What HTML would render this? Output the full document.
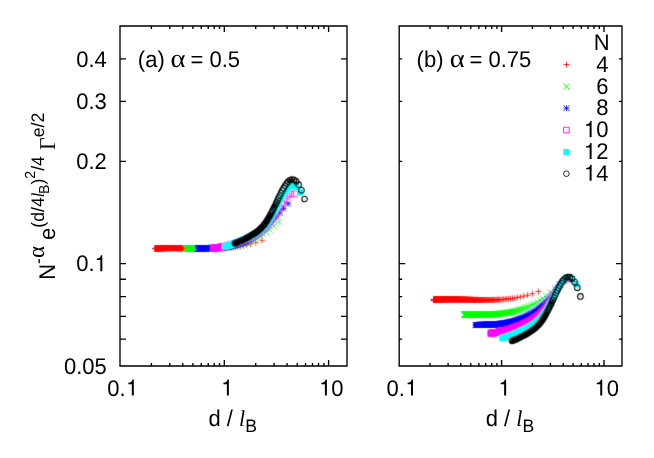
<!DOCTYPE html>
<html><head><meta charset="utf-8"><title>plot</title><style>html,body{margin:0;padding:0;background:#fff}svg{display:block}text{filter:grayscale(1)}</style></head><body>
<svg width="654" height="458" viewBox="0 0 654 458">
<rect width="654" height="458" fill="#fff"/>
<g font-family="Liberation Sans, sans-serif" font-size="22.0" fill="#000" text-rendering="geometricPrecision">
<defs><filter id="sb" x="0" y="0" width="654" height="458" filterUnits="userSpaceOnUse"><feConvolveMatrix order="3" kernelMatrix="0.02 0.08 0.02 0.08 0.6 0.08 0.02 0.08 0.02" divisor="1" edgeMode="none" preserveAlpha="false"/></filter></defs>
<g filter="url(#sb)">
<path d="M152.0 248.5h6.0M155.0 245.5v6.0M152.1 248.5h6.0M155.1 245.5v6.0M152.1 248.5h6.0M155.1 245.5v6.0M152.2 248.5h6.0M155.2 245.5v6.0M152.3 248.5h6.0M155.3 245.5v6.0M152.3 248.5h6.0M155.3 245.5v6.0M152.4 248.5h6.0M155.4 245.5v6.0M152.5 248.5h6.0M155.5 245.5v6.0M152.5 248.5h6.0M155.5 245.5v6.0M152.6 248.5h6.0M155.6 245.5v6.0M152.7 248.5h6.0M155.7 245.5v6.0M152.7 248.5h6.0M155.7 245.5v6.0M152.8 248.5h6.0M155.8 245.5v6.0M152.9 248.5h6.0M155.9 245.5v6.0M152.9 248.5h6.0M155.9 245.5v6.0M153.0 248.5h6.0M156.0 245.5v6.0M153.1 248.5h6.0M156.1 245.5v6.0M153.1 248.5h6.0M156.1 245.5v6.0M153.2 248.5h6.0M156.2 245.5v6.0M153.3 248.5h6.0M156.3 245.5v6.0M153.3 248.5h6.0M156.3 245.5v6.0M153.4 248.5h6.0M156.4 245.5v6.0M153.5 248.5h6.0M156.5 245.5v6.0M153.5 248.5h6.0M156.5 245.5v6.0M153.6 248.5h6.0M156.6 245.5v6.0M153.7 248.4h6.0M156.7 245.4v6.0M153.7 248.4h6.0M156.7 245.4v6.0M153.8 248.4h6.0M156.8 245.4v6.0M153.9 248.4h6.0M156.9 245.4v6.0M153.9 248.4h6.0M156.9 245.4v6.0M154.0 248.4h6.0M157.0 245.4v6.0M154.1 248.4h6.0M157.1 245.4v6.0M154.2 248.4h6.0M157.2 245.4v6.0M154.2 248.4h6.0M157.2 245.4v6.0M154.3 248.4h6.0M157.3 245.4v6.0M154.4 248.4h6.0M157.4 245.4v6.0M154.4 248.4h6.0M157.4 245.4v6.0M154.5 248.4h6.0M157.5 245.4v6.0M154.6 248.4h6.0M157.6 245.4v6.0M154.7 248.4h6.0M157.7 245.4v6.0M154.7 248.4h6.0M157.7 245.4v6.0M154.8 248.4h6.0M157.8 245.4v6.0M154.9 248.4h6.0M157.9 245.4v6.0M154.9 248.4h6.0M157.9 245.4v6.0M155.0 248.4h6.0M158.0 245.4v6.0M155.1 248.4h6.0M158.1 245.4v6.0M155.2 248.4h6.0M158.2 245.4v6.0M155.2 248.4h6.0M158.2 245.4v6.0M155.3 248.4h6.0M158.3 245.4v6.0M155.4 248.4h6.0M158.4 245.4v6.0M155.5 248.4h6.0M158.5 245.4v6.0M155.5 248.3h6.0M158.5 245.3v6.0M155.6 248.3h6.0M158.6 245.3v6.0M155.7 248.3h6.0M158.7 245.3v6.0M155.8 248.3h6.0M158.8 245.3v6.0M155.8 248.3h6.0M158.8 245.3v6.0M155.9 248.3h6.0M158.9 245.3v6.0M156.0 248.3h6.0M159.0 245.3v6.0M156.1 248.3h6.0M159.1 245.3v6.0M156.1 248.3h6.0M159.1 245.3v6.0M156.2 248.3h6.0M159.2 245.3v6.0M156.3 248.3h6.0M159.3 245.3v6.0M156.4 248.3h6.0M159.4 245.3v6.0M156.4 248.3h6.0M159.4 245.3v6.0M156.5 248.3h6.0M159.5 245.3v6.0M156.6 248.3h6.0M159.6 245.3v6.0M156.7 248.3h6.0M159.7 245.3v6.0M156.8 248.3h6.0M159.8 245.3v6.0M156.8 248.3h6.0M159.8 245.3v6.0M156.9 248.3h6.0M159.9 245.3v6.0M157.0 248.3h6.0M160.0 245.3v6.0M157.1 248.3h6.0M160.1 245.3v6.0M157.2 248.3h6.0M160.2 245.3v6.0M157.2 248.3h6.0M160.2 245.3v6.0M157.3 248.3h6.0M160.3 245.3v6.0M157.4 248.3h6.0M160.4 245.3v6.0M157.5 248.3h6.0M160.5 245.3v6.0M157.6 248.3h6.0M160.6 245.3v6.0M157.6 248.3h6.0M160.6 245.3v6.0M157.7 248.3h6.0M160.7 245.3v6.0M157.8 248.3h6.0M160.8 245.3v6.0M157.9 248.3h6.0M160.9 245.3v6.0M158.0 248.2h6.0M161.0 245.2v6.0M158.0 248.2h6.0M161.0 245.2v6.0M158.1 248.2h6.0M161.1 245.2v6.0M158.2 248.2h6.0M161.2 245.2v6.0M158.3 248.2h6.0M161.3 245.2v6.0M158.4 248.2h6.0M161.4 245.2v6.0M158.5 248.2h6.0M161.5 245.2v6.0M158.6 248.2h6.0M161.6 245.2v6.0M158.6 248.2h6.0M161.6 245.2v6.0M158.7 248.2h6.0M161.7 245.2v6.0M158.8 248.2h6.0M161.8 245.2v6.0M158.9 248.2h6.0M161.9 245.2v6.0M159.0 248.2h6.0M162.0 245.2v6.0M159.1 248.2h6.0M162.1 245.2v6.0M159.2 248.2h6.0M162.2 245.2v6.0M159.2 248.2h6.0M162.2 245.2v6.0M159.3 248.2h6.0M162.3 245.2v6.0M159.4 248.2h6.0M162.4 245.2v6.0M159.5 248.2h6.0M162.5 245.2v6.0M159.6 248.2h6.0M162.6 245.2v6.0M159.7 248.2h6.0M162.7 245.2v6.0M159.8 248.2h6.0M162.8 245.2v6.0M159.9 248.2h6.0M162.9 245.2v6.0M160.0 248.2h6.0M163.0 245.2v6.0M160.0 248.2h6.0M163.0 245.2v6.0M160.1 248.2h6.0M163.1 245.2v6.0M160.2 248.2h6.0M163.2 245.2v6.0M160.3 248.2h6.0M163.3 245.2v6.0M160.4 248.2h6.0M163.4 245.2v6.0M160.5 248.2h6.0M163.5 245.2v6.0M160.6 248.2h6.0M163.6 245.2v6.0M160.7 248.2h6.0M163.7 245.2v6.0M160.8 248.2h6.0M163.8 245.2v6.0M160.9 248.2h6.0M163.9 245.2v6.0M161.0 248.2h6.0M164.0 245.2v6.0M161.1 248.2h6.0M164.1 245.2v6.0M161.2 248.2h6.0M164.2 245.2v6.0M161.3 248.2h6.0M164.3 245.2v6.0M161.4 248.2h6.0M164.4 245.2v6.0M161.5 248.2h6.0M164.5 245.2v6.0M161.6 248.1h6.0M164.6 245.1v6.0M161.6 248.1h6.0M164.6 245.1v6.0M161.7 248.1h6.0M164.7 245.1v6.0M161.8 248.1h6.0M164.8 245.1v6.0M161.9 248.1h6.0M164.9 245.1v6.0M162.0 248.1h6.0M165.0 245.1v6.0M162.1 248.1h6.0M165.1 245.1v6.0M162.2 248.1h6.0M165.2 245.1v6.0M162.3 248.1h6.0M165.3 245.1v6.0M162.4 248.1h6.0M165.4 245.1v6.0M162.5 248.1h6.0M165.5 245.1v6.0M162.6 248.1h6.0M165.6 245.1v6.0M162.7 248.1h6.0M165.7 245.1v6.0M162.9 248.1h6.0M165.9 245.1v6.0M163.0 248.1h6.0M166.0 245.1v6.0M163.1 248.1h6.0M166.1 245.1v6.0M163.2 248.1h6.0M166.2 245.1v6.0M163.3 248.1h6.0M166.3 245.1v6.0M163.4 248.1h6.0M166.4 245.1v6.0M163.5 248.1h6.0M166.5 245.1v6.0M163.6 248.1h6.0M166.6 245.1v6.0M163.7 248.1h6.0M166.7 245.1v6.0M163.8 248.1h6.0M166.8 245.1v6.0M163.9 248.1h6.0M166.9 245.1v6.0M164.0 248.1h6.0M167.0 245.1v6.0M164.1 248.1h6.0M167.1 245.1v6.0M164.2 248.1h6.0M167.2 245.1v6.0M164.3 248.1h6.0M167.3 245.1v6.0M164.4 248.1h6.0M167.4 245.1v6.0M164.6 248.1h6.0M167.6 245.1v6.0M164.7 248.1h6.0M167.7 245.1v6.0M164.8 248.1h6.0M167.8 245.1v6.0M164.9 248.1h6.0M167.9 245.1v6.0M165.0 248.1h6.0M168.0 245.1v6.0M165.1 248.1h6.0M168.1 245.1v6.0M165.2 248.1h6.0M168.2 245.1v6.0M165.4 248.1h6.0M168.4 245.1v6.0M165.5 248.1h6.0M168.5 245.1v6.0M165.6 248.1h6.0M168.6 245.1v6.0M165.7 248.1h6.0M168.7 245.1v6.0M165.8 248.1h6.0M168.8 245.1v6.0M165.9 248.1h6.0M168.9 245.1v6.0M166.1 248.1h6.0M169.1 245.1v6.0M166.2 248.1h6.0M169.2 245.1v6.0M166.3 248.1h6.0M169.3 245.1v6.0M166.4 248.1h6.0M169.4 245.1v6.0M166.5 248.1h6.0M169.5 245.1v6.0M166.7 248.1h6.0M169.7 245.1v6.0M166.8 248.1h6.0M169.8 245.1v6.0M166.9 248.1h6.0M169.9 245.1v6.0M167.0 248.1h6.0M170.0 245.1v6.0M167.1 248.1h6.0M170.1 245.1v6.0M167.3 248.1h6.0M170.3 245.1v6.0M167.4 248.1h6.0M170.4 245.1v6.0M167.5 248.1h6.0M170.5 245.1v6.0M167.6 248.1h6.0M170.6 245.1v6.0M167.8 248.1h6.0M170.8 245.1v6.0M167.9 248.1h6.0M170.9 245.1v6.0M168.0 248.1h6.0M171.0 245.1v6.0M168.2 248.1h6.0M171.2 245.1v6.0M168.3 248.1h6.0M171.3 245.1v6.0M168.4 248.1h6.0M171.4 245.1v6.0M168.6 248.1h6.0M171.6 245.1v6.0M168.7 248.1h6.0M171.7 245.1v6.0M168.8 248.1h6.0M171.8 245.1v6.0M169.0 248.1h6.0M172.0 245.1v6.0M169.1 248.1h6.0M172.1 245.1v6.0M169.2 248.1h6.0M172.2 245.1v6.0M169.4 248.1h6.0M172.4 245.1v6.0M169.5 248.1h6.0M172.5 245.1v6.0M169.6 248.1h6.0M172.6 245.1v6.0M169.8 248.1h6.0M172.8 245.1v6.0M169.9 248.1h6.0M172.9 245.1v6.0M170.1 248.1h6.0M173.1 245.1v6.0M170.2 248.1h6.0M173.2 245.1v6.0M170.3 248.1h6.0M173.3 245.1v6.0M170.5 248.1h6.0M173.5 245.1v6.0M170.6 248.1h6.0M173.6 245.1v6.0M170.8 248.1h6.0M173.8 245.1v6.0M170.9 248.1h6.0M173.9 245.1v6.0M171.1 248.1h6.0M174.1 245.1v6.0M171.2 248.1h6.0M174.2 245.1v6.0M171.4 248.1h6.0M174.4 245.1v6.0M171.5 248.1h6.0M174.5 245.1v6.0M171.7 248.1h6.0M174.7 245.1v6.0M171.8 248.1h6.0M174.8 245.1v6.0M172.0 248.1h6.0M175.0 245.1v6.0M172.1 248.1h6.0M175.1 245.1v6.0M172.3 248.1h6.0M175.3 245.1v6.0M172.4 248.1h6.0M175.4 245.1v6.0M172.6 248.1h6.0M175.6 245.1v6.0M172.8 248.1h6.0M175.8 245.1v6.0M172.9 248.1h6.0M175.9 245.1v6.0M173.1 248.1h6.0M176.1 245.1v6.0M173.2 248.1h6.0M176.2 245.1v6.0M173.4 248.1h6.0M176.4 245.1v6.0M173.6 248.2h6.0M176.6 245.2v6.0M173.7 248.2h6.0M176.7 245.2v6.0M173.9 248.2h6.0M176.9 245.2v6.0M174.1 248.2h6.0M177.1 245.2v6.0M174.2 248.2h6.0M177.2 245.2v6.0M174.4 248.2h6.0M177.4 245.2v6.0M174.6 248.2h6.0M177.6 245.2v6.0M174.8 248.2h6.0M177.8 245.2v6.0M174.9 248.2h6.0M177.9 245.2v6.0M175.1 248.2h6.0M178.1 245.2v6.0M175.3 248.2h6.0M178.3 245.2v6.0M175.5 248.2h6.0M178.5 245.2v6.0M175.6 248.2h6.0M178.6 245.2v6.0M175.8 248.2h6.0M178.8 245.2v6.0M176.0 248.2h6.0M179.0 245.2v6.0M176.2 248.2h6.0M179.2 245.2v6.0M176.4 248.2h6.0M179.4 245.2v6.0M176.6 248.2h6.0M179.6 245.2v6.0M176.8 248.2h6.0M179.8 245.2v6.0M176.9 248.2h6.0M179.9 245.2v6.0M177.1 248.2h6.0M180.1 245.2v6.0M177.3 248.2h6.0M180.3 245.2v6.0M177.5 248.2h6.0M180.5 245.2v6.0M177.7 248.2h6.0M180.7 245.2v6.0M177.9 248.2h6.0M180.9 245.2v6.0M178.1 248.2h6.0M181.1 245.2v6.0M178.3 248.2h6.0M181.3 245.2v6.0M178.5 248.3h6.0M181.5 245.3v6.0M178.7 248.3h6.0M181.7 245.3v6.0M178.9 248.3h6.0M181.9 245.3v6.0M179.2 248.3h6.0M182.2 245.3v6.0M179.4 248.3h6.0M182.4 245.3v6.0M179.6 248.3h6.0M182.6 245.3v6.0M179.8 248.3h6.0M182.8 245.3v6.0M180.0 248.3h6.0M183.0 245.3v6.0M180.2 248.3h6.0M183.2 245.3v6.0M180.5 248.3h6.0M183.5 245.3v6.0M180.7 248.3h6.0M183.7 245.3v6.0M180.9 248.3h6.0M183.9 245.3v6.0M181.1 248.3h6.0M184.1 245.3v6.0M181.4 248.3h6.0M184.4 245.3v6.0M181.6 248.3h6.0M184.6 245.3v6.0M181.8 248.3h6.0M184.8 245.3v6.0M182.1 248.4h6.0M185.1 245.4v6.0M182.3 248.4h6.0M185.3 245.4v6.0M182.6 248.4h6.0M185.6 245.4v6.0M182.8 248.4h6.0M185.8 245.4v6.0M183.1 248.4h6.0M186.1 245.4v6.0M183.3 248.4h6.0M186.3 245.4v6.0M183.6 248.4h6.0M186.6 245.4v6.0M183.8 248.4h6.0M186.8 245.4v6.0M184.1 248.4h6.0M187.1 245.4v6.0M184.4 248.4h6.0M187.4 245.4v6.0M184.6 248.4h6.0M187.6 245.4v6.0M184.9 248.4h6.0M187.9 245.4v6.0M185.2 248.4h6.0M188.2 245.4v6.0M185.5 248.4h6.0M188.5 245.4v6.0M185.7 248.5h6.0M188.7 245.5v6.0M186.0 248.5h6.0M189.0 245.5v6.0M186.3 248.5h6.0M189.3 245.5v6.0M186.6 248.5h6.0M189.6 245.5v6.0M186.9 248.5h6.0M189.9 245.5v6.0M187.2 248.5h6.0M190.2 245.5v6.0M187.5 248.5h6.0M190.5 245.5v6.0M187.8 248.5h6.0M190.8 245.5v6.0M188.1 248.5h6.0M191.1 245.5v6.0M188.4 248.5h6.0M191.4 245.5v6.0M188.8 248.5h6.0M191.8 245.5v6.0M189.1 248.6h6.0M192.1 245.6v6.0M189.4 248.6h6.0M192.4 245.6v6.0M189.7 248.6h6.0M192.7 245.6v6.0M190.1 248.6h6.0M193.1 245.6v6.0M190.4 248.6h6.0M193.4 245.6v6.0M190.8 248.6h6.0M193.8 245.6v6.0M191.1 248.6h6.0M194.1 245.6v6.0M191.5 248.6h6.0M194.5 245.6v6.0M191.9 248.6h6.0M194.9 245.6v6.0M192.2 248.6h6.0M195.2 245.6v6.0M192.6 248.7h6.0M195.6 245.7v6.0M193.0 248.7h6.0M196.0 245.7v6.0M193.4 248.7h6.0M196.4 245.7v6.0M193.8 248.7h6.0M196.8 245.7v6.0M194.2 248.7h6.0M197.2 245.7v6.0M194.6 248.7h6.0M197.6 245.7v6.0M195.0 248.7h6.0M198.0 245.7v6.0M195.5 248.7h6.0M198.5 245.7v6.0M195.9 248.7h6.0M198.9 245.7v6.0M196.4 248.7h6.0M199.4 245.7v6.0M196.8 248.8h6.0M199.8 245.8v6.0M197.3 248.8h6.0M200.3 245.8v6.0M197.7 248.8h6.0M200.7 245.8v6.0M198.2 248.8h6.0M201.2 245.8v6.0M198.7 248.8h6.0M201.7 245.8v6.0M199.2 248.8h6.0M202.2 245.8v6.0M199.8 248.8h6.0M202.8 245.8v6.0M200.3 248.8h6.0M203.3 245.8v6.0M200.8 248.8h6.0M203.8 245.8v6.0M201.4 248.8h6.0M204.4 245.8v6.0M202.0 248.8h6.0M205.0 245.8v6.0M202.5 248.8h6.0M205.5 245.8v6.0M203.1 248.8h6.0M206.1 245.8v6.0M203.8 248.9h6.0M206.8 245.9v6.0M204.4 248.9h6.0M207.4 245.9v6.0M205.0 248.9h6.0M208.0 245.9v6.0M205.7 248.9h6.0M208.7 245.9v6.0M206.4 248.9h6.0M209.4 245.9v6.0M207.1 248.9h6.0M210.1 245.9v6.0M207.9 248.8h6.0M210.9 245.8v6.0M208.6 248.8h6.0M211.6 245.8v6.0M209.4 248.8h6.0M212.4 245.8v6.0M210.2 248.8h6.0M213.2 245.8v6.0M211.1 248.8h6.0M214.1 245.8v6.0M212.0 248.8h6.0M215.0 245.8v6.0M212.9 248.8h6.0M215.9 245.8v6.0M213.8 248.7h6.0M216.8 245.7v6.0M214.8 248.7h6.0M217.8 245.7v6.0M215.9 248.7h6.0M218.9 245.7v6.0M217.0 248.6h6.0M220.0 245.6v6.0M218.1 248.5h6.0M221.1 245.5v6.0M219.4 248.5h6.0M222.4 245.5v6.0M220.6 248.4h6.0M223.6 245.4v6.0M222.0 248.3h6.0M225.0 245.3v6.0M223.4 248.2h6.0M226.4 245.2v6.0M225.0 248.1h6.0M228.0 245.1v6.0M226.6 247.9h6.0M229.6 244.9v6.0M228.4 247.7h6.0M231.4 244.7v6.0M230.4 247.5h6.0M233.4 244.5v6.0M232.5 247.2h6.0M235.5 244.2v6.0M234.8 246.8h6.0M237.8 243.8v6.0M237.4 246.4h6.0M240.4 243.4v6.0M240.4 245.8h6.0M243.4 242.8v6.0M243.8 245.0h6.0M246.8 242.0v6.0M247.8 244.0h6.0M250.8 241.0v6.0M252.7 242.5h6.0M255.7 239.5v6.0M258.9 240.3h6.0M261.9 237.3v6.0" fill="none" stroke="#ff0000" stroke-width="0.8"/>
<path d="M183.2 245.5l6.0 6.0M183.2 251.5l6.0 -6.0M183.3 245.5l6.0 6.0M183.3 251.5l6.0 -6.0M183.4 245.5l6.0 6.0M183.4 251.5l6.0 -6.0M183.5 245.5l6.0 6.0M183.5 251.5l6.0 -6.0M183.6 245.5l6.0 6.0M183.6 251.5l6.0 -6.0M183.7 245.5l6.0 6.0M183.7 251.5l6.0 -6.0M183.8 245.5l6.0 6.0M183.8 251.5l6.0 -6.0M183.9 245.5l6.0 6.0M183.9 251.5l6.0 -6.0M184.0 245.5l6.0 6.0M184.0 251.5l6.0 -6.0M184.1 245.5l6.0 6.0M184.1 251.5l6.0 -6.0M184.2 245.5l6.0 6.0M184.2 251.5l6.0 -6.0M184.3 245.5l6.0 6.0M184.3 251.5l6.0 -6.0M184.4 245.5l6.0 6.0M184.4 251.5l6.0 -6.0M184.5 245.5l6.0 6.0M184.5 251.5l6.0 -6.0M184.6 245.5l6.0 6.0M184.6 251.5l6.0 -6.0M184.7 245.5l6.0 6.0M184.7 251.5l6.0 -6.0M184.8 245.5l6.0 6.0M184.8 251.5l6.0 -6.0M184.9 245.5l6.0 6.0M184.9 251.5l6.0 -6.0M185.0 245.5l6.0 6.0M185.0 251.5l6.0 -6.0M185.1 245.5l6.0 6.0M185.1 251.5l6.0 -6.0M185.2 245.5l6.0 6.0M185.2 251.5l6.0 -6.0M185.3 245.5l6.0 6.0M185.3 251.5l6.0 -6.0M185.4 245.5l6.0 6.0M185.4 251.5l6.0 -6.0M185.5 245.5l6.0 6.0M185.5 251.5l6.0 -6.0M185.6 245.5l6.0 6.0M185.6 251.5l6.0 -6.0M185.7 245.5l6.0 6.0M185.7 251.5l6.0 -6.0M185.8 245.5l6.0 6.0M185.8 251.5l6.0 -6.0M185.9 245.5l6.0 6.0M185.9 251.5l6.0 -6.0M186.0 245.5l6.0 6.0M186.0 251.5l6.0 -6.0M186.1 245.5l6.0 6.0M186.1 251.5l6.0 -6.0M186.2 245.5l6.0 6.0M186.2 251.5l6.0 -6.0M186.4 245.5l6.0 6.0M186.4 251.5l6.0 -6.0M186.5 245.5l6.0 6.0M186.5 251.5l6.0 -6.0M186.6 245.5l6.0 6.0M186.6 251.5l6.0 -6.0M186.7 245.5l6.0 6.0M186.7 251.5l6.0 -6.0M186.8 245.5l6.0 6.0M186.8 251.5l6.0 -6.0M186.9 245.5l6.0 6.0M186.9 251.5l6.0 -6.0M187.0 245.5l6.0 6.0M187.0 251.5l6.0 -6.0M187.1 245.5l6.0 6.0M187.1 251.5l6.0 -6.0M187.2 245.5l6.0 6.0M187.2 251.5l6.0 -6.0M187.4 245.5l6.0 6.0M187.4 251.5l6.0 -6.0M187.5 245.5l6.0 6.0M187.5 251.5l6.0 -6.0M187.6 245.5l6.0 6.0M187.6 251.5l6.0 -6.0M187.7 245.5l6.0 6.0M187.7 251.5l6.0 -6.0M187.8 245.5l6.0 6.0M187.8 251.5l6.0 -6.0M187.9 245.5l6.0 6.0M187.9 251.5l6.0 -6.0M188.1 245.5l6.0 6.0M188.1 251.5l6.0 -6.0M188.2 245.5l6.0 6.0M188.2 251.5l6.0 -6.0M188.3 245.5l6.0 6.0M188.3 251.5l6.0 -6.0M188.4 245.5l6.0 6.0M188.4 251.5l6.0 -6.0M188.5 245.5l6.0 6.0M188.5 251.5l6.0 -6.0M188.6 245.5l6.0 6.0M188.6 251.5l6.0 -6.0M188.8 245.5l6.0 6.0M188.8 251.5l6.0 -6.0M188.9 245.5l6.0 6.0M188.9 251.5l6.0 -6.0M189.0 245.5l6.0 6.0M189.0 251.5l6.0 -6.0M189.1 245.5l6.0 6.0M189.1 251.5l6.0 -6.0M189.3 245.5l6.0 6.0M189.3 251.5l6.0 -6.0M189.4 245.5l6.0 6.0M189.4 251.5l6.0 -6.0M189.5 245.5l6.0 6.0M189.5 251.5l6.0 -6.0M189.6 245.5l6.0 6.0M189.6 251.5l6.0 -6.0M189.8 245.5l6.0 6.0M189.8 251.5l6.0 -6.0M189.9 245.5l6.0 6.0M189.9 251.5l6.0 -6.0M190.0 245.5l6.0 6.0M190.0 251.5l6.0 -6.0M190.1 245.5l6.0 6.0M190.1 251.5l6.0 -6.0M190.3 245.5l6.0 6.0M190.3 251.5l6.0 -6.0M190.4 245.5l6.0 6.0M190.4 251.5l6.0 -6.0M190.5 245.5l6.0 6.0M190.5 251.5l6.0 -6.0M190.7 245.5l6.0 6.0M190.7 251.5l6.0 -6.0M190.8 245.5l6.0 6.0M190.8 251.5l6.0 -6.0M190.9 245.5l6.0 6.0M190.9 251.5l6.0 -6.0M191.1 245.5l6.0 6.0M191.1 251.5l6.0 -6.0M191.2 245.5l6.0 6.0M191.2 251.5l6.0 -6.0M191.3 245.5l6.0 6.0M191.3 251.5l6.0 -6.0M191.5 245.5l6.0 6.0M191.5 251.5l6.0 -6.0M191.6 245.5l6.0 6.0M191.6 251.5l6.0 -6.0M191.7 245.5l6.0 6.0M191.7 251.5l6.0 -6.0M191.9 245.5l6.0 6.0M191.9 251.5l6.0 -6.0M192.0 245.5l6.0 6.0M192.0 251.5l6.0 -6.0M192.2 245.5l6.0 6.0M192.2 251.5l6.0 -6.0M192.3 245.5l6.0 6.0M192.3 251.5l6.0 -6.0M192.4 245.5l6.0 6.0M192.4 251.5l6.0 -6.0M192.6 245.5l6.0 6.0M192.6 251.5l6.0 -6.0M192.7 245.5l6.0 6.0M192.7 251.5l6.0 -6.0M192.9 245.5l6.0 6.0M192.9 251.5l6.0 -6.0M193.0 245.5l6.0 6.0M193.0 251.5l6.0 -6.0M193.2 245.5l6.0 6.0M193.2 251.5l6.0 -6.0M193.3 245.5l6.0 6.0M193.3 251.5l6.0 -6.0M193.5 245.5l6.0 6.0M193.5 251.5l6.0 -6.0M193.6 245.5l6.0 6.0M193.6 251.5l6.0 -6.0M193.8 245.5l6.0 6.0M193.8 251.5l6.0 -6.0M193.9 245.5l6.0 6.0M193.9 251.5l6.0 -6.0M194.1 245.5l6.0 6.0M194.1 251.5l6.0 -6.0M194.2 245.5l6.0 6.0M194.2 251.5l6.0 -6.0M194.4 245.5l6.0 6.0M194.4 251.5l6.0 -6.0M194.5 245.5l6.0 6.0M194.5 251.5l6.0 -6.0M194.7 245.5l6.0 6.0M194.7 251.5l6.0 -6.0M194.8 245.5l6.0 6.0M194.8 251.5l6.0 -6.0M195.0 245.5l6.0 6.0M195.0 251.5l6.0 -6.0M195.2 245.5l6.0 6.0M195.2 251.5l6.0 -6.0M195.3 245.5l6.0 6.0M195.3 251.5l6.0 -6.0M195.5 245.5l6.0 6.0M195.5 251.5l6.0 -6.0M195.6 245.5l6.0 6.0M195.6 251.5l6.0 -6.0M195.8 245.5l6.0 6.0M195.8 251.5l6.0 -6.0M196.0 245.5l6.0 6.0M196.0 251.5l6.0 -6.0M196.1 245.5l6.0 6.0M196.1 251.5l6.0 -6.0M196.3 245.5l6.0 6.0M196.3 251.5l6.0 -6.0M196.5 245.5l6.0 6.0M196.5 251.5l6.0 -6.0M196.7 245.5l6.0 6.0M196.7 251.5l6.0 -6.0M196.8 245.5l6.0 6.0M196.8 251.5l6.0 -6.0M197.0 245.5l6.0 6.0M197.0 251.5l6.0 -6.0M197.2 245.5l6.0 6.0M197.2 251.5l6.0 -6.0M197.4 245.5l6.0 6.0M197.4 251.5l6.0 -6.0M197.5 245.5l6.0 6.0M197.5 251.5l6.0 -6.0M197.7 245.5l6.0 6.0M197.7 251.5l6.0 -6.0M197.9 245.5l6.0 6.0M197.9 251.5l6.0 -6.0M198.1 245.5l6.0 6.0M198.1 251.5l6.0 -6.0M198.3 245.5l6.0 6.0M198.3 251.5l6.0 -6.0M198.4 245.5l6.0 6.0M198.4 251.5l6.0 -6.0M198.6 245.5l6.0 6.0M198.6 251.5l6.0 -6.0M198.8 245.5l6.0 6.0M198.8 251.5l6.0 -6.0M199.0 245.5l6.0 6.0M199.0 251.5l6.0 -6.0M199.2 245.5l6.0 6.0M199.2 251.5l6.0 -6.0M199.4 245.5l6.0 6.0M199.4 251.5l6.0 -6.0M199.6 245.5l6.0 6.0M199.6 251.5l6.0 -6.0M199.8 245.5l6.0 6.0M199.8 251.5l6.0 -6.0M200.0 245.5l6.0 6.0M200.0 251.5l6.0 -6.0M200.2 245.5l6.0 6.0M200.2 251.5l6.0 -6.0M200.4 245.5l6.0 6.0M200.4 251.5l6.0 -6.0M200.6 245.5l6.0 6.0M200.6 251.5l6.0 -6.0M200.8 245.5l6.0 6.0M200.8 251.5l6.0 -6.0M201.0 245.5l6.0 6.0M201.0 251.5l6.0 -6.0M201.2 245.5l6.0 6.0M201.2 251.5l6.0 -6.0M201.4 245.5l6.0 6.0M201.4 251.5l6.0 -6.0M201.6 245.5l6.0 6.0M201.6 251.5l6.0 -6.0M201.8 245.5l6.0 6.0M201.8 251.5l6.0 -6.0M202.1 245.5l6.0 6.0M202.1 251.5l6.0 -6.0M202.3 245.5l6.0 6.0M202.3 251.5l6.0 -6.0M202.5 245.5l6.0 6.0M202.5 251.5l6.0 -6.0M202.7 245.5l6.0 6.0M202.7 251.5l6.0 -6.0M202.9 245.5l6.0 6.0M202.9 251.5l6.0 -6.0M203.2 245.5l6.0 6.0M203.2 251.5l6.0 -6.0M203.4 245.5l6.0 6.0M203.4 251.5l6.0 -6.0M203.6 245.5l6.0 6.0M203.6 251.5l6.0 -6.0M203.9 245.5l6.0 6.0M203.9 251.5l6.0 -6.0M204.1 245.5l6.0 6.0M204.1 251.5l6.0 -6.0M204.3 245.5l6.0 6.0M204.3 251.5l6.0 -6.0M204.6 245.5l6.0 6.0M204.6 251.5l6.0 -6.0M204.8 245.4l6.0 6.0M204.8 251.4l6.0 -6.0M205.1 245.4l6.0 6.0M205.1 251.4l6.0 -6.0M205.3 245.4l6.0 6.0M205.3 251.4l6.0 -6.0M205.6 245.4l6.0 6.0M205.6 251.4l6.0 -6.0M205.8 245.4l6.0 6.0M205.8 251.4l6.0 -6.0M206.1 245.4l6.0 6.0M206.1 251.4l6.0 -6.0M206.4 245.4l6.0 6.0M206.4 251.4l6.0 -6.0M206.6 245.4l6.0 6.0M206.6 251.4l6.0 -6.0M206.9 245.4l6.0 6.0M206.9 251.4l6.0 -6.0M207.2 245.4l6.0 6.0M207.2 251.4l6.0 -6.0M207.4 245.4l6.0 6.0M207.4 251.4l6.0 -6.0M207.7 245.4l6.0 6.0M207.7 251.4l6.0 -6.0M208.0 245.4l6.0 6.0M208.0 251.4l6.0 -6.0M208.3 245.4l6.0 6.0M208.3 251.4l6.0 -6.0M208.6 245.3l6.0 6.0M208.6 251.3l6.0 -6.0M208.9 245.3l6.0 6.0M208.9 251.3l6.0 -6.0M209.2 245.3l6.0 6.0M209.2 251.3l6.0 -6.0M209.5 245.3l6.0 6.0M209.5 251.3l6.0 -6.0M209.8 245.3l6.0 6.0M209.8 251.3l6.0 -6.0M210.1 245.3l6.0 6.0M210.1 251.3l6.0 -6.0M210.4 245.3l6.0 6.0M210.4 251.3l6.0 -6.0M210.7 245.3l6.0 6.0M210.7 251.3l6.0 -6.0M211.0 245.2l6.0 6.0M211.0 251.2l6.0 -6.0M211.3 245.2l6.0 6.0M211.3 251.2l6.0 -6.0M211.7 245.2l6.0 6.0M211.7 251.2l6.0 -6.0M212.0 245.2l6.0 6.0M212.0 251.2l6.0 -6.0M212.4 245.2l6.0 6.0M212.4 251.2l6.0 -6.0M212.7 245.2l6.0 6.0M212.7 251.2l6.0 -6.0M213.1 245.1l6.0 6.0M213.1 251.1l6.0 -6.0M213.4 245.1l6.0 6.0M213.4 251.1l6.0 -6.0M213.8 245.1l6.0 6.0M213.8 251.1l6.0 -6.0M214.1 245.1l6.0 6.0M214.1 251.1l6.0 -6.0M214.5 245.0l6.0 6.0M214.5 251.0l6.0 -6.0M214.9 245.0l6.0 6.0M214.9 251.0l6.0 -6.0M215.3 245.0l6.0 6.0M215.3 251.0l6.0 -6.0M215.7 245.0l6.0 6.0M215.7 251.0l6.0 -6.0M216.1 244.9l6.0 6.0M216.1 250.9l6.0 -6.0M216.5 244.9l6.0 6.0M216.5 250.9l6.0 -6.0M216.9 244.9l6.0 6.0M216.9 250.9l6.0 -6.0M217.3 244.8l6.0 6.0M217.3 250.8l6.0 -6.0M217.8 244.8l6.0 6.0M217.8 250.8l6.0 -6.0M218.2 244.8l6.0 6.0M218.2 250.8l6.0 -6.0M218.6 244.7l6.0 6.0M218.6 250.7l6.0 -6.0M219.1 244.7l6.0 6.0M219.1 250.7l6.0 -6.0M219.6 244.6l6.0 6.0M219.6 250.6l6.0 -6.0M220.0 244.6l6.0 6.0M220.0 250.6l6.0 -6.0M220.5 244.5l6.0 6.0M220.5 250.5l6.0 -6.0M221.0 244.5l6.0 6.0M221.0 250.5l6.0 -6.0M221.5 244.4l6.0 6.0M221.5 250.4l6.0 -6.0M222.1 244.3l6.0 6.0M222.1 250.3l6.0 -6.0M222.6 244.3l6.0 6.0M222.6 250.3l6.0 -6.0M223.1 244.2l6.0 6.0M223.1 250.2l6.0 -6.0M223.7 244.1l6.0 6.0M223.7 250.1l6.0 -6.0M224.3 244.1l6.0 6.0M224.3 250.1l6.0 -6.0M224.9 244.0l6.0 6.0M224.9 250.0l6.0 -6.0M225.5 243.9l6.0 6.0M225.5 249.9l6.0 -6.0M226.1 243.8l6.0 6.0M226.1 249.8l6.0 -6.0M226.7 243.7l6.0 6.0M226.7 249.7l6.0 -6.0M227.4 243.6l6.0 6.0M227.4 249.6l6.0 -6.0M228.1 243.5l6.0 6.0M228.1 249.5l6.0 -6.0M228.8 243.3l6.0 6.0M228.8 249.3l6.0 -6.0M229.5 243.2l6.0 6.0M229.5 249.2l6.0 -6.0M230.2 243.1l6.0 6.0M230.2 249.1l6.0 -6.0M231.0 242.9l6.0 6.0M231.0 248.9l6.0 -6.0M231.8 242.7l6.0 6.0M231.8 248.7l6.0 -6.0M232.6 242.5l6.0 6.0M232.6 248.5l6.0 -6.0M233.5 242.4l6.0 6.0M233.5 248.4l6.0 -6.0M234.3 242.1l6.0 6.0M234.3 248.1l6.0 -6.0M235.3 241.9l6.0 6.0M235.3 247.9l6.0 -6.0M236.2 241.7l6.0 6.0M236.2 247.7l6.0 -6.0M237.2 241.4l6.0 6.0M237.2 247.4l6.0 -6.0M238.3 241.1l6.0 6.0M238.3 247.1l6.0 -6.0M239.4 240.8l6.0 6.0M239.4 246.8l6.0 -6.0M240.6 240.4l6.0 6.0M240.6 246.4l6.0 -6.0M241.8 240.0l6.0 6.0M241.8 246.0l6.0 -6.0M243.1 239.5l6.0 6.0M243.1 245.5l6.0 -6.0M244.4 239.0l6.0 6.0M244.4 245.0l6.0 -6.0M245.9 238.5l6.0 6.0M245.9 244.5l6.0 -6.0M247.5 237.8l6.0 6.0M247.5 243.8l6.0 -6.0M249.1 237.1l6.0 6.0M249.1 243.1l6.0 -6.0M251.0 236.3l6.0 6.0M251.0 242.3l6.0 -6.0M252.9 235.3l6.0 6.0M252.9 241.3l6.0 -6.0M255.1 234.2l6.0 6.0M255.1 240.2l6.0 -6.0M257.5 232.9l6.0 6.0M257.5 238.9l6.0 -6.0M260.1 231.2l6.0 6.0M260.1 237.2l6.0 -6.0M263.2 229.2l6.0 6.0M263.2 235.2l6.0 -6.0M266.6 226.7l6.0 6.0M266.6 232.7l6.0 -6.0M270.8 223.4l6.0 6.0M270.8 229.4l6.0 -6.0M275.8 218.9l6.0 6.0M275.8 224.9l6.0 -6.0" fill="none" stroke="#00ff00" stroke-width="0.8"/>
<path d="M194.9 248.3h6.0M197.9 245.3v6.0M194.9 245.3l6.0 6.0M194.9 251.3l6.0 -6.0M195.0 248.3h6.0M198.0 245.3v6.0M195.0 245.3l6.0 6.0M195.0 251.3l6.0 -6.0M195.1 248.3h6.0M198.1 245.3v6.0M195.1 245.3l6.0 6.0M195.1 251.3l6.0 -6.0M195.2 248.3h6.0M198.2 245.3v6.0M195.2 245.3l6.0 6.0M195.2 251.3l6.0 -6.0M195.3 248.2h6.0M198.3 245.2v6.0M195.3 245.2l6.0 6.0M195.3 251.2l6.0 -6.0M195.4 248.2h6.0M198.4 245.2v6.0M195.4 245.2l6.0 6.0M195.4 251.2l6.0 -6.0M195.5 248.2h6.0M198.5 245.2v6.0M195.5 245.2l6.0 6.0M195.5 251.2l6.0 -6.0M195.6 248.2h6.0M198.6 245.2v6.0M195.6 245.2l6.0 6.0M195.6 251.2l6.0 -6.0M195.7 248.2h6.0M198.7 245.2v6.0M195.7 245.2l6.0 6.0M195.7 251.2l6.0 -6.0M195.8 248.2h6.0M198.8 245.2v6.0M195.8 245.2l6.0 6.0M195.8 251.2l6.0 -6.0M195.9 248.2h6.0M198.9 245.2v6.0M195.9 245.2l6.0 6.0M195.9 251.2l6.0 -6.0M196.0 248.2h6.0M199.0 245.2v6.0M196.0 245.2l6.0 6.0M196.0 251.2l6.0 -6.0M196.1 248.2h6.0M199.1 245.2v6.0M196.1 245.2l6.0 6.0M196.1 251.2l6.0 -6.0M196.2 248.2h6.0M199.2 245.2v6.0M196.2 245.2l6.0 6.0M196.2 251.2l6.0 -6.0M196.3 248.2h6.0M199.3 245.2v6.0M196.3 245.2l6.0 6.0M196.3 251.2l6.0 -6.0M196.4 248.2h6.0M199.4 245.2v6.0M196.4 245.2l6.0 6.0M196.4 251.2l6.0 -6.0M196.5 248.2h6.0M199.5 245.2v6.0M196.5 245.2l6.0 6.0M196.5 251.2l6.0 -6.0M196.6 248.2h6.0M199.6 245.2v6.0M196.6 245.2l6.0 6.0M196.6 251.2l6.0 -6.0M196.7 248.2h6.0M199.7 245.2v6.0M196.7 245.2l6.0 6.0M196.7 251.2l6.0 -6.0M196.8 248.2h6.0M199.8 245.2v6.0M196.8 245.2l6.0 6.0M196.8 251.2l6.0 -6.0M196.9 248.2h6.0M199.9 245.2v6.0M196.9 245.2l6.0 6.0M196.9 251.2l6.0 -6.0M197.0 248.2h6.0M200.0 245.2v6.0M197.0 245.2l6.0 6.0M197.0 251.2l6.0 -6.0M197.1 248.2h6.0M200.1 245.2v6.0M197.1 245.2l6.0 6.0M197.1 251.2l6.0 -6.0M197.2 248.2h6.0M200.2 245.2v6.0M197.2 245.2l6.0 6.0M197.2 251.2l6.0 -6.0M197.3 248.2h6.0M200.3 245.2v6.0M197.3 245.2l6.0 6.0M197.3 251.2l6.0 -6.0M197.5 248.2h6.0M200.5 245.2v6.0M197.5 245.2l6.0 6.0M197.5 251.2l6.0 -6.0M197.6 248.2h6.0M200.6 245.2v6.0M197.6 245.2l6.0 6.0M197.6 251.2l6.0 -6.0M197.7 248.2h6.0M200.7 245.2v6.0M197.7 245.2l6.0 6.0M197.7 251.2l6.0 -6.0M197.8 248.2h6.0M200.8 245.2v6.0M197.8 245.2l6.0 6.0M197.8 251.2l6.0 -6.0M197.9 248.2h6.0M200.9 245.2v6.0M197.9 245.2l6.0 6.0M197.9 251.2l6.0 -6.0M198.0 248.2h6.0M201.0 245.2v6.0M198.0 245.2l6.0 6.0M198.0 251.2l6.0 -6.0M198.1 248.2h6.0M201.1 245.2v6.0M198.1 245.2l6.0 6.0M198.1 251.2l6.0 -6.0M198.2 248.2h6.0M201.2 245.2v6.0M198.2 245.2l6.0 6.0M198.2 251.2l6.0 -6.0M198.3 248.2h6.0M201.3 245.2v6.0M198.3 245.2l6.0 6.0M198.3 251.2l6.0 -6.0M198.4 248.2h6.0M201.4 245.2v6.0M198.4 245.2l6.0 6.0M198.4 251.2l6.0 -6.0M198.5 248.2h6.0M201.5 245.2v6.0M198.5 245.2l6.0 6.0M198.5 251.2l6.0 -6.0M198.7 248.2h6.0M201.7 245.2v6.0M198.7 245.2l6.0 6.0M198.7 251.2l6.0 -6.0M198.8 248.2h6.0M201.8 245.2v6.0M198.8 245.2l6.0 6.0M198.8 251.2l6.0 -6.0M198.9 248.2h6.0M201.9 245.2v6.0M198.9 245.2l6.0 6.0M198.9 251.2l6.0 -6.0M199.0 248.2h6.0M202.0 245.2v6.0M199.0 245.2l6.0 6.0M199.0 251.2l6.0 -6.0M199.1 248.2h6.0M202.1 245.2v6.0M199.1 245.2l6.0 6.0M199.1 251.2l6.0 -6.0M199.2 248.2h6.0M202.2 245.2v6.0M199.2 245.2l6.0 6.0M199.2 251.2l6.0 -6.0M199.3 248.2h6.0M202.3 245.2v6.0M199.3 245.2l6.0 6.0M199.3 251.2l6.0 -6.0M199.5 248.2h6.0M202.5 245.2v6.0M199.5 245.2l6.0 6.0M199.5 251.2l6.0 -6.0M199.6 248.2h6.0M202.6 245.2v6.0M199.6 245.2l6.0 6.0M199.6 251.2l6.0 -6.0M199.7 248.2h6.0M202.7 245.2v6.0M199.7 245.2l6.0 6.0M199.7 251.2l6.0 -6.0M199.8 248.2h6.0M202.8 245.2v6.0M199.8 245.2l6.0 6.0M199.8 251.2l6.0 -6.0M199.9 248.2h6.0M202.9 245.2v6.0M199.9 245.2l6.0 6.0M199.9 251.2l6.0 -6.0M200.0 248.2h6.0M203.0 245.2v6.0M200.0 245.2l6.0 6.0M200.0 251.2l6.0 -6.0M200.2 248.2h6.0M203.2 245.2v6.0M200.2 245.2l6.0 6.0M200.2 251.2l6.0 -6.0M200.3 248.2h6.0M203.3 245.2v6.0M200.3 245.2l6.0 6.0M200.3 251.2l6.0 -6.0M200.4 248.2h6.0M203.4 245.2v6.0M200.4 245.2l6.0 6.0M200.4 251.2l6.0 -6.0M200.5 248.2h6.0M203.5 245.2v6.0M200.5 245.2l6.0 6.0M200.5 251.2l6.0 -6.0M200.7 248.2h6.0M203.7 245.2v6.0M200.7 245.2l6.0 6.0M200.7 251.2l6.0 -6.0M200.8 248.2h6.0M203.8 245.2v6.0M200.8 245.2l6.0 6.0M200.8 251.2l6.0 -6.0M200.9 248.2h6.0M203.9 245.2v6.0M200.9 245.2l6.0 6.0M200.9 251.2l6.0 -6.0M201.0 248.2h6.0M204.0 245.2v6.0M201.0 245.2l6.0 6.0M201.0 251.2l6.0 -6.0M201.1 248.2h6.0M204.1 245.2v6.0M201.1 245.2l6.0 6.0M201.1 251.2l6.0 -6.0M201.3 248.2h6.0M204.3 245.2v6.0M201.3 245.2l6.0 6.0M201.3 251.2l6.0 -6.0M201.4 248.2h6.0M204.4 245.2v6.0M201.4 245.2l6.0 6.0M201.4 251.2l6.0 -6.0M201.5 248.2h6.0M204.5 245.2v6.0M201.5 245.2l6.0 6.0M201.5 251.2l6.0 -6.0M201.7 248.2h6.0M204.7 245.2v6.0M201.7 245.2l6.0 6.0M201.7 251.2l6.0 -6.0M201.8 248.2h6.0M204.8 245.2v6.0M201.8 245.2l6.0 6.0M201.8 251.2l6.0 -6.0M201.9 248.1h6.0M204.9 245.1v6.0M201.9 245.1l6.0 6.0M201.9 251.1l6.0 -6.0M202.0 248.1h6.0M205.0 245.1v6.0M202.0 245.1l6.0 6.0M202.0 251.1l6.0 -6.0M202.2 248.1h6.0M205.2 245.1v6.0M202.2 245.1l6.0 6.0M202.2 251.1l6.0 -6.0M202.3 248.1h6.0M205.3 245.1v6.0M202.3 245.1l6.0 6.0M202.3 251.1l6.0 -6.0M202.4 248.1h6.0M205.4 245.1v6.0M202.4 245.1l6.0 6.0M202.4 251.1l6.0 -6.0M202.6 248.1h6.0M205.6 245.1v6.0M202.6 245.1l6.0 6.0M202.6 251.1l6.0 -6.0M202.7 248.1h6.0M205.7 245.1v6.0M202.7 245.1l6.0 6.0M202.7 251.1l6.0 -6.0M202.8 248.1h6.0M205.8 245.1v6.0M202.8 245.1l6.0 6.0M202.8 251.1l6.0 -6.0M203.0 248.1h6.0M206.0 245.1v6.0M203.0 245.1l6.0 6.0M203.0 251.1l6.0 -6.0M203.1 248.1h6.0M206.1 245.1v6.0M203.1 245.1l6.0 6.0M203.1 251.1l6.0 -6.0M203.3 248.1h6.0M206.3 245.1v6.0M203.3 245.1l6.0 6.0M203.3 251.1l6.0 -6.0M203.4 248.1h6.0M206.4 245.1v6.0M203.4 245.1l6.0 6.0M203.4 251.1l6.0 -6.0M203.5 248.1h6.0M206.5 245.1v6.0M203.5 245.1l6.0 6.0M203.5 251.1l6.0 -6.0M203.7 248.1h6.0M206.7 245.1v6.0M203.7 245.1l6.0 6.0M203.7 251.1l6.0 -6.0M203.8 248.1h6.0M206.8 245.1v6.0M203.8 245.1l6.0 6.0M203.8 251.1l6.0 -6.0M204.0 248.1h6.0M207.0 245.1v6.0M204.0 245.1l6.0 6.0M204.0 251.1l6.0 -6.0M204.1 248.1h6.0M207.1 245.1v6.0M204.1 245.1l6.0 6.0M204.1 251.1l6.0 -6.0M204.2 248.1h6.0M207.2 245.1v6.0M204.2 245.1l6.0 6.0M204.2 251.1l6.0 -6.0M204.4 248.1h6.0M207.4 245.1v6.0M204.4 245.1l6.0 6.0M204.4 251.1l6.0 -6.0M204.5 248.1h6.0M207.5 245.1v6.0M204.5 245.1l6.0 6.0M204.5 251.1l6.0 -6.0M204.7 248.1h6.0M207.7 245.1v6.0M204.7 245.1l6.0 6.0M204.7 251.1l6.0 -6.0M204.8 248.1h6.0M207.8 245.1v6.0M204.8 245.1l6.0 6.0M204.8 251.1l6.0 -6.0M205.0 248.1h6.0M208.0 245.1v6.0M205.0 245.1l6.0 6.0M205.0 251.1l6.0 -6.0M205.1 248.1h6.0M208.1 245.1v6.0M205.1 245.1l6.0 6.0M205.1 251.1l6.0 -6.0M205.3 248.1h6.0M208.3 245.1v6.0M205.3 245.1l6.0 6.0M205.3 251.1l6.0 -6.0M205.4 248.1h6.0M208.4 245.1v6.0M205.4 245.1l6.0 6.0M205.4 251.1l6.0 -6.0M205.6 248.1h6.0M208.6 245.1v6.0M205.6 245.1l6.0 6.0M205.6 251.1l6.0 -6.0M205.7 248.1h6.0M208.7 245.1v6.0M205.7 245.1l6.0 6.0M205.7 251.1l6.0 -6.0M205.9 248.1h6.0M208.9 245.1v6.0M205.9 245.1l6.0 6.0M205.9 251.1l6.0 -6.0M206.0 248.1h6.0M209.0 245.1v6.0M206.0 245.1l6.0 6.0M206.0 251.1l6.0 -6.0M206.2 248.1h6.0M209.2 245.1v6.0M206.2 245.1l6.0 6.0M206.2 251.1l6.0 -6.0M206.3 248.0h6.0M209.3 245.0v6.0M206.3 245.0l6.0 6.0M206.3 251.0l6.0 -6.0M206.5 248.0h6.0M209.5 245.0v6.0M206.5 245.0l6.0 6.0M206.5 251.0l6.0 -6.0M206.7 248.0h6.0M209.7 245.0v6.0M206.7 245.0l6.0 6.0M206.7 251.0l6.0 -6.0M206.8 248.0h6.0M209.8 245.0v6.0M206.8 245.0l6.0 6.0M206.8 251.0l6.0 -6.0M207.0 248.0h6.0M210.0 245.0v6.0M207.0 245.0l6.0 6.0M207.0 251.0l6.0 -6.0M207.2 248.0h6.0M210.2 245.0v6.0M207.2 245.0l6.0 6.0M207.2 251.0l6.0 -6.0M207.3 248.0h6.0M210.3 245.0v6.0M207.3 245.0l6.0 6.0M207.3 251.0l6.0 -6.0M207.5 248.0h6.0M210.5 245.0v6.0M207.5 245.0l6.0 6.0M207.5 251.0l6.0 -6.0M207.6 248.0h6.0M210.6 245.0v6.0M207.6 245.0l6.0 6.0M207.6 251.0l6.0 -6.0M207.8 248.0h6.0M210.8 245.0v6.0M207.8 245.0l6.0 6.0M207.8 251.0l6.0 -6.0M208.0 248.0h6.0M211.0 245.0v6.0M208.0 245.0l6.0 6.0M208.0 251.0l6.0 -6.0M208.2 248.0h6.0M211.2 245.0v6.0M208.2 245.0l6.0 6.0M208.2 251.0l6.0 -6.0M208.3 248.0h6.0M211.3 245.0v6.0M208.3 245.0l6.0 6.0M208.3 251.0l6.0 -6.0M208.5 248.0h6.0M211.5 245.0v6.0M208.5 245.0l6.0 6.0M208.5 251.0l6.0 -6.0M208.7 248.0h6.0M211.7 245.0v6.0M208.7 245.0l6.0 6.0M208.7 251.0l6.0 -6.0M208.9 248.0h6.0M211.9 245.0v6.0M208.9 245.0l6.0 6.0M208.9 251.0l6.0 -6.0M209.0 248.0h6.0M212.0 245.0v6.0M209.0 245.0l6.0 6.0M209.0 251.0l6.0 -6.0M209.2 247.9h6.0M212.2 244.9v6.0M209.2 244.9l6.0 6.0M209.2 250.9l6.0 -6.0M209.4 247.9h6.0M212.4 244.9v6.0M209.4 244.9l6.0 6.0M209.4 250.9l6.0 -6.0M209.6 247.9h6.0M212.6 244.9v6.0M209.6 244.9l6.0 6.0M209.6 250.9l6.0 -6.0M209.7 247.9h6.0M212.7 244.9v6.0M209.7 244.9l6.0 6.0M209.7 250.9l6.0 -6.0M209.9 247.9h6.0M212.9 244.9v6.0M209.9 244.9l6.0 6.0M209.9 250.9l6.0 -6.0M210.1 247.9h6.0M213.1 244.9v6.0M210.1 244.9l6.0 6.0M210.1 250.9l6.0 -6.0M210.3 247.9h6.0M213.3 244.9v6.0M210.3 244.9l6.0 6.0M210.3 250.9l6.0 -6.0M210.5 247.9h6.0M213.5 244.9v6.0M210.5 244.9l6.0 6.0M210.5 250.9l6.0 -6.0M210.7 247.9h6.0M213.7 244.9v6.0M210.7 244.9l6.0 6.0M210.7 250.9l6.0 -6.0M210.9 247.9h6.0M213.9 244.9v6.0M210.9 244.9l6.0 6.0M210.9 250.9l6.0 -6.0M211.1 247.9h6.0M214.1 244.9v6.0M211.1 244.9l6.0 6.0M211.1 250.9l6.0 -6.0M211.3 247.9h6.0M214.3 244.9v6.0M211.3 244.9l6.0 6.0M211.3 250.9l6.0 -6.0M211.5 247.8h6.0M214.5 244.8v6.0M211.5 244.8l6.0 6.0M211.5 250.8l6.0 -6.0M211.7 247.8h6.0M214.7 244.8v6.0M211.7 244.8l6.0 6.0M211.7 250.8l6.0 -6.0M211.9 247.8h6.0M214.9 244.8v6.0M211.9 244.8l6.0 6.0M211.9 250.8l6.0 -6.0M212.1 247.8h6.0M215.1 244.8v6.0M212.1 244.8l6.0 6.0M212.1 250.8l6.0 -6.0M212.3 247.8h6.0M215.3 244.8v6.0M212.3 244.8l6.0 6.0M212.3 250.8l6.0 -6.0M212.5 247.8h6.0M215.5 244.8v6.0M212.5 244.8l6.0 6.0M212.5 250.8l6.0 -6.0M212.7 247.8h6.0M215.7 244.8v6.0M212.7 244.8l6.0 6.0M212.7 250.8l6.0 -6.0M212.9 247.8h6.0M215.9 244.8v6.0M212.9 244.8l6.0 6.0M212.9 250.8l6.0 -6.0M213.1 247.7h6.0M216.1 244.7v6.0M213.1 244.7l6.0 6.0M213.1 250.7l6.0 -6.0M213.3 247.7h6.0M216.3 244.7v6.0M213.3 244.7l6.0 6.0M213.3 250.7l6.0 -6.0M213.5 247.7h6.0M216.5 244.7v6.0M213.5 244.7l6.0 6.0M213.5 250.7l6.0 -6.0M213.8 247.7h6.0M216.8 244.7v6.0M213.8 244.7l6.0 6.0M213.8 250.7l6.0 -6.0M214.0 247.7h6.0M217.0 244.7v6.0M214.0 244.7l6.0 6.0M214.0 250.7l6.0 -6.0M214.2 247.7h6.0M217.2 244.7v6.0M214.2 244.7l6.0 6.0M214.2 250.7l6.0 -6.0M214.4 247.7h6.0M217.4 244.7v6.0M214.4 244.7l6.0 6.0M214.4 250.7l6.0 -6.0M214.6 247.6h6.0M217.6 244.6v6.0M214.6 244.6l6.0 6.0M214.6 250.6l6.0 -6.0M214.9 247.6h6.0M217.9 244.6v6.0M214.9 244.6l6.0 6.0M214.9 250.6l6.0 -6.0M215.1 247.6h6.0M218.1 244.6v6.0M215.1 244.6l6.0 6.0M215.1 250.6l6.0 -6.0M215.3 247.6h6.0M218.3 244.6v6.0M215.3 244.6l6.0 6.0M215.3 250.6l6.0 -6.0M215.6 247.6h6.0M218.6 244.6v6.0M215.6 244.6l6.0 6.0M215.6 250.6l6.0 -6.0M215.8 247.5h6.0M218.8 244.5v6.0M215.8 244.5l6.0 6.0M215.8 250.5l6.0 -6.0M216.1 247.5h6.0M219.1 244.5v6.0M216.1 244.5l6.0 6.0M216.1 250.5l6.0 -6.0M216.3 247.5h6.0M219.3 244.5v6.0M216.3 244.5l6.0 6.0M216.3 250.5l6.0 -6.0M216.5 247.5h6.0M219.5 244.5v6.0M216.5 244.5l6.0 6.0M216.5 250.5l6.0 -6.0M216.8 247.5h6.0M219.8 244.5v6.0M216.8 244.5l6.0 6.0M216.8 250.5l6.0 -6.0M217.0 247.4h6.0M220.0 244.4v6.0M217.0 244.4l6.0 6.0M217.0 250.4l6.0 -6.0M217.3 247.4h6.0M220.3 244.4v6.0M217.3 244.4l6.0 6.0M217.3 250.4l6.0 -6.0M217.6 247.4h6.0M220.6 244.4v6.0M217.6 244.4l6.0 6.0M217.6 250.4l6.0 -6.0M217.8 247.4h6.0M220.8 244.4v6.0M217.8 244.4l6.0 6.0M217.8 250.4l6.0 -6.0M218.1 247.3h6.0M221.1 244.3v6.0M218.1 244.3l6.0 6.0M218.1 250.3l6.0 -6.0M218.4 247.3h6.0M221.4 244.3v6.0M218.4 244.3l6.0 6.0M218.4 250.3l6.0 -6.0M218.6 247.3h6.0M221.6 244.3v6.0M218.6 244.3l6.0 6.0M218.6 250.3l6.0 -6.0M218.9 247.3h6.0M221.9 244.3v6.0M218.9 244.3l6.0 6.0M218.9 250.3l6.0 -6.0M219.2 247.2h6.0M222.2 244.2v6.0M219.2 244.2l6.0 6.0M219.2 250.2l6.0 -6.0M219.5 247.2h6.0M222.5 244.2v6.0M219.5 244.2l6.0 6.0M219.5 250.2l6.0 -6.0M219.7 247.2h6.0M222.7 244.2v6.0M219.7 244.2l6.0 6.0M219.7 250.2l6.0 -6.0M220.0 247.1h6.0M223.0 244.1v6.0M220.0 244.1l6.0 6.0M220.0 250.1l6.0 -6.0M220.3 247.1h6.0M223.3 244.1v6.0M220.3 244.1l6.0 6.0M220.3 250.1l6.0 -6.0M220.6 247.1h6.0M223.6 244.1v6.0M220.6 244.1l6.0 6.0M220.6 250.1l6.0 -6.0M220.9 247.0h6.0M223.9 244.0v6.0M220.9 244.0l6.0 6.0M220.9 250.0l6.0 -6.0M221.2 247.0h6.0M224.2 244.0v6.0M221.2 244.0l6.0 6.0M221.2 250.0l6.0 -6.0M221.5 246.9h6.0M224.5 243.9v6.0M221.5 243.9l6.0 6.0M221.5 249.9l6.0 -6.0M221.8 246.9h6.0M224.8 243.9v6.0M221.8 243.9l6.0 6.0M221.8 249.9l6.0 -6.0M222.1 246.9h6.0M225.1 243.9v6.0M222.1 243.9l6.0 6.0M222.1 249.9l6.0 -6.0M222.5 246.8h6.0M225.5 243.8v6.0M222.5 243.8l6.0 6.0M222.5 249.8l6.0 -6.0M222.8 246.8h6.0M225.8 243.8v6.0M222.8 243.8l6.0 6.0M222.8 249.8l6.0 -6.0M223.1 246.7h6.0M226.1 243.7v6.0M223.1 243.7l6.0 6.0M223.1 249.7l6.0 -6.0M223.4 246.7h6.0M226.4 243.7v6.0M223.4 243.7l6.0 6.0M223.4 249.7l6.0 -6.0M223.8 246.6h6.0M226.8 243.6v6.0M223.8 243.6l6.0 6.0M223.8 249.6l6.0 -6.0M224.1 246.6h6.0M227.1 243.6v6.0M224.1 243.6l6.0 6.0M224.1 249.6l6.0 -6.0M224.5 246.5h6.0M227.5 243.5v6.0M224.5 243.5l6.0 6.0M224.5 249.5l6.0 -6.0M224.8 246.4h6.0M227.8 243.4v6.0M224.8 243.4l6.0 6.0M224.8 249.4l6.0 -6.0M225.2 246.4h6.0M228.2 243.4v6.0M225.2 243.4l6.0 6.0M225.2 249.4l6.0 -6.0M225.6 246.3h6.0M228.6 243.3v6.0M225.6 243.3l6.0 6.0M225.6 249.3l6.0 -6.0M225.9 246.2h6.0M228.9 243.2v6.0M225.9 243.2l6.0 6.0M225.9 249.2l6.0 -6.0M226.3 246.2h6.0M229.3 243.2v6.0M226.3 243.2l6.0 6.0M226.3 249.2l6.0 -6.0M226.7 246.1h6.0M229.7 243.1v6.0M226.7 243.1l6.0 6.0M226.7 249.1l6.0 -6.0M227.1 246.0h6.0M230.1 243.0v6.0M227.1 243.0l6.0 6.0M227.1 249.0l6.0 -6.0M227.5 245.9h6.0M230.5 242.9v6.0M227.5 242.9l6.0 6.0M227.5 248.9l6.0 -6.0M227.9 245.9h6.0M230.9 242.9v6.0M227.9 242.9l6.0 6.0M227.9 248.9l6.0 -6.0M228.3 245.8h6.0M231.3 242.8v6.0M228.3 242.8l6.0 6.0M228.3 248.8l6.0 -6.0M228.7 245.7h6.0M231.7 242.7v6.0M228.7 242.7l6.0 6.0M228.7 248.7l6.0 -6.0M229.1 245.6h6.0M232.1 242.6v6.0M229.1 242.6l6.0 6.0M229.1 248.6l6.0 -6.0M229.6 245.5h6.0M232.6 242.5v6.0M229.6 242.5l6.0 6.0M229.6 248.5l6.0 -6.0M230.0 245.4h6.0M233.0 242.4v6.0M230.0 242.4l6.0 6.0M230.0 248.4l6.0 -6.0M230.5 245.3h6.0M233.5 242.3v6.0M230.5 242.3l6.0 6.0M230.5 248.3l6.0 -6.0M230.9 245.2h6.0M233.9 242.2v6.0M230.9 242.2l6.0 6.0M230.9 248.2l6.0 -6.0M231.4 245.0h6.0M234.4 242.0v6.0M231.4 242.0l6.0 6.0M231.4 248.0l6.0 -6.0M231.9 244.9h6.0M234.9 241.9v6.0M231.9 241.9l6.0 6.0M231.9 247.9l6.0 -6.0M232.4 244.8h6.0M235.4 241.8v6.0M232.4 241.8l6.0 6.0M232.4 247.8l6.0 -6.0M232.9 244.7h6.0M235.9 241.7v6.0M232.9 241.7l6.0 6.0M232.9 247.7l6.0 -6.0M233.4 244.5h6.0M236.4 241.5v6.0M233.4 241.5l6.0 6.0M233.4 247.5l6.0 -6.0M233.9 244.4h6.0M236.9 241.4v6.0M233.9 241.4l6.0 6.0M233.9 247.4l6.0 -6.0M234.5 244.2h6.0M237.5 241.2v6.0M234.5 241.2l6.0 6.0M234.5 247.2l6.0 -6.0M235.0 244.0h6.0M238.0 241.0v6.0M235.0 241.0l6.0 6.0M235.0 247.0l6.0 -6.0M235.6 243.8h6.0M238.6 240.8v6.0M235.6 240.8l6.0 6.0M235.6 246.8l6.0 -6.0M236.2 243.7h6.0M239.2 240.7v6.0M236.2 240.7l6.0 6.0M236.2 246.7l6.0 -6.0M236.8 243.5h6.0M239.8 240.5v6.0M236.8 240.5l6.0 6.0M236.8 246.5l6.0 -6.0M237.4 243.2h6.0M240.4 240.2v6.0M237.4 240.2l6.0 6.0M237.4 246.2l6.0 -6.0M238.0 243.0h6.0M241.0 240.0v6.0M238.0 240.0l6.0 6.0M238.0 246.0l6.0 -6.0M238.7 242.8h6.0M241.7 239.8v6.0M238.7 239.8l6.0 6.0M238.7 245.8l6.0 -6.0M239.3 242.5h6.0M242.3 239.5v6.0M239.3 239.5l6.0 6.0M239.3 245.5l6.0 -6.0M240.0 242.3h6.0M243.0 239.3v6.0M240.0 239.3l6.0 6.0M240.0 245.3l6.0 -6.0M240.7 242.0h6.0M243.7 239.0v6.0M240.7 239.0l6.0 6.0M240.7 245.0l6.0 -6.0M241.5 241.7h6.0M244.5 238.7v6.0M241.5 238.7l6.0 6.0M241.5 244.7l6.0 -6.0M242.2 241.4h6.0M245.2 238.4v6.0M242.2 238.4l6.0 6.0M242.2 244.4l6.0 -6.0M243.0 241.0h6.0M246.0 238.0v6.0M243.0 238.0l6.0 6.0M243.0 244.0l6.0 -6.0M243.8 240.6h6.0M246.8 237.6v6.0M243.8 237.6l6.0 6.0M243.8 243.6l6.0 -6.0M244.7 240.2h6.0M247.7 237.2v6.0M244.7 237.2l6.0 6.0M244.7 243.2l6.0 -6.0M245.5 239.8h6.0M248.5 236.8v6.0M245.5 236.8l6.0 6.0M245.5 242.8l6.0 -6.0M246.4 239.3h6.0M249.4 236.3v6.0M246.4 236.3l6.0 6.0M246.4 242.3l6.0 -6.0M247.4 238.8h6.0M250.4 235.8v6.0M247.4 235.8l6.0 6.0M247.4 241.8l6.0 -6.0M248.4 238.3h6.0M251.4 235.3v6.0M248.4 235.3l6.0 6.0M248.4 241.3l6.0 -6.0M249.4 237.7h6.0M252.4 234.7v6.0M249.4 234.7l6.0 6.0M249.4 240.7l6.0 -6.0M250.5 237.0h6.0M253.5 234.0v6.0M250.5 234.0l6.0 6.0M250.5 240.0l6.0 -6.0M251.6 236.3h6.0M254.6 233.3v6.0M251.6 233.3l6.0 6.0M251.6 239.3l6.0 -6.0M252.8 235.6h6.0M255.8 232.6v6.0M252.8 232.6l6.0 6.0M252.8 238.6l6.0 -6.0M254.1 234.7h6.0M257.1 231.7v6.0M254.1 231.7l6.0 6.0M254.1 237.7l6.0 -6.0M255.4 233.8h6.0M258.4 230.8v6.0M255.4 230.8l6.0 6.0M255.4 236.8l6.0 -6.0M256.9 232.7h6.0M259.9 229.7v6.0M256.9 229.7l6.0 6.0M256.9 235.7l6.0 -6.0M258.4 231.5h6.0M261.4 228.5v6.0M258.4 228.5l6.0 6.0M258.4 234.5l6.0 -6.0M260.0 230.2h6.0M263.0 227.2v6.0M260.0 227.2l6.0 6.0M260.0 233.2l6.0 -6.0M261.8 228.6h6.0M264.8 225.6v6.0M261.8 225.6l6.0 6.0M261.8 231.6l6.0 -6.0M263.7 226.9h6.0M266.7 223.9v6.0M263.7 223.9l6.0 6.0M263.7 229.9l6.0 -6.0M265.7 224.9h6.0M268.7 221.9v6.0M265.7 221.9l6.0 6.0M265.7 227.9l6.0 -6.0M268.0 222.6h6.0M271.0 219.6v6.0M268.0 219.6l6.0 6.0M268.0 225.6l6.0 -6.0M270.5 219.9h6.0M273.5 216.9v6.0M270.5 216.9l6.0 6.0M270.5 222.9l6.0 -6.0M273.4 216.7h6.0M276.4 213.7v6.0M273.4 213.7l6.0 6.0M273.4 219.7l6.0 -6.0M276.7 212.9h6.0M279.7 209.9v6.0M276.7 209.9l6.0 6.0M276.7 215.9l6.0 -6.0M280.5 208.4h6.0M283.5 205.4v6.0M280.5 205.4l6.0 6.0M280.5 211.4l6.0 -6.0M285.1 203.6h6.0M288.1 200.6v6.0M285.1 200.6l6.0 6.0M285.1 206.6l6.0 -6.0" fill="none" stroke="#0000ff" stroke-width="0.8"/>
<path d="M210.6 245.4h5.6v5.6h-5.6zM213.24 248.2h0.3M210.7 245.4h5.6v5.6h-5.6zM213.36 248.2h0.3M210.8 245.4h5.6v5.6h-5.6zM213.49 248.2h0.3M211.0 245.4h5.6v5.6h-5.6zM213.61 248.2h0.3M211.1 245.4h5.6v5.6h-5.6zM213.73 248.2h0.3M211.2 245.4h5.6v5.6h-5.6zM213.86 248.2h0.3M211.3 245.4h5.6v5.6h-5.6zM213.98 248.2h0.3M211.5 245.3h5.6v5.6h-5.6zM214.11 248.1h0.3M211.6 245.3h5.6v5.6h-5.6zM214.24 248.1h0.3M211.7 245.3h5.6v5.6h-5.6zM214.36 248.1h0.3M211.8 245.3h5.6v5.6h-5.6zM214.49 248.1h0.3M212.0 245.3h5.6v5.6h-5.6zM214.62 248.1h0.3M212.1 245.3h5.6v5.6h-5.6zM214.75 248.1h0.3M212.2 245.2h5.6v5.6h-5.6zM214.88 248.0h0.3M212.4 245.2h5.6v5.6h-5.6zM215.01 248.0h0.3M212.5 245.2h5.6v5.6h-5.6zM215.14 248.0h0.3M212.6 245.2h5.6v5.6h-5.6zM215.28 248.0h0.3M212.8 245.2h5.6v5.6h-5.6zM215.41 248.0h0.3M212.9 245.2h5.6v5.6h-5.6zM215.54 248.0h0.3M213.0 245.1h5.6v5.6h-5.6zM215.68 247.9h0.3M213.2 245.1h5.6v5.6h-5.6zM215.81 247.9h0.3M213.3 245.1h5.6v5.6h-5.6zM215.95 247.9h0.3M213.4 245.1h5.6v5.6h-5.6zM216.09 247.9h0.3M213.6 245.1h5.6v5.6h-5.6zM216.23 247.9h0.3M213.7 245.1h5.6v5.6h-5.6zM216.37 247.9h0.3M213.9 245.0h5.6v5.6h-5.6zM216.51 247.8h0.3M214.0 245.0h5.6v5.6h-5.6zM216.65 247.8h0.3M214.1 245.0h5.6v5.6h-5.6zM216.79 247.8h0.3M214.3 245.0h5.6v5.6h-5.6zM216.93 247.8h0.3M214.4 244.9h5.6v5.6h-5.6zM217.08 247.7h0.3M214.6 244.9h5.6v5.6h-5.6zM217.22 247.7h0.3M214.7 244.9h5.6v5.6h-5.6zM217.37 247.7h0.3M214.9 244.9h5.6v5.6h-5.6zM217.51 247.7h0.3M215.0 244.9h5.6v5.6h-5.6zM217.66 247.7h0.3M215.2 244.8h5.6v5.6h-5.6zM217.81 247.6h0.3M215.3 244.8h5.6v5.6h-5.6zM217.96 247.6h0.3M215.5 244.8h5.6v5.6h-5.6zM218.11 247.6h0.3M215.6 244.8h5.6v5.6h-5.6zM218.26 247.6h0.3M215.8 244.7h5.6v5.6h-5.6zM218.41 247.5h0.3M215.9 244.7h5.6v5.6h-5.6zM218.57 247.5h0.3M216.1 244.7h5.6v5.6h-5.6zM218.72 247.5h0.3M216.2 244.7h5.6v5.6h-5.6zM218.88 247.5h0.3M216.4 244.6h5.6v5.6h-5.6zM219.03 247.4h0.3M216.5 244.6h5.6v5.6h-5.6zM219.19 247.4h0.3M216.7 244.6h5.6v5.6h-5.6zM219.35 247.4h0.3M216.9 244.6h5.6v5.6h-5.6zM219.51 247.4h0.3M217.0 244.5h5.6v5.6h-5.6zM219.67 247.3h0.3M217.2 244.5h5.6v5.6h-5.6zM219.83 247.3h0.3M217.3 244.5h5.6v5.6h-5.6zM219.99 247.3h0.3M217.5 244.4h5.6v5.6h-5.6zM220.16 247.2h0.3M217.7 244.4h5.6v5.6h-5.6zM220.32 247.2h0.3M217.8 244.4h5.6v5.6h-5.6zM220.49 247.2h0.3M218.0 244.3h5.6v5.6h-5.6zM220.66 247.1h0.3M218.2 244.3h5.6v5.6h-5.6zM220.83 247.1h0.3M218.4 244.3h5.6v5.6h-5.6zM221.00 247.1h0.3M218.5 244.2h5.6v5.6h-5.6zM221.17 247.0h0.3M218.7 244.2h5.6v5.6h-5.6zM221.35 247.0h0.3M218.9 244.2h5.6v5.6h-5.6zM221.52 247.0h0.3M219.0 244.1h5.6v5.6h-5.6zM221.70 246.9h0.3M219.2 244.1h5.6v5.6h-5.6zM221.87 246.9h0.3M219.4 244.1h5.6v5.6h-5.6zM222.05 246.9h0.3M219.6 244.0h5.6v5.6h-5.6zM222.23 246.8h0.3M219.8 244.0h5.6v5.6h-5.6zM222.41 246.8h0.3M219.9 244.0h5.6v5.6h-5.6zM222.60 246.8h0.3M220.1 243.9h5.6v5.6h-5.6zM222.78 246.7h0.3M220.3 243.9h5.6v5.6h-5.6zM222.97 246.7h0.3M220.5 243.8h5.6v5.6h-5.6zM223.16 246.6h0.3M220.7 243.8h5.6v5.6h-5.6zM223.35 246.6h0.3M220.9 243.8h5.6v5.6h-5.6zM223.54 246.6h0.3M221.1 243.7h5.6v5.6h-5.6zM223.73 246.5h0.3M221.3 243.7h5.6v5.6h-5.6zM223.92 246.5h0.3M221.5 243.6h5.6v5.6h-5.6zM224.12 246.4h0.3M221.7 243.6h5.6v5.6h-5.6zM224.32 246.4h0.3M221.9 243.5h5.6v5.6h-5.6zM224.52 246.3h0.3M222.1 243.5h5.6v5.6h-5.6zM224.72 246.3h0.3M222.3 243.5h5.6v5.6h-5.6zM224.92 246.3h0.3M222.5 243.4h5.6v5.6h-5.6zM225.12 246.2h0.3M222.7 243.4h5.6v5.6h-5.6zM225.33 246.2h0.3M222.9 243.3h5.6v5.6h-5.6zM225.54 246.1h0.3M223.1 243.3h5.6v5.6h-5.6zM225.75 246.1h0.3M223.3 243.2h5.6v5.6h-5.6zM225.96 246.0h0.3M223.5 243.2h5.6v5.6h-5.6zM226.18 246.0h0.3M223.7 243.1h5.6v5.6h-5.6zM226.39 245.9h0.3M224.0 243.0h5.6v5.6h-5.6zM226.61 245.8h0.3M224.2 243.0h5.6v5.6h-5.6zM226.83 245.8h0.3M224.4 242.9h5.6v5.6h-5.6zM227.05 245.7h0.3M224.6 242.9h5.6v5.6h-5.6zM227.28 245.7h0.3M224.9 242.8h5.6v5.6h-5.6zM227.51 245.6h0.3M225.1 242.8h5.6v5.6h-5.6zM227.74 245.6h0.3M225.3 242.7h5.6v5.6h-5.6zM227.97 245.5h0.3M225.6 242.6h5.6v5.6h-5.6zM228.20 245.4h0.3M225.8 242.6h5.6v5.6h-5.6zM228.44 245.4h0.3M226.0 242.5h5.6v5.6h-5.6zM228.68 245.3h0.3M226.3 242.4h5.6v5.6h-5.6zM228.92 245.2h0.3M226.5 242.4h5.6v5.6h-5.6zM229.16 245.2h0.3M226.8 242.3h5.6v5.6h-5.6zM229.41 245.1h0.3M227.0 242.2h5.6v5.6h-5.6zM229.66 245.0h0.3M227.3 242.2h5.6v5.6h-5.6zM229.91 245.0h0.3M227.5 242.1h5.6v5.6h-5.6zM230.17 244.9h0.3M227.8 242.0h5.6v5.6h-5.6zM230.43 244.8h0.3M228.0 241.9h5.6v5.6h-5.6zM230.69 244.7h0.3M228.3 241.9h5.6v5.6h-5.6zM230.95 244.7h0.3M228.6 241.8h5.6v5.6h-5.6zM231.22 244.6h0.3M228.8 241.7h5.6v5.6h-5.6zM231.49 244.5h0.3M229.1 241.6h5.6v5.6h-5.6zM231.77 244.4h0.3M229.4 241.5h5.6v5.6h-5.6zM232.04 244.3h0.3M229.7 241.5h5.6v5.6h-5.6zM232.32 244.3h0.3M230.0 241.4h5.6v5.6h-5.6zM232.61 244.2h0.3M230.2 241.3h5.6v5.6h-5.6zM232.90 244.1h0.3M230.5 241.2h5.6v5.6h-5.6zM233.19 244.0h0.3M230.8 241.1h5.6v5.6h-5.6zM233.48 243.9h0.3M231.1 241.0h5.6v5.6h-5.6zM233.78 243.8h0.3M231.4 240.9h5.6v5.6h-5.6zM234.09 243.7h0.3M231.7 240.8h5.6v5.6h-5.6zM234.39 243.6h0.3M232.1 240.7h5.6v5.6h-5.6zM234.70 243.5h0.3M232.4 240.6h5.6v5.6h-5.6zM235.02 243.4h0.3M232.7 240.5h5.6v5.6h-5.6zM235.34 243.3h0.3M233.0 240.4h5.6v5.6h-5.6zM235.67 243.2h0.3M233.3 240.3h5.6v5.6h-5.6zM236.00 243.1h0.3M233.7 240.1h5.6v5.6h-5.6zM236.33 242.9h0.3M234.0 240.0h5.6v5.6h-5.6zM236.67 242.8h0.3M234.4 239.9h5.6v5.6h-5.6zM237.01 242.7h0.3M234.7 239.8h5.6v5.6h-5.6zM237.37 242.6h0.3M235.1 239.7h5.6v5.6h-5.6zM237.72 242.5h0.3M235.4 239.5h5.6v5.6h-5.6zM238.08 242.3h0.3M235.8 239.4h5.6v5.6h-5.6zM238.45 242.2h0.3M236.2 239.2h5.6v5.6h-5.6zM238.82 242.0h0.3M236.6 239.1h5.6v5.6h-5.6zM239.20 241.9h0.3M236.9 239.0h5.6v5.6h-5.6zM239.59 241.8h0.3M237.3 238.8h5.6v5.6h-5.6zM239.98 241.6h0.3M237.7 238.7h5.6v5.6h-5.6zM240.38 241.5h0.3M238.1 238.5h5.6v5.6h-5.6zM240.79 241.3h0.3M238.6 238.3h5.6v5.6h-5.6zM241.20 241.1h0.3M239.0 238.2h5.6v5.6h-5.6zM241.62 241.0h0.3M239.4 238.0h5.6v5.6h-5.6zM242.05 240.8h0.3M239.8 237.8h5.6v5.6h-5.6zM242.49 240.6h0.3M240.3 237.6h5.6v5.6h-5.6zM242.94 240.4h0.3M240.7 237.5h5.6v5.6h-5.6zM243.40 240.3h0.3M241.2 237.3h5.6v5.6h-5.6zM243.86 240.1h0.3M241.7 237.1h5.6v5.6h-5.6zM244.34 239.9h0.3M242.2 236.8h5.6v5.6h-5.6zM244.82 239.6h0.3M242.7 236.6h5.6v5.6h-5.6zM245.32 239.4h0.3M243.2 236.4h5.6v5.6h-5.6zM245.82 239.2h0.3M243.7 236.2h5.6v5.6h-5.6zM246.34 239.0h0.3M244.2 236.0h5.6v5.6h-5.6zM246.87 238.8h0.3M244.8 235.7h5.6v5.6h-5.6zM247.42 238.5h0.3M245.3 235.5h5.6v5.6h-5.6zM247.97 238.3h0.3M245.9 235.2h5.6v5.6h-5.6zM248.54 238.0h0.3M246.5 234.9h5.6v5.6h-5.6zM249.13 237.7h0.3M247.1 234.6h5.6v5.6h-5.6zM249.73 237.4h0.3M247.7 234.3h5.6v5.6h-5.6zM250.35 237.1h0.3M248.3 234.0h5.6v5.6h-5.6zM250.98 236.8h0.3M249.0 233.7h5.6v5.6h-5.6zM251.64 236.5h0.3M249.7 233.3h5.6v5.6h-5.6zM252.31 236.1h0.3M250.4 233.0h5.6v5.6h-5.6zM253.00 235.8h0.3M251.1 232.6h5.6v5.6h-5.6zM253.72 235.4h0.3M251.8 232.2h5.6v5.6h-5.6zM254.46 235.0h0.3M252.6 231.7h5.6v5.6h-5.6zM255.22 234.5h0.3M253.4 231.2h5.6v5.6h-5.6zM256.01 234.0h0.3M254.2 230.7h5.6v5.6h-5.6zM256.83 233.5h0.3M255.0 230.2h5.6v5.6h-5.6zM257.68 233.0h0.3M255.9 229.6h5.6v5.6h-5.6zM258.56 232.4h0.3M256.8 229.0h5.6v5.6h-5.6zM259.48 231.8h0.3M257.8 228.3h5.6v5.6h-5.6zM260.43 231.1h0.3M258.8 227.6h5.6v5.6h-5.6zM261.43 230.4h0.3M259.8 226.7h5.6v5.6h-5.6zM262.48 229.5h0.3M260.9 225.8h5.6v5.6h-5.6zM263.57 228.6h0.3M262.1 224.7h5.6v5.6h-5.6zM264.72 227.5h0.3M263.3 223.5h5.6v5.6h-5.6zM265.94 226.3h0.3M264.6 222.0h5.6v5.6h-5.6zM267.22 224.8h0.3M265.9 220.3h5.6v5.6h-5.6zM268.58 223.1h0.3M267.4 218.4h5.6v5.6h-5.6zM270.02 221.2h0.3M268.9 216.1h5.6v5.6h-5.6zM271.56 218.9h0.3M270.6 213.6h5.6v5.6h-5.6zM273.22 216.4h0.3M272.4 210.7h5.6v5.6h-5.6zM275.01 213.5h0.3M274.3 207.4h5.6v5.6h-5.6zM276.95 210.2h0.3M276.4 203.9h5.6v5.6h-5.6zM279.07 206.7h0.3M278.8 200.2h5.6v5.6h-5.6zM281.41 203.0h0.3M281.4 196.5h5.6v5.6h-5.6zM284.02 199.3h0.3M284.3 193.2h5.6v5.6h-5.6zM286.98 196.0h0.3M287.7 191.0h5.6v5.6h-5.6zM290.37 193.8h0.3M291.7 191.2h5.6v5.6h-5.6zM294.37 194.0h0.3" fill="none" stroke="#ff00ff" stroke-width="0.85"/>
<path d="M221.8 243.5h6.0v6.0h-6.0zM222.0 243.5h6.0v6.0h-6.0zM222.1 243.5h6.0v6.0h-6.0zM222.3 243.4h6.0v6.0h-6.0zM222.4 243.4h6.0v6.0h-6.0zM222.5 243.4h6.0v6.0h-6.0zM222.7 243.3h6.0v6.0h-6.0zM222.8 243.3h6.0v6.0h-6.0zM223.0 243.2h6.0v6.0h-6.0zM223.1 243.2h6.0v6.0h-6.0zM223.3 243.2h6.0v6.0h-6.0zM223.4 243.1h6.0v6.0h-6.0zM223.6 243.1h6.0v6.0h-6.0zM223.7 243.0h6.0v6.0h-6.0zM223.9 243.0h6.0v6.0h-6.0zM224.0 243.0h6.0v6.0h-6.0zM224.2 242.9h6.0v6.0h-6.0zM224.3 242.9h6.0v6.0h-6.0zM224.5 242.8h6.0v6.0h-6.0zM224.6 242.8h6.0v6.0h-6.0zM224.8 242.7h6.0v6.0h-6.0zM225.0 242.7h6.0v6.0h-6.0zM225.1 242.6h6.0v6.0h-6.0zM225.3 242.6h6.0v6.0h-6.0zM225.4 242.6h6.0v6.0h-6.0zM225.6 242.5h6.0v6.0h-6.0zM225.8 242.5h6.0v6.0h-6.0zM225.9 242.4h6.0v6.0h-6.0zM226.1 242.3h6.0v6.0h-6.0zM226.3 242.3h6.0v6.0h-6.0zM226.4 242.2h6.0v6.0h-6.0zM226.6 242.2h6.0v6.0h-6.0zM226.8 242.1h6.0v6.0h-6.0zM227.0 242.1h6.0v6.0h-6.0zM227.1 242.0h6.0v6.0h-6.0zM227.3 242.0h6.0v6.0h-6.0zM227.5 241.9h6.0v6.0h-6.0zM227.7 241.8h6.0v6.0h-6.0zM227.9 241.8h6.0v6.0h-6.0zM228.0 241.7h6.0v6.0h-6.0zM228.2 241.7h6.0v6.0h-6.0zM228.4 241.6h6.0v6.0h-6.0zM228.6 241.5h6.0v6.0h-6.0zM228.8 241.5h6.0v6.0h-6.0zM229.0 241.4h6.0v6.0h-6.0zM229.2 241.3h6.0v6.0h-6.0zM229.4 241.3h6.0v6.0h-6.0zM229.6 241.2h6.0v6.0h-6.0zM229.7 241.1h6.0v6.0h-6.0zM229.9 241.1h6.0v6.0h-6.0zM230.1 241.0h6.0v6.0h-6.0zM230.3 240.9h6.0v6.0h-6.0zM230.5 240.8h6.0v6.0h-6.0zM230.8 240.8h6.0v6.0h-6.0zM231.0 240.7h6.0v6.0h-6.0zM231.2 240.6h6.0v6.0h-6.0zM231.4 240.5h6.0v6.0h-6.0zM231.6 240.5h6.0v6.0h-6.0zM231.8 240.4h6.0v6.0h-6.0zM232.0 240.3h6.0v6.0h-6.0zM232.2 240.2h6.0v6.0h-6.0zM232.5 240.1h6.0v6.0h-6.0zM232.7 240.0h6.0v6.0h-6.0zM232.9 239.9h6.0v6.0h-6.0zM233.1 239.9h6.0v6.0h-6.0zM233.4 239.8h6.0v6.0h-6.0zM233.6 239.7h6.0v6.0h-6.0zM233.8 239.6h6.0v6.0h-6.0zM234.1 239.5h6.0v6.0h-6.0zM234.3 239.4h6.0v6.0h-6.0zM234.6 239.3h6.0v6.0h-6.0zM234.8 239.2h6.0v6.0h-6.0zM235.1 239.1h6.0v6.0h-6.0zM235.3 239.0h6.0v6.0h-6.0zM235.6 238.9h6.0v6.0h-6.0zM235.8 238.8h6.0v6.0h-6.0zM236.1 238.7h6.0v6.0h-6.0zM236.3 238.6h6.0v6.0h-6.0zM236.6 238.4h6.0v6.0h-6.0zM236.9 238.3h6.0v6.0h-6.0zM237.1 238.2h6.0v6.0h-6.0zM237.4 238.1h6.0v6.0h-6.0zM237.7 238.0h6.0v6.0h-6.0zM238.0 237.8h6.0v6.0h-6.0zM238.3 237.7h6.0v6.0h-6.0zM238.6 237.6h6.0v6.0h-6.0zM238.8 237.5h6.0v6.0h-6.0zM239.1 237.3h6.0v6.0h-6.0zM239.4 237.2h6.0v6.0h-6.0zM239.7 237.1h6.0v6.0h-6.0zM240.1 236.9h6.0v6.0h-6.0zM240.4 236.8h6.0v6.0h-6.0zM240.7 236.6h6.0v6.0h-6.0zM241.0 236.5h6.0v6.0h-6.0zM241.3 236.3h6.0v6.0h-6.0zM241.7 236.2h6.0v6.0h-6.0zM242.0 236.0h6.0v6.0h-6.0zM242.3 235.9h6.0v6.0h-6.0zM242.7 235.7h6.0v6.0h-6.0zM243.0 235.6h6.0v6.0h-6.0zM243.4 235.4h6.0v6.0h-6.0zM243.8 235.2h6.0v6.0h-6.0zM244.1 235.0h6.0v6.0h-6.0zM244.5 234.9h6.0v6.0h-6.0zM244.9 234.7h6.0v6.0h-6.0zM245.3 234.5h6.0v6.0h-6.0zM245.7 234.3h6.0v6.0h-6.0zM246.1 234.1h6.0v6.0h-6.0zM246.5 233.9h6.0v6.0h-6.0zM246.9 233.7h6.0v6.0h-6.0zM247.3 233.5h6.0v6.0h-6.0zM247.8 233.3h6.0v6.0h-6.0zM248.2 233.0h6.0v6.0h-6.0zM248.6 232.8h6.0v6.0h-6.0zM249.1 232.6h6.0v6.0h-6.0zM249.6 232.3h6.0v6.0h-6.0zM250.1 232.0h6.0v6.0h-6.0zM250.5 231.8h6.0v6.0h-6.0zM251.0 231.5h6.0v6.0h-6.0zM251.6 231.2h6.0v6.0h-6.0zM252.1 230.8h6.0v6.0h-6.0zM252.6 230.5h6.0v6.0h-6.0zM253.2 230.1h6.0v6.0h-6.0zM253.7 229.8h6.0v6.0h-6.0zM254.3 229.4h6.0v6.0h-6.0zM254.9 228.9h6.0v6.0h-6.0zM255.5 228.5h6.0v6.0h-6.0zM256.1 228.0h6.0v6.0h-6.0zM256.8 227.5h6.0v6.0h-6.0zM257.4 227.0h6.0v6.0h-6.0zM258.1 226.4h6.0v6.0h-6.0zM258.8 225.8h6.0v6.0h-6.0zM259.5 225.1h6.0v6.0h-6.0zM260.3 224.3h6.0v6.0h-6.0zM261.0 223.5h6.0v6.0h-6.0zM261.8 222.7h6.0v6.0h-6.0zM262.7 221.7h6.0v6.0h-6.0zM263.5 220.7h6.0v6.0h-6.0zM264.4 219.5h6.0v6.0h-6.0zM265.3 218.2h6.0v6.0h-6.0zM266.3 216.8h6.0v6.0h-6.0zM267.3 215.2h6.0v6.0h-6.0zM268.4 213.4h6.0v6.0h-6.0zM269.5 211.5h6.0v6.0h-6.0zM270.7 209.3h6.0v6.0h-6.0zM271.9 206.9h6.0v6.0h-6.0zM273.2 204.4h6.0v6.0h-6.0zM274.6 201.7h6.0v6.0h-6.0zM276.1 198.8h6.0v6.0h-6.0zM277.6 195.8h6.0v6.0h-6.0zM279.3 192.8h6.0v6.0h-6.0zM281.2 189.8h6.0v6.0h-6.0zM283.2 187.0h6.0v6.0h-6.0zM285.3 184.6h6.0v6.0h-6.0zM287.8 182.9h6.0v6.0h-6.0zM290.5 182.6h6.0v6.0h-6.0zM293.6 184.5h6.0v6.0h-6.0zM297.1 189.5h6.0v6.0h-6.0z" fill="#00ffff" stroke="none"/>
<path d="M232.1 243.4a2.8 2.8 0 1 0 5.6 0a2.8 2.8 0 1 0 -5.6 0M234.73 243.4h0.3M232.2 243.4a2.8 2.8 0 1 0 5.6 0a2.8 2.8 0 1 0 -5.6 0M234.89 243.4h0.3M232.4 243.3a2.8 2.8 0 1 0 5.6 0a2.8 2.8 0 1 0 -5.6 0M235.05 243.3h0.3M232.6 243.2a2.8 2.8 0 1 0 5.6 0a2.8 2.8 0 1 0 -5.6 0M235.21 243.2h0.3M232.7 243.2a2.8 2.8 0 1 0 5.6 0a2.8 2.8 0 1 0 -5.6 0M235.38 243.2h0.3M232.9 243.1a2.8 2.8 0 1 0 5.6 0a2.8 2.8 0 1 0 -5.6 0M235.54 243.1h0.3M233.1 243.1a2.8 2.8 0 1 0 5.6 0a2.8 2.8 0 1 0 -5.6 0M235.70 243.1h0.3M233.2 243.0a2.8 2.8 0 1 0 5.6 0a2.8 2.8 0 1 0 -5.6 0M235.87 243.0h0.3M233.4 242.9a2.8 2.8 0 1 0 5.6 0a2.8 2.8 0 1 0 -5.6 0M236.04 242.9h0.3M233.6 242.9a2.8 2.8 0 1 0 5.6 0a2.8 2.8 0 1 0 -5.6 0M236.21 242.9h0.3M233.7 242.8a2.8 2.8 0 1 0 5.6 0a2.8 2.8 0 1 0 -5.6 0M236.38 242.8h0.3M233.9 242.7a2.8 2.8 0 1 0 5.6 0a2.8 2.8 0 1 0 -5.6 0M236.55 242.7h0.3M234.1 242.7a2.8 2.8 0 1 0 5.6 0a2.8 2.8 0 1 0 -5.6 0M236.72 242.7h0.3M234.2 242.6a2.8 2.8 0 1 0 5.6 0a2.8 2.8 0 1 0 -5.6 0M236.90 242.6h0.3M234.4 242.5a2.8 2.8 0 1 0 5.6 0a2.8 2.8 0 1 0 -5.6 0M237.07 242.5h0.3M234.6 242.5a2.8 2.8 0 1 0 5.6 0a2.8 2.8 0 1 0 -5.6 0M237.25 242.5h0.3M234.8 242.4a2.8 2.8 0 1 0 5.6 0a2.8 2.8 0 1 0 -5.6 0M237.43 242.4h0.3M235.0 242.3a2.8 2.8 0 1 0 5.6 0a2.8 2.8 0 1 0 -5.6 0M237.61 242.3h0.3M235.1 242.2a2.8 2.8 0 1 0 5.6 0a2.8 2.8 0 1 0 -5.6 0M237.79 242.2h0.3M235.3 242.2a2.8 2.8 0 1 0 5.6 0a2.8 2.8 0 1 0 -5.6 0M237.97 242.2h0.3M235.5 242.1a2.8 2.8 0 1 0 5.6 0a2.8 2.8 0 1 0 -5.6 0M238.15 242.1h0.3M235.7 242.0a2.8 2.8 0 1 0 5.6 0a2.8 2.8 0 1 0 -5.6 0M238.34 242.0h0.3M235.9 241.9a2.8 2.8 0 1 0 5.6 0a2.8 2.8 0 1 0 -5.6 0M238.53 241.9h0.3M236.1 241.9a2.8 2.8 0 1 0 5.6 0a2.8 2.8 0 1 0 -5.6 0M238.72 241.9h0.3M236.3 241.8a2.8 2.8 0 1 0 5.6 0a2.8 2.8 0 1 0 -5.6 0M238.91 241.8h0.3M236.4 241.7a2.8 2.8 0 1 0 5.6 0a2.8 2.8 0 1 0 -5.6 0M239.10 241.7h0.3M236.6 241.6a2.8 2.8 0 1 0 5.6 0a2.8 2.8 0 1 0 -5.6 0M239.29 241.6h0.3M236.8 241.5a2.8 2.8 0 1 0 5.6 0a2.8 2.8 0 1 0 -5.6 0M239.49 241.5h0.3M237.0 241.4a2.8 2.8 0 1 0 5.6 0a2.8 2.8 0 1 0 -5.6 0M239.68 241.4h0.3M237.2 241.4a2.8 2.8 0 1 0 5.6 0a2.8 2.8 0 1 0 -5.6 0M239.88 241.4h0.3M237.4 241.3a2.8 2.8 0 1 0 5.6 0a2.8 2.8 0 1 0 -5.6 0M240.08 241.3h0.3M237.6 241.2a2.8 2.8 0 1 0 5.6 0a2.8 2.8 0 1 0 -5.6 0M240.29 241.2h0.3M237.8 241.1a2.8 2.8 0 1 0 5.6 0a2.8 2.8 0 1 0 -5.6 0M240.49 241.1h0.3M238.0 241.0a2.8 2.8 0 1 0 5.6 0a2.8 2.8 0 1 0 -5.6 0M240.69 241.0h0.3M238.3 240.9a2.8 2.8 0 1 0 5.6 0a2.8 2.8 0 1 0 -5.6 0M240.90 240.9h0.3M238.5 240.8a2.8 2.8 0 1 0 5.6 0a2.8 2.8 0 1 0 -5.6 0M241.11 240.8h0.3M238.7 240.7a2.8 2.8 0 1 0 5.6 0a2.8 2.8 0 1 0 -5.6 0M241.32 240.7h0.3M238.9 240.6a2.8 2.8 0 1 0 5.6 0a2.8 2.8 0 1 0 -5.6 0M241.54 240.6h0.3M239.1 240.5a2.8 2.8 0 1 0 5.6 0a2.8 2.8 0 1 0 -5.6 0M241.75 240.5h0.3M239.3 240.4a2.8 2.8 0 1 0 5.6 0a2.8 2.8 0 1 0 -5.6 0M241.97 240.4h0.3M239.5 240.3a2.8 2.8 0 1 0 5.6 0a2.8 2.8 0 1 0 -5.6 0M242.19 240.3h0.3M239.8 240.2a2.8 2.8 0 1 0 5.6 0a2.8 2.8 0 1 0 -5.6 0M242.41 240.2h0.3M240.0 240.1a2.8 2.8 0 1 0 5.6 0a2.8 2.8 0 1 0 -5.6 0M242.64 240.1h0.3M240.2 240.0a2.8 2.8 0 1 0 5.6 0a2.8 2.8 0 1 0 -5.6 0M242.86 240.0h0.3M240.4 239.9a2.8 2.8 0 1 0 5.6 0a2.8 2.8 0 1 0 -5.6 0M243.09 239.9h0.3M240.7 239.8a2.8 2.8 0 1 0 5.6 0a2.8 2.8 0 1 0 -5.6 0M243.32 239.8h0.3M240.9 239.6a2.8 2.8 0 1 0 5.6 0a2.8 2.8 0 1 0 -5.6 0M243.56 239.6h0.3M241.1 239.5a2.8 2.8 0 1 0 5.6 0a2.8 2.8 0 1 0 -5.6 0M243.79 239.5h0.3M241.4 239.4a2.8 2.8 0 1 0 5.6 0a2.8 2.8 0 1 0 -5.6 0M244.03 239.4h0.3M241.6 239.3a2.8 2.8 0 1 0 5.6 0a2.8 2.8 0 1 0 -5.6 0M244.27 239.3h0.3M241.9 239.2a2.8 2.8 0 1 0 5.6 0a2.8 2.8 0 1 0 -5.6 0M244.51 239.2h0.3M242.1 239.0a2.8 2.8 0 1 0 5.6 0a2.8 2.8 0 1 0 -5.6 0M244.76 239.0h0.3M242.4 238.9a2.8 2.8 0 1 0 5.6 0a2.8 2.8 0 1 0 -5.6 0M245.01 238.9h0.3M242.6 238.8a2.8 2.8 0 1 0 5.6 0a2.8 2.8 0 1 0 -5.6 0M245.26 238.8h0.3M242.9 238.7a2.8 2.8 0 1 0 5.6 0a2.8 2.8 0 1 0 -5.6 0M245.52 238.7h0.3M243.1 238.5a2.8 2.8 0 1 0 5.6 0a2.8 2.8 0 1 0 -5.6 0M245.77 238.5h0.3M243.4 238.4a2.8 2.8 0 1 0 5.6 0a2.8 2.8 0 1 0 -5.6 0M246.03 238.4h0.3M243.6 238.2a2.8 2.8 0 1 0 5.6 0a2.8 2.8 0 1 0 -5.6 0M246.30 238.2h0.3M243.9 238.1a2.8 2.8 0 1 0 5.6 0a2.8 2.8 0 1 0 -5.6 0M246.56 238.1h0.3M244.2 238.0a2.8 2.8 0 1 0 5.6 0a2.8 2.8 0 1 0 -5.6 0M246.83 238.0h0.3M244.5 237.8a2.8 2.8 0 1 0 5.6 0a2.8 2.8 0 1 0 -5.6 0M247.10 237.8h0.3M244.7 237.7a2.8 2.8 0 1 0 5.6 0a2.8 2.8 0 1 0 -5.6 0M247.38 237.7h0.3M245.0 237.5a2.8 2.8 0 1 0 5.6 0a2.8 2.8 0 1 0 -5.6 0M247.66 237.5h0.3M245.3 237.3a2.8 2.8 0 1 0 5.6 0a2.8 2.8 0 1 0 -5.6 0M247.94 237.3h0.3M245.6 237.2a2.8 2.8 0 1 0 5.6 0a2.8 2.8 0 1 0 -5.6 0M248.23 237.2h0.3M245.9 237.0a2.8 2.8 0 1 0 5.6 0a2.8 2.8 0 1 0 -5.6 0M248.52 237.0h0.3M246.2 236.9a2.8 2.8 0 1 0 5.6 0a2.8 2.8 0 1 0 -5.6 0M248.81 236.9h0.3M246.5 236.7a2.8 2.8 0 1 0 5.6 0a2.8 2.8 0 1 0 -5.6 0M249.11 236.7h0.3M246.8 236.5a2.8 2.8 0 1 0 5.6 0a2.8 2.8 0 1 0 -5.6 0M249.41 236.5h0.3M247.1 236.3a2.8 2.8 0 1 0 5.6 0a2.8 2.8 0 1 0 -5.6 0M249.72 236.3h0.3M247.4 236.2a2.8 2.8 0 1 0 5.6 0a2.8 2.8 0 1 0 -5.6 0M250.03 236.2h0.3M247.7 236.0a2.8 2.8 0 1 0 5.6 0a2.8 2.8 0 1 0 -5.6 0M250.34 236.0h0.3M248.0 235.8a2.8 2.8 0 1 0 5.6 0a2.8 2.8 0 1 0 -5.6 0M250.66 235.8h0.3M248.3 235.6a2.8 2.8 0 1 0 5.6 0a2.8 2.8 0 1 0 -5.6 0M250.99 235.6h0.3M248.7 235.4a2.8 2.8 0 1 0 5.6 0a2.8 2.8 0 1 0 -5.6 0M251.31 235.4h0.3M249.0 235.2a2.8 2.8 0 1 0 5.6 0a2.8 2.8 0 1 0 -5.6 0M251.65 235.2h0.3M249.3 235.0a2.8 2.8 0 1 0 5.6 0a2.8 2.8 0 1 0 -5.6 0M251.98 235.0h0.3M249.7 234.8a2.8 2.8 0 1 0 5.6 0a2.8 2.8 0 1 0 -5.6 0M252.33 234.8h0.3M250.0 234.6a2.8 2.8 0 1 0 5.6 0a2.8 2.8 0 1 0 -5.6 0M252.68 234.6h0.3M250.4 234.4a2.8 2.8 0 1 0 5.6 0a2.8 2.8 0 1 0 -5.6 0M253.03 234.4h0.3M250.7 234.1a2.8 2.8 0 1 0 5.6 0a2.8 2.8 0 1 0 -5.6 0M253.39 234.1h0.3M251.1 233.9a2.8 2.8 0 1 0 5.6 0a2.8 2.8 0 1 0 -5.6 0M253.75 233.9h0.3M251.5 233.7a2.8 2.8 0 1 0 5.6 0a2.8 2.8 0 1 0 -5.6 0M254.12 233.7h0.3M251.9 233.4a2.8 2.8 0 1 0 5.6 0a2.8 2.8 0 1 0 -5.6 0M254.50 233.4h0.3M252.2 233.2a2.8 2.8 0 1 0 5.6 0a2.8 2.8 0 1 0 -5.6 0M254.89 233.2h0.3M252.6 232.9a2.8 2.8 0 1 0 5.6 0a2.8 2.8 0 1 0 -5.6 0M255.28 232.9h0.3M253.0 232.6a2.8 2.8 0 1 0 5.6 0a2.8 2.8 0 1 0 -5.6 0M255.67 232.6h0.3M253.4 232.4a2.8 2.8 0 1 0 5.6 0a2.8 2.8 0 1 0 -5.6 0M256.08 232.4h0.3M253.8 232.1a2.8 2.8 0 1 0 5.6 0a2.8 2.8 0 1 0 -5.6 0M256.49 232.1h0.3M254.3 231.8a2.8 2.8 0 1 0 5.6 0a2.8 2.8 0 1 0 -5.6 0M256.91 231.8h0.3M254.7 231.4a2.8 2.8 0 1 0 5.6 0a2.8 2.8 0 1 0 -5.6 0M257.33 231.4h0.3M255.1 231.1a2.8 2.8 0 1 0 5.6 0a2.8 2.8 0 1 0 -5.6 0M257.77 231.1h0.3M255.6 230.8a2.8 2.8 0 1 0 5.6 0a2.8 2.8 0 1 0 -5.6 0M258.21 230.8h0.3M256.0 230.4a2.8 2.8 0 1 0 5.6 0a2.8 2.8 0 1 0 -5.6 0M258.67 230.4h0.3M256.5 230.0a2.8 2.8 0 1 0 5.6 0a2.8 2.8 0 1 0 -5.6 0M259.13 230.0h0.3M256.9 229.6a2.8 2.8 0 1 0 5.6 0a2.8 2.8 0 1 0 -5.6 0M259.60 229.6h0.3M257.4 229.1a2.8 2.8 0 1 0 5.6 0a2.8 2.8 0 1 0 -5.6 0M260.08 229.1h0.3M257.9 228.7a2.8 2.8 0 1 0 5.6 0a2.8 2.8 0 1 0 -5.6 0M260.57 228.7h0.3M258.4 228.2a2.8 2.8 0 1 0 5.6 0a2.8 2.8 0 1 0 -5.6 0M261.07 228.2h0.3M258.9 227.7a2.8 2.8 0 1 0 5.6 0a2.8 2.8 0 1 0 -5.6 0M261.59 227.7h0.3M259.5 227.1a2.8 2.8 0 1 0 5.6 0a2.8 2.8 0 1 0 -5.6 0M262.11 227.1h0.3M260.0 226.5a2.8 2.8 0 1 0 5.6 0a2.8 2.8 0 1 0 -5.6 0M262.65 226.5h0.3M260.6 225.9a2.8 2.8 0 1 0 5.6 0a2.8 2.8 0 1 0 -5.6 0M263.21 225.9h0.3M261.1 225.2a2.8 2.8 0 1 0 5.6 0a2.8 2.8 0 1 0 -5.6 0M263.77 225.2h0.3M261.7 224.4a2.8 2.8 0 1 0 5.6 0a2.8 2.8 0 1 0 -5.6 0M264.35 224.4h0.3M262.3 223.6a2.8 2.8 0 1 0 5.6 0a2.8 2.8 0 1 0 -5.6 0M264.95 223.6h0.3M262.9 222.8a2.8 2.8 0 1 0 5.6 0a2.8 2.8 0 1 0 -5.6 0M265.56 222.8h0.3M263.5 221.9a2.8 2.8 0 1 0 5.6 0a2.8 2.8 0 1 0 -5.6 0M266.19 221.9h0.3M264.2 220.9a2.8 2.8 0 1 0 5.6 0a2.8 2.8 0 1 0 -5.6 0M266.83 220.9h0.3M264.8 219.8a2.8 2.8 0 1 0 5.6 0a2.8 2.8 0 1 0 -5.6 0M267.50 219.8h0.3M265.5 218.7a2.8 2.8 0 1 0 5.6 0a2.8 2.8 0 1 0 -5.6 0M268.18 218.7h0.3M266.2 217.5a2.8 2.8 0 1 0 5.6 0a2.8 2.8 0 1 0 -5.6 0M268.89 217.5h0.3M267.0 216.2a2.8 2.8 0 1 0 5.6 0a2.8 2.8 0 1 0 -5.6 0M269.62 216.2h0.3M267.7 214.8a2.8 2.8 0 1 0 5.6 0a2.8 2.8 0 1 0 -5.6 0M270.37 214.8h0.3M268.5 213.3a2.8 2.8 0 1 0 5.6 0a2.8 2.8 0 1 0 -5.6 0M271.15 213.3h0.3M269.3 211.8a2.8 2.8 0 1 0 5.6 0a2.8 2.8 0 1 0 -5.6 0M271.96 211.8h0.3M270.1 210.1a2.8 2.8 0 1 0 5.6 0a2.8 2.8 0 1 0 -5.6 0M272.80 210.1h0.3M271.0 208.3a2.8 2.8 0 1 0 5.6 0a2.8 2.8 0 1 0 -5.6 0M273.67 208.3h0.3M271.9 206.5a2.8 2.8 0 1 0 5.6 0a2.8 2.8 0 1 0 -5.6 0M274.57 206.5h0.3M272.9 204.5a2.8 2.8 0 1 0 5.6 0a2.8 2.8 0 1 0 -5.6 0M275.51 204.5h0.3M273.8 202.4a2.8 2.8 0 1 0 5.6 0a2.8 2.8 0 1 0 -5.6 0M276.49 202.4h0.3M274.9 200.2a2.8 2.8 0 1 0 5.6 0a2.8 2.8 0 1 0 -5.6 0M277.52 200.2h0.3M275.9 197.9a2.8 2.8 0 1 0 5.6 0a2.8 2.8 0 1 0 -5.6 0M278.60 197.9h0.3M277.1 195.5a2.8 2.8 0 1 0 5.6 0a2.8 2.8 0 1 0 -5.6 0M279.73 195.5h0.3M278.3 193.1a2.8 2.8 0 1 0 5.6 0a2.8 2.8 0 1 0 -5.6 0M280.92 193.1h0.3M279.5 190.6a2.8 2.8 0 1 0 5.6 0a2.8 2.8 0 1 0 -5.6 0M282.17 190.6h0.3M280.9 188.2a2.8 2.8 0 1 0 5.6 0a2.8 2.8 0 1 0 -5.6 0M283.50 188.2h0.3M282.3 185.8a2.8 2.8 0 1 0 5.6 0a2.8 2.8 0 1 0 -5.6 0M284.91 185.8h0.3M283.8 183.6a2.8 2.8 0 1 0 5.6 0a2.8 2.8 0 1 0 -5.6 0M286.42 183.6h0.3M285.4 181.7a2.8 2.8 0 1 0 5.6 0a2.8 2.8 0 1 0 -5.6 0M288.03 181.7h0.3M287.1 180.3a2.8 2.8 0 1 0 5.6 0a2.8 2.8 0 1 0 -5.6 0M289.76 180.3h0.3M289.0 179.5a2.8 2.8 0 1 0 5.6 0a2.8 2.8 0 1 0 -5.6 0M291.64 179.5h0.3M291.0 179.8a2.8 2.8 0 1 0 5.6 0a2.8 2.8 0 1 0 -5.6 0M293.70 179.8h0.3M293.3 181.4a2.8 2.8 0 1 0 5.6 0a2.8 2.8 0 1 0 -5.6 0M295.95 181.4h0.3M295.8 184.7a2.8 2.8 0 1 0 5.6 0a2.8 2.8 0 1 0 -5.6 0M298.45 184.7h0.3M298.6 190.3a2.8 2.8 0 1 0 5.6 0a2.8 2.8 0 1 0 -5.6 0M301.27 190.3h0.3M301.8 199.0a2.8 2.8 0 1 0 5.6 0a2.8 2.8 0 1 0 -5.6 0M304.49 199.0h0.3" fill="none" stroke="#000000" stroke-width="1.1"/>
<path d="M430.6 299.7h6.0M433.6 296.7v6.0M430.6 299.7h6.0M433.6 296.7v6.0M430.7 299.7h6.0M433.7 296.7v6.0M430.8 299.7h6.0M433.8 296.7v6.0M430.8 299.7h6.0M433.8 296.7v6.0M430.9 299.7h6.0M433.9 296.7v6.0M430.9 299.7h6.0M433.9 296.7v6.0M431.0 299.7h6.0M434.0 296.7v6.0M431.1 299.7h6.0M434.1 296.7v6.0M431.1 299.7h6.0M434.1 296.7v6.0M431.2 299.7h6.0M434.2 296.7v6.0M431.3 299.7h6.0M434.3 296.7v6.0M431.3 299.7h6.0M434.3 296.7v6.0M431.4 299.7h6.0M434.4 296.7v6.0M431.5 299.7h6.0M434.5 296.7v6.0M431.5 299.7h6.0M434.5 296.7v6.0M431.6 299.7h6.0M434.6 296.7v6.0M431.7 299.7h6.0M434.7 296.7v6.0M431.7 299.6h6.0M434.7 296.6v6.0M431.8 299.6h6.0M434.8 296.6v6.0M431.9 299.6h6.0M434.9 296.6v6.0M431.9 299.6h6.0M434.9 296.6v6.0M432.0 299.6h6.0M435.0 296.6v6.0M432.1 299.6h6.0M435.1 296.6v6.0M432.1 299.6h6.0M435.1 296.6v6.0M432.2 299.6h6.0M435.2 296.6v6.0M432.3 299.6h6.0M435.3 296.6v6.0M432.3 299.6h6.0M435.3 296.6v6.0M432.4 299.6h6.0M435.4 296.6v6.0M432.5 299.6h6.0M435.5 296.6v6.0M432.5 299.6h6.0M435.5 296.6v6.0M432.6 299.6h6.0M435.6 296.6v6.0M432.7 299.6h6.0M435.7 296.6v6.0M432.7 299.6h6.0M435.7 296.6v6.0M432.8 299.6h6.0M435.8 296.6v6.0M432.9 299.6h6.0M435.9 296.6v6.0M432.9 299.6h6.0M435.9 296.6v6.0M433.0 299.6h6.0M436.0 296.6v6.0M433.1 299.6h6.0M436.1 296.6v6.0M433.2 299.6h6.0M436.2 296.6v6.0M433.2 299.6h6.0M436.2 296.6v6.0M433.3 299.6h6.0M436.3 296.6v6.0M433.4 299.6h6.0M436.4 296.6v6.0M433.4 299.6h6.0M436.4 296.6v6.0M433.5 299.6h6.0M436.5 296.6v6.0M433.6 299.5h6.0M436.6 296.5v6.0M433.7 299.5h6.0M436.7 296.5v6.0M433.7 299.5h6.0M436.7 296.5v6.0M433.8 299.5h6.0M436.8 296.5v6.0M433.9 299.5h6.0M436.9 296.5v6.0M433.9 299.5h6.0M436.9 296.5v6.0M434.0 299.5h6.0M437.0 296.5v6.0M434.1 299.5h6.0M437.1 296.5v6.0M434.2 299.5h6.0M437.2 296.5v6.0M434.2 299.5h6.0M437.2 296.5v6.0M434.3 299.5h6.0M437.3 296.5v6.0M434.4 299.5h6.0M437.4 296.5v6.0M434.5 299.5h6.0M437.5 296.5v6.0M434.5 299.5h6.0M437.5 296.5v6.0M434.6 299.5h6.0M437.6 296.5v6.0M434.7 299.5h6.0M437.7 296.5v6.0M434.8 299.5h6.0M437.8 296.5v6.0M434.8 299.5h6.0M437.8 296.5v6.0M434.9 299.5h6.0M437.9 296.5v6.0M435.0 299.5h6.0M438.0 296.5v6.0M435.1 299.5h6.0M438.1 296.5v6.0M435.1 299.5h6.0M438.1 296.5v6.0M435.2 299.5h6.0M438.2 296.5v6.0M435.3 299.5h6.0M438.3 296.5v6.0M435.4 299.5h6.0M438.4 296.5v6.0M435.5 299.5h6.0M438.5 296.5v6.0M435.5 299.5h6.0M438.5 296.5v6.0M435.6 299.5h6.0M438.6 296.5v6.0M435.7 299.5h6.0M438.7 296.5v6.0M435.8 299.4h6.0M438.8 296.4v6.0M435.8 299.4h6.0M438.8 296.4v6.0M435.9 299.4h6.0M438.9 296.4v6.0M436.0 299.4h6.0M439.0 296.4v6.0M436.1 299.4h6.0M439.1 296.4v6.0M436.2 299.4h6.0M439.2 296.4v6.0M436.2 299.4h6.0M439.2 296.4v6.0M436.3 299.4h6.0M439.3 296.4v6.0M436.4 299.4h6.0M439.4 296.4v6.0M436.5 299.4h6.0M439.5 296.4v6.0M436.6 299.4h6.0M439.6 296.4v6.0M436.7 299.4h6.0M439.7 296.4v6.0M436.7 299.4h6.0M439.7 296.4v6.0M436.8 299.4h6.0M439.8 296.4v6.0M436.9 299.4h6.0M439.9 296.4v6.0M437.0 299.4h6.0M440.0 296.4v6.0M437.1 299.4h6.0M440.1 296.4v6.0M437.2 299.4h6.0M440.2 296.4v6.0M437.2 299.4h6.0M440.2 296.4v6.0M437.3 299.4h6.0M440.3 296.4v6.0M437.4 299.4h6.0M440.4 296.4v6.0M437.5 299.4h6.0M440.5 296.4v6.0M437.6 299.4h6.0M440.6 296.4v6.0M437.7 299.4h6.0M440.7 296.4v6.0M437.7 299.4h6.0M440.7 296.4v6.0M437.8 299.4h6.0M440.8 296.4v6.0M437.9 299.4h6.0M440.9 296.4v6.0M438.0 299.4h6.0M441.0 296.4v6.0M438.1 299.4h6.0M441.1 296.4v6.0M438.2 299.4h6.0M441.2 296.4v6.0M438.3 299.4h6.0M441.3 296.4v6.0M438.4 299.4h6.0M441.4 296.4v6.0M438.5 299.4h6.0M441.5 296.4v6.0M438.5 299.4h6.0M441.5 296.4v6.0M438.6 299.4h6.0M441.6 296.4v6.0M438.7 299.4h6.0M441.7 296.4v6.0M438.8 299.3h6.0M441.8 296.3v6.0M438.9 299.3h6.0M441.9 296.3v6.0M439.0 299.3h6.0M442.0 296.3v6.0M439.1 299.3h6.0M442.1 296.3v6.0M439.2 299.3h6.0M442.2 296.3v6.0M439.3 299.3h6.0M442.3 296.3v6.0M439.4 299.3h6.0M442.4 296.3v6.0M439.5 299.3h6.0M442.5 296.3v6.0M439.5 299.3h6.0M442.5 296.3v6.0M439.6 299.3h6.0M442.6 296.3v6.0M439.7 299.3h6.0M442.7 296.3v6.0M439.8 299.3h6.0M442.8 296.3v6.0M439.9 299.3h6.0M442.9 296.3v6.0M440.0 299.3h6.0M443.0 296.3v6.0M440.1 299.3h6.0M443.1 296.3v6.0M440.2 299.3h6.0M443.2 296.3v6.0M440.3 299.3h6.0M443.3 296.3v6.0M440.4 299.3h6.0M443.4 296.3v6.0M440.5 299.3h6.0M443.5 296.3v6.0M440.6 299.3h6.0M443.6 296.3v6.0M440.7 299.3h6.0M443.7 296.3v6.0M440.8 299.3h6.0M443.8 296.3v6.0M440.9 299.3h6.0M443.9 296.3v6.0M441.0 299.3h6.0M444.0 296.3v6.0M441.1 299.3h6.0M444.1 296.3v6.0M441.2 299.3h6.0M444.2 296.3v6.0M441.3 299.3h6.0M444.3 296.3v6.0M441.4 299.3h6.0M444.4 296.3v6.0M441.5 299.3h6.0M444.5 296.3v6.0M441.6 299.3h6.0M444.6 296.3v6.0M441.7 299.3h6.0M444.7 296.3v6.0M441.8 299.3h6.0M444.8 296.3v6.0M441.9 299.3h6.0M444.9 296.3v6.0M442.0 299.3h6.0M445.0 296.3v6.0M442.1 299.3h6.0M445.1 296.3v6.0M442.2 299.3h6.0M445.2 296.3v6.0M442.3 299.3h6.0M445.3 296.3v6.0M442.4 299.3h6.0M445.4 296.3v6.0M442.6 299.3h6.0M445.6 296.3v6.0M442.7 299.3h6.0M445.7 296.3v6.0M442.8 299.3h6.0M445.8 296.3v6.0M442.9 299.3h6.0M445.9 296.3v6.0M443.0 299.3h6.0M446.0 296.3v6.0M443.1 299.3h6.0M446.1 296.3v6.0M443.2 299.3h6.0M446.2 296.3v6.0M443.3 299.3h6.0M446.3 296.3v6.0M443.4 299.3h6.0M446.4 296.3v6.0M443.5 299.3h6.0M446.5 296.3v6.0M443.7 299.3h6.0M446.7 296.3v6.0M443.8 299.3h6.0M446.8 296.3v6.0M443.9 299.3h6.0M446.9 296.3v6.0M444.0 299.3h6.0M447.0 296.3v6.0M444.1 299.3h6.0M447.1 296.3v6.0M444.2 299.3h6.0M447.2 296.3v6.0M444.3 299.3h6.0M447.3 296.3v6.0M444.5 299.3h6.0M447.5 296.3v6.0M444.6 299.3h6.0M447.6 296.3v6.0M444.7 299.3h6.0M447.7 296.3v6.0M444.8 299.3h6.0M447.8 296.3v6.0M444.9 299.3h6.0M447.9 296.3v6.0M445.1 299.3h6.0M448.1 296.3v6.0M445.2 299.3h6.0M448.2 296.3v6.0M445.3 299.3h6.0M448.3 296.3v6.0M445.4 299.3h6.0M448.4 296.3v6.0M445.5 299.3h6.0M448.5 296.3v6.0M445.7 299.3h6.0M448.7 296.3v6.0M445.8 299.3h6.0M448.8 296.3v6.0M445.9 299.3h6.0M448.9 296.3v6.0M446.0 299.3h6.0M449.0 296.3v6.0M446.2 299.3h6.0M449.2 296.3v6.0M446.3 299.3h6.0M449.3 296.3v6.0M446.4 299.3h6.0M449.4 296.3v6.0M446.5 299.3h6.0M449.5 296.3v6.0M446.7 299.3h6.0M449.7 296.3v6.0M446.8 299.3h6.0M449.8 296.3v6.0M446.9 299.3h6.0M449.9 296.3v6.0M447.1 299.3h6.0M450.1 296.3v6.0M447.2 299.3h6.0M450.2 296.3v6.0M447.3 299.3h6.0M450.3 296.3v6.0M447.5 299.3h6.0M450.5 296.3v6.0M447.6 299.3h6.0M450.6 296.3v6.0M447.7 299.3h6.0M450.7 296.3v6.0M447.9 299.3h6.0M450.9 296.3v6.0M448.0 299.3h6.0M451.0 296.3v6.0M448.1 299.3h6.0M451.1 296.3v6.0M448.3 299.3h6.0M451.3 296.3v6.0M448.4 299.3h6.0M451.4 296.3v6.0M448.6 299.3h6.0M451.6 296.3v6.0M448.7 299.3h6.0M451.7 296.3v6.0M448.8 299.3h6.0M451.8 296.3v6.0M449.0 299.3h6.0M452.0 296.3v6.0M449.1 299.3h6.0M452.1 296.3v6.0M449.3 299.3h6.0M452.3 296.3v6.0M449.4 299.3h6.0M452.4 296.3v6.0M449.6 299.3h6.0M452.6 296.3v6.0M449.7 299.3h6.0M452.7 296.3v6.0M449.9 299.3h6.0M452.9 296.3v6.0M450.0 299.3h6.0M453.0 296.3v6.0M450.2 299.3h6.0M453.2 296.3v6.0M450.3 299.3h6.0M453.3 296.3v6.0M450.5 299.3h6.0M453.5 296.3v6.0M450.6 299.3h6.0M453.6 296.3v6.0M450.8 299.3h6.0M453.8 296.3v6.0M450.9 299.3h6.0M453.9 296.3v6.0M451.1 299.3h6.0M454.1 296.3v6.0M451.2 299.3h6.0M454.2 296.3v6.0M451.4 299.3h6.0M454.4 296.3v6.0M451.6 299.3h6.0M454.6 296.3v6.0M451.7 299.3h6.0M454.7 296.3v6.0M451.9 299.3h6.0M454.9 296.3v6.0M452.0 299.3h6.0M455.0 296.3v6.0M452.2 299.3h6.0M455.2 296.3v6.0M452.4 299.3h6.0M455.4 296.3v6.0M452.5 299.3h6.0M455.5 296.3v6.0M452.7 299.3h6.0M455.7 296.3v6.0M452.9 299.3h6.0M455.9 296.3v6.0M453.1 299.3h6.0M456.1 296.3v6.0M453.2 299.4h6.0M456.2 296.4v6.0M453.4 299.4h6.0M456.4 296.4v6.0M453.6 299.4h6.0M456.6 296.4v6.0M453.8 299.4h6.0M456.8 296.4v6.0M453.9 299.4h6.0M456.9 296.4v6.0M454.1 299.4h6.0M457.1 296.4v6.0M454.3 299.4h6.0M457.3 296.4v6.0M454.5 299.4h6.0M457.5 296.4v6.0M454.7 299.4h6.0M457.7 296.4v6.0M454.8 299.4h6.0M457.8 296.4v6.0M455.0 299.4h6.0M458.0 296.4v6.0M455.2 299.4h6.0M458.2 296.4v6.0M455.4 299.4h6.0M458.4 296.4v6.0M455.6 299.4h6.0M458.6 296.4v6.0M455.8 299.4h6.0M458.8 296.4v6.0M456.0 299.4h6.0M459.0 296.4v6.0M456.2 299.4h6.0M459.2 296.4v6.0M456.4 299.4h6.0M459.4 296.4v6.0M456.6 299.4h6.0M459.6 296.4v6.0M456.8 299.4h6.0M459.8 296.4v6.0M457.0 299.4h6.0M460.0 296.4v6.0M457.2 299.4h6.0M460.2 296.4v6.0M457.4 299.5h6.0M460.4 296.5v6.0M457.6 299.5h6.0M460.6 296.5v6.0M457.8 299.5h6.0M460.8 296.5v6.0M458.1 299.5h6.0M461.1 296.5v6.0M458.3 299.5h6.0M461.3 296.5v6.0M458.5 299.5h6.0M461.5 296.5v6.0M458.7 299.5h6.0M461.7 296.5v6.0M458.9 299.5h6.0M461.9 296.5v6.0M459.2 299.5h6.0M462.2 296.5v6.0M459.4 299.5h6.0M462.4 296.5v6.0M459.6 299.5h6.0M462.6 296.5v6.0M459.8 299.5h6.0M462.8 296.5v6.0M460.1 299.5h6.0M463.1 296.5v6.0M460.3 299.5h6.0M463.3 296.5v6.0M460.6 299.5h6.0M463.6 296.5v6.0M460.8 299.5h6.0M463.8 296.5v6.0M461.0 299.6h6.0M464.0 296.6v6.0M461.3 299.6h6.0M464.3 296.6v6.0M461.5 299.6h6.0M464.5 296.6v6.0M461.8 299.6h6.0M464.8 296.6v6.0M462.1 299.6h6.0M465.1 296.6v6.0M462.3 299.6h6.0M465.3 296.6v6.0M462.6 299.6h6.0M465.6 296.6v6.0M462.8 299.6h6.0M465.8 296.6v6.0M463.1 299.6h6.0M466.1 296.6v6.0M463.4 299.6h6.0M466.4 296.6v6.0M463.7 299.6h6.0M466.7 296.6v6.0M463.9 299.6h6.0M466.9 296.6v6.0M464.2 299.6h6.0M467.2 296.6v6.0M464.5 299.7h6.0M467.5 296.7v6.0M464.8 299.7h6.0M467.8 296.7v6.0M465.1 299.7h6.0M468.1 296.7v6.0M465.4 299.7h6.0M468.4 296.7v6.0M465.7 299.7h6.0M468.7 296.7v6.0M466.0 299.7h6.0M469.0 296.7v6.0M466.3 299.7h6.0M469.3 296.7v6.0M466.6 299.7h6.0M469.6 296.7v6.0M466.9 299.7h6.0M469.9 296.7v6.0M467.3 299.7h6.0M470.3 296.7v6.0M467.6 299.8h6.0M470.6 296.8v6.0M467.9 299.8h6.0M470.9 296.8v6.0M468.3 299.8h6.0M471.3 296.8v6.0M468.6 299.8h6.0M471.6 296.8v6.0M469.0 299.8h6.0M472.0 296.8v6.0M469.3 299.8h6.0M472.3 296.8v6.0M469.7 299.8h6.0M472.7 296.8v6.0M470.0 299.8h6.0M473.0 296.8v6.0M470.4 299.8h6.0M473.4 296.8v6.0M470.8 299.8h6.0M473.8 296.8v6.0M471.2 299.9h6.0M474.2 296.9v6.0M471.6 299.9h6.0M474.6 296.9v6.0M472.0 299.9h6.0M475.0 296.9v6.0M472.4 299.9h6.0M475.4 296.9v6.0M472.8 299.9h6.0M475.8 296.9v6.0M473.2 299.9h6.0M476.2 296.9v6.0M473.6 299.9h6.0M476.6 296.9v6.0M474.1 299.9h6.0M477.1 296.9v6.0M474.5 299.9h6.0M477.5 296.9v6.0M475.0 299.9h6.0M478.0 296.9v6.0M475.5 299.9h6.0M478.5 296.9v6.0M475.9 300.0h6.0M478.9 297.0v6.0M476.4 300.0h6.0M479.4 297.0v6.0M476.9 300.0h6.0M479.9 297.0v6.0M477.4 300.0h6.0M480.4 297.0v6.0M477.9 300.0h6.0M480.9 297.0v6.0M478.5 300.0h6.0M481.5 297.0v6.0M479.0 300.0h6.0M482.0 297.0v6.0M479.6 300.0h6.0M482.6 297.0v6.0M480.2 300.0h6.0M483.2 297.0v6.0M480.7 300.0h6.0M483.7 297.0v6.0M481.4 300.0h6.0M484.4 297.0v6.0M482.0 300.0h6.0M485.0 297.0v6.0M482.6 300.0h6.0M485.6 297.0v6.0M483.3 300.0h6.0M486.3 297.0v6.0M484.0 300.0h6.0M487.0 297.0v6.0M484.7 300.0h6.0M487.7 297.0v6.0M485.4 300.0h6.0M488.4 297.0v6.0M486.1 300.0h6.0M489.1 297.0v6.0M486.9 300.0h6.0M489.9 297.0v6.0M487.7 300.0h6.0M490.7 297.0v6.0M488.5 300.0h6.0M491.5 297.0v6.0M489.4 300.0h6.0M492.4 297.0v6.0M490.3 299.9h6.0M493.3 296.9v6.0M491.3 299.9h6.0M494.3 296.9v6.0M492.2 299.9h6.0M495.2 296.9v6.0M493.3 299.8h6.0M496.3 296.8v6.0M494.3 299.8h6.0M497.3 296.8v6.0M495.5 299.7h6.0M498.5 296.7v6.0M496.7 299.7h6.0M499.7 296.7v6.0M497.9 299.6h6.0M500.9 296.6v6.0M499.3 299.5h6.0M502.3 296.5v6.0M500.7 299.4h6.0M503.7 296.4v6.0M502.2 299.2h6.0M505.2 296.2v6.0M503.8 299.1h6.0M506.8 296.1v6.0M505.6 298.9h6.0M508.6 295.9v6.0M507.5 298.6h6.0M510.5 295.6v6.0M509.6 298.4h6.0M512.6 295.4v6.0M511.9 298.0h6.0M514.9 295.0v6.0M514.4 297.5h6.0M517.4 294.5v6.0M517.3 297.0h6.0M520.3 294.0v6.0M520.7 296.2h6.0M523.7 293.2v6.0M524.6 295.2h6.0M527.6 292.2v6.0M529.4 293.7h6.0M532.4 290.7v6.0M535.4 291.5h6.0M538.4 288.5v6.0" fill="none" stroke="#ff0000" stroke-width="0.8"/>
<path d="M461.2 311.7l6.0 6.0M461.2 317.7l6.0 -6.0M461.3 311.7l6.0 6.0M461.3 317.7l6.0 -6.0M461.4 311.7l6.0 6.0M461.4 317.7l6.0 -6.0M461.5 311.7l6.0 6.0M461.5 317.7l6.0 -6.0M461.6 311.7l6.0 6.0M461.6 317.7l6.0 -6.0M461.7 311.7l6.0 6.0M461.7 317.7l6.0 -6.0M461.7 311.7l6.0 6.0M461.7 317.7l6.0 -6.0M461.8 311.7l6.0 6.0M461.8 317.7l6.0 -6.0M461.9 311.7l6.0 6.0M461.9 317.7l6.0 -6.0M462.0 311.7l6.0 6.0M462.0 317.7l6.0 -6.0M462.1 311.7l6.0 6.0M462.1 317.7l6.0 -6.0M462.2 311.7l6.0 6.0M462.2 317.7l6.0 -6.0M462.3 311.7l6.0 6.0M462.3 317.7l6.0 -6.0M462.4 311.7l6.0 6.0M462.4 317.7l6.0 -6.0M462.5 311.7l6.0 6.0M462.5 317.7l6.0 -6.0M462.6 311.7l6.0 6.0M462.6 317.7l6.0 -6.0M462.7 311.7l6.0 6.0M462.7 317.7l6.0 -6.0M462.8 311.7l6.0 6.0M462.8 317.7l6.0 -6.0M462.9 311.7l6.0 6.0M462.9 317.7l6.0 -6.0M463.0 311.6l6.0 6.0M463.0 317.6l6.0 -6.0M463.1 311.6l6.0 6.0M463.1 317.6l6.0 -6.0M463.2 311.6l6.0 6.0M463.2 317.6l6.0 -6.0M463.3 311.6l6.0 6.0M463.3 317.6l6.0 -6.0M463.4 311.6l6.0 6.0M463.4 317.6l6.0 -6.0M463.5 311.6l6.0 6.0M463.5 317.6l6.0 -6.0M463.6 311.6l6.0 6.0M463.6 317.6l6.0 -6.0M463.7 311.6l6.0 6.0M463.7 317.6l6.0 -6.0M463.8 311.6l6.0 6.0M463.8 317.6l6.0 -6.0M464.0 311.6l6.0 6.0M464.0 317.6l6.0 -6.0M464.1 311.6l6.0 6.0M464.1 317.6l6.0 -6.0M464.2 311.6l6.0 6.0M464.2 317.6l6.0 -6.0M464.3 311.6l6.0 6.0M464.3 317.6l6.0 -6.0M464.4 311.6l6.0 6.0M464.4 317.6l6.0 -6.0M464.5 311.6l6.0 6.0M464.5 317.6l6.0 -6.0M464.6 311.6l6.0 6.0M464.6 317.6l6.0 -6.0M464.7 311.6l6.0 6.0M464.7 317.6l6.0 -6.0M464.8 311.6l6.0 6.0M464.8 317.6l6.0 -6.0M464.9 311.6l6.0 6.0M464.9 317.6l6.0 -6.0M465.0 311.6l6.0 6.0M465.0 317.6l6.0 -6.0M465.1 311.6l6.0 6.0M465.1 317.6l6.0 -6.0M465.3 311.6l6.0 6.0M465.3 317.6l6.0 -6.0M465.4 311.6l6.0 6.0M465.4 317.6l6.0 -6.0M465.5 311.6l6.0 6.0M465.5 317.6l6.0 -6.0M465.6 311.6l6.0 6.0M465.6 317.6l6.0 -6.0M465.7 311.6l6.0 6.0M465.7 317.6l6.0 -6.0M465.8 311.6l6.0 6.0M465.8 317.6l6.0 -6.0M465.9 311.6l6.0 6.0M465.9 317.6l6.0 -6.0M466.1 311.6l6.0 6.0M466.1 317.6l6.0 -6.0M466.2 311.6l6.0 6.0M466.2 317.6l6.0 -6.0M466.3 311.6l6.0 6.0M466.3 317.6l6.0 -6.0M466.4 311.6l6.0 6.0M466.4 317.6l6.0 -6.0M466.5 311.6l6.0 6.0M466.5 317.6l6.0 -6.0M466.6 311.6l6.0 6.0M466.6 317.6l6.0 -6.0M466.8 311.6l6.0 6.0M466.8 317.6l6.0 -6.0M466.9 311.6l6.0 6.0M466.9 317.6l6.0 -6.0M467.0 311.6l6.0 6.0M467.0 317.6l6.0 -6.0M467.1 311.6l6.0 6.0M467.1 317.6l6.0 -6.0M467.2 311.6l6.0 6.0M467.2 317.6l6.0 -6.0M467.4 311.6l6.0 6.0M467.4 317.6l6.0 -6.0M467.5 311.6l6.0 6.0M467.5 317.6l6.0 -6.0M467.6 311.6l6.0 6.0M467.6 317.6l6.0 -6.0M467.7 311.6l6.0 6.0M467.7 317.6l6.0 -6.0M467.9 311.6l6.0 6.0M467.9 317.6l6.0 -6.0M468.0 311.6l6.0 6.0M468.0 317.6l6.0 -6.0M468.1 311.6l6.0 6.0M468.1 317.6l6.0 -6.0M468.2 311.7l6.0 6.0M468.2 317.7l6.0 -6.0M468.4 311.7l6.0 6.0M468.4 317.7l6.0 -6.0M468.5 311.7l6.0 6.0M468.5 317.7l6.0 -6.0M468.6 311.7l6.0 6.0M468.6 317.7l6.0 -6.0M468.8 311.7l6.0 6.0M468.8 317.7l6.0 -6.0M468.9 311.7l6.0 6.0M468.9 317.7l6.0 -6.0M469.0 311.7l6.0 6.0M469.0 317.7l6.0 -6.0M469.2 311.7l6.0 6.0M469.2 317.7l6.0 -6.0M469.3 311.7l6.0 6.0M469.3 317.7l6.0 -6.0M469.4 311.7l6.0 6.0M469.4 317.7l6.0 -6.0M469.6 311.7l6.0 6.0M469.6 317.7l6.0 -6.0M469.7 311.7l6.0 6.0M469.7 317.7l6.0 -6.0M469.8 311.7l6.0 6.0M469.8 317.7l6.0 -6.0M470.0 311.7l6.0 6.0M470.0 317.7l6.0 -6.0M470.1 311.7l6.0 6.0M470.1 317.7l6.0 -6.0M470.2 311.7l6.0 6.0M470.2 317.7l6.0 -6.0M470.4 311.7l6.0 6.0M470.4 317.7l6.0 -6.0M470.5 311.7l6.0 6.0M470.5 317.7l6.0 -6.0M470.7 311.7l6.0 6.0M470.7 317.7l6.0 -6.0M470.8 311.7l6.0 6.0M470.8 317.7l6.0 -6.0M471.0 311.7l6.0 6.0M471.0 317.7l6.0 -6.0M471.1 311.7l6.0 6.0M471.1 317.7l6.0 -6.0M471.2 311.7l6.0 6.0M471.2 317.7l6.0 -6.0M471.4 311.7l6.0 6.0M471.4 317.7l6.0 -6.0M471.5 311.7l6.0 6.0M471.5 317.7l6.0 -6.0M471.7 311.7l6.0 6.0M471.7 317.7l6.0 -6.0M471.8 311.7l6.0 6.0M471.8 317.7l6.0 -6.0M472.0 311.7l6.0 6.0M472.0 317.7l6.0 -6.0M472.1 311.7l6.0 6.0M472.1 317.7l6.0 -6.0M472.3 311.7l6.0 6.0M472.3 317.7l6.0 -6.0M472.4 311.7l6.0 6.0M472.4 317.7l6.0 -6.0M472.6 311.7l6.0 6.0M472.6 317.7l6.0 -6.0M472.8 311.7l6.0 6.0M472.8 317.7l6.0 -6.0M472.9 311.7l6.0 6.0M472.9 317.7l6.0 -6.0M473.1 311.7l6.0 6.0M473.1 317.7l6.0 -6.0M473.2 311.7l6.0 6.0M473.2 317.7l6.0 -6.0M473.4 311.7l6.0 6.0M473.4 317.7l6.0 -6.0M473.6 311.7l6.0 6.0M473.6 317.7l6.0 -6.0M473.7 311.7l6.0 6.0M473.7 317.7l6.0 -6.0M473.9 311.7l6.0 6.0M473.9 317.7l6.0 -6.0M474.0 311.7l6.0 6.0M474.0 317.7l6.0 -6.0M474.2 311.7l6.0 6.0M474.2 317.7l6.0 -6.0M474.4 311.7l6.0 6.0M474.4 317.7l6.0 -6.0M474.6 311.7l6.0 6.0M474.6 317.7l6.0 -6.0M474.7 311.7l6.0 6.0M474.7 317.7l6.0 -6.0M474.9 311.7l6.0 6.0M474.9 317.7l6.0 -6.0M475.1 311.7l6.0 6.0M475.1 317.7l6.0 -6.0M475.2 311.7l6.0 6.0M475.2 317.7l6.0 -6.0M475.4 311.7l6.0 6.0M475.4 317.7l6.0 -6.0M475.6 311.7l6.0 6.0M475.6 317.7l6.0 -6.0M475.8 311.7l6.0 6.0M475.8 317.7l6.0 -6.0M476.0 311.7l6.0 6.0M476.0 317.7l6.0 -6.0M476.1 311.7l6.0 6.0M476.1 317.7l6.0 -6.0M476.3 311.7l6.0 6.0M476.3 317.7l6.0 -6.0M476.5 311.7l6.0 6.0M476.5 317.7l6.0 -6.0M476.7 311.7l6.0 6.0M476.7 317.7l6.0 -6.0M476.9 311.7l6.0 6.0M476.9 317.7l6.0 -6.0M477.1 311.7l6.0 6.0M477.1 317.7l6.0 -6.0M477.3 311.7l6.0 6.0M477.3 317.7l6.0 -6.0M477.4 311.7l6.0 6.0M477.4 317.7l6.0 -6.0M477.6 311.7l6.0 6.0M477.6 317.7l6.0 -6.0M477.8 311.7l6.0 6.0M477.8 317.7l6.0 -6.0M478.0 311.6l6.0 6.0M478.0 317.6l6.0 -6.0M478.2 311.6l6.0 6.0M478.2 317.6l6.0 -6.0M478.4 311.6l6.0 6.0M478.4 317.6l6.0 -6.0M478.6 311.6l6.0 6.0M478.6 317.6l6.0 -6.0M478.8 311.6l6.0 6.0M478.8 317.6l6.0 -6.0M479.1 311.6l6.0 6.0M479.1 317.6l6.0 -6.0M479.3 311.6l6.0 6.0M479.3 317.6l6.0 -6.0M479.5 311.6l6.0 6.0M479.5 317.6l6.0 -6.0M479.7 311.6l6.0 6.0M479.7 317.6l6.0 -6.0M479.9 311.6l6.0 6.0M479.9 317.6l6.0 -6.0M480.1 311.6l6.0 6.0M480.1 317.6l6.0 -6.0M480.3 311.6l6.0 6.0M480.3 317.6l6.0 -6.0M480.6 311.6l6.0 6.0M480.6 317.6l6.0 -6.0M480.8 311.6l6.0 6.0M480.8 317.6l6.0 -6.0M481.0 311.6l6.0 6.0M481.0 317.6l6.0 -6.0M481.2 311.6l6.0 6.0M481.2 317.6l6.0 -6.0M481.5 311.6l6.0 6.0M481.5 317.6l6.0 -6.0M481.7 311.6l6.0 6.0M481.7 317.6l6.0 -6.0M481.9 311.6l6.0 6.0M481.9 317.6l6.0 -6.0M482.2 311.6l6.0 6.0M482.2 317.6l6.0 -6.0M482.4 311.6l6.0 6.0M482.4 317.6l6.0 -6.0M482.7 311.6l6.0 6.0M482.7 317.6l6.0 -6.0M482.9 311.6l6.0 6.0M482.9 317.6l6.0 -6.0M483.1 311.6l6.0 6.0M483.1 317.6l6.0 -6.0M483.4 311.6l6.0 6.0M483.4 317.6l6.0 -6.0M483.7 311.6l6.0 6.0M483.7 317.6l6.0 -6.0M483.9 311.6l6.0 6.0M483.9 317.6l6.0 -6.0M484.2 311.5l6.0 6.0M484.2 317.5l6.0 -6.0M484.4 311.5l6.0 6.0M484.4 317.5l6.0 -6.0M484.7 311.5l6.0 6.0M484.7 317.5l6.0 -6.0M485.0 311.5l6.0 6.0M485.0 317.5l6.0 -6.0M485.2 311.5l6.0 6.0M485.2 317.5l6.0 -6.0M485.5 311.5l6.0 6.0M485.5 317.5l6.0 -6.0M485.8 311.5l6.0 6.0M485.8 317.5l6.0 -6.0M486.1 311.5l6.0 6.0M486.1 317.5l6.0 -6.0M486.4 311.5l6.0 6.0M486.4 317.5l6.0 -6.0M486.7 311.5l6.0 6.0M486.7 317.5l6.0 -6.0M486.9 311.5l6.0 6.0M486.9 317.5l6.0 -6.0M487.2 311.4l6.0 6.0M487.2 317.4l6.0 -6.0M487.6 311.4l6.0 6.0M487.6 317.4l6.0 -6.0M487.9 311.4l6.0 6.0M487.9 317.4l6.0 -6.0M488.2 311.4l6.0 6.0M488.2 317.4l6.0 -6.0M488.5 311.4l6.0 6.0M488.5 317.4l6.0 -6.0M488.8 311.4l6.0 6.0M488.8 317.4l6.0 -6.0M489.1 311.4l6.0 6.0M489.1 317.4l6.0 -6.0M489.5 311.3l6.0 6.0M489.5 317.3l6.0 -6.0M489.8 311.3l6.0 6.0M489.8 317.3l6.0 -6.0M490.1 311.3l6.0 6.0M490.1 317.3l6.0 -6.0M490.5 311.3l6.0 6.0M490.5 317.3l6.0 -6.0M490.8 311.3l6.0 6.0M490.8 317.3l6.0 -6.0M491.2 311.2l6.0 6.0M491.2 317.2l6.0 -6.0M491.5 311.2l6.0 6.0M491.5 317.2l6.0 -6.0M491.9 311.2l6.0 6.0M491.9 317.2l6.0 -6.0M492.3 311.2l6.0 6.0M492.3 317.2l6.0 -6.0M492.7 311.1l6.0 6.0M492.7 317.1l6.0 -6.0M493.1 311.1l6.0 6.0M493.1 317.1l6.0 -6.0M493.4 311.1l6.0 6.0M493.4 317.1l6.0 -6.0M493.8 311.0l6.0 6.0M493.8 317.0l6.0 -6.0M494.3 311.0l6.0 6.0M494.3 317.0l6.0 -6.0M494.7 311.0l6.0 6.0M494.7 317.0l6.0 -6.0M495.1 310.9l6.0 6.0M495.1 316.9l6.0 -6.0M495.5 310.9l6.0 6.0M495.5 316.9l6.0 -6.0M496.0 310.9l6.0 6.0M496.0 316.9l6.0 -6.0M496.4 310.8l6.0 6.0M496.4 316.8l6.0 -6.0M496.9 310.8l6.0 6.0M496.9 316.8l6.0 -6.0M497.3 310.7l6.0 6.0M497.3 316.7l6.0 -6.0M497.8 310.7l6.0 6.0M497.8 316.7l6.0 -6.0M498.3 310.6l6.0 6.0M498.3 316.6l6.0 -6.0M498.8 310.5l6.0 6.0M498.8 316.5l6.0 -6.0M499.3 310.5l6.0 6.0M499.3 316.5l6.0 -6.0M499.8 310.4l6.0 6.0M499.8 316.4l6.0 -6.0M500.4 310.3l6.0 6.0M500.4 316.3l6.0 -6.0M500.9 310.3l6.0 6.0M500.9 316.3l6.0 -6.0M501.5 310.2l6.0 6.0M501.5 316.2l6.0 -6.0M502.1 310.1l6.0 6.0M502.1 316.1l6.0 -6.0M502.7 310.0l6.0 6.0M502.7 316.0l6.0 -6.0M503.3 309.9l6.0 6.0M503.3 315.9l6.0 -6.0M503.9 309.8l6.0 6.0M503.9 315.8l6.0 -6.0M504.5 309.7l6.0 6.0M504.5 315.7l6.0 -6.0M505.2 309.6l6.0 6.0M505.2 315.6l6.0 -6.0M505.9 309.5l6.0 6.0M505.9 315.5l6.0 -6.0M506.6 309.3l6.0 6.0M506.6 315.3l6.0 -6.0M507.3 309.2l6.0 6.0M507.3 315.2l6.0 -6.0M508.1 309.0l6.0 6.0M508.1 315.0l6.0 -6.0M508.9 308.9l6.0 6.0M508.9 314.9l6.0 -6.0M509.7 308.7l6.0 6.0M509.7 314.7l6.0 -6.0M510.5 308.5l6.0 6.0M510.5 314.5l6.0 -6.0M511.4 308.3l6.0 6.0M511.4 314.3l6.0 -6.0M512.3 308.1l6.0 6.0M512.3 314.1l6.0 -6.0M513.2 307.8l6.0 6.0M513.2 313.8l6.0 -6.0M514.2 307.5l6.0 6.0M514.2 313.5l6.0 -6.0M515.2 307.2l6.0 6.0M515.2 313.2l6.0 -6.0M516.3 306.9l6.0 6.0M516.3 312.9l6.0 -6.0M517.5 306.5l6.0 6.0M517.5 312.5l6.0 -6.0M518.7 306.1l6.0 6.0M518.7 312.1l6.0 -6.0M519.9 305.7l6.0 6.0M519.9 311.7l6.0 -6.0M521.3 305.2l6.0 6.0M521.3 311.2l6.0 -6.0M522.7 304.6l6.0 6.0M522.7 310.6l6.0 -6.0M524.3 304.0l6.0 6.0M524.3 310.0l6.0 -6.0M525.9 303.3l6.0 6.0M525.9 309.3l6.0 -6.0M527.7 302.4l6.0 6.0M527.7 308.4l6.0 -6.0M529.6 301.5l6.0 6.0M529.6 307.5l6.0 -6.0M531.7 300.3l6.0 6.0M531.7 306.3l6.0 -6.0M534.1 299.0l6.0 6.0M534.1 305.0l6.0 -6.0M536.7 297.4l6.0 6.0M536.7 303.4l6.0 -6.0M539.7 295.4l6.0 6.0M539.7 301.4l6.0 -6.0M543.1 292.9l6.0 6.0M543.1 298.9l6.0 -6.0M547.1 289.5l6.0 6.0M547.1 295.5l6.0 -6.0M552.1 285.0l6.0 6.0M552.1 291.0l6.0 -6.0" fill="none" stroke="#00ff00" stroke-width="0.8"/>
<path d="M472.7 325.0h6.0M475.7 322.0v6.0M472.7 322.0l6.0 6.0M472.7 328.0l6.0 -6.0M472.8 325.0h6.0M475.8 322.0v6.0M472.8 322.0l6.0 6.0M472.8 328.0l6.0 -6.0M472.9 325.0h6.0M475.9 322.0v6.0M472.9 322.0l6.0 6.0M472.9 328.0l6.0 -6.0M473.0 325.0h6.0M476.0 322.0v6.0M473.0 322.0l6.0 6.0M473.0 328.0l6.0 -6.0M473.1 325.0h6.0M476.1 322.0v6.0M473.1 322.0l6.0 6.0M473.1 328.0l6.0 -6.0M473.2 325.0h6.0M476.2 322.0v6.0M473.2 322.0l6.0 6.0M473.2 328.0l6.0 -6.0M473.3 325.0h6.0M476.3 322.0v6.0M473.3 322.0l6.0 6.0M473.3 328.0l6.0 -6.0M473.4 325.0h6.0M476.4 322.0v6.0M473.4 322.0l6.0 6.0M473.4 328.0l6.0 -6.0M473.5 325.0h6.0M476.5 322.0v6.0M473.5 322.0l6.0 6.0M473.5 328.0l6.0 -6.0M473.5 325.0h6.0M476.5 322.0v6.0M473.5 322.0l6.0 6.0M473.5 328.0l6.0 -6.0M473.6 325.0h6.0M476.6 322.0v6.0M473.6 322.0l6.0 6.0M473.6 328.0l6.0 -6.0M473.7 325.0h6.0M476.7 322.0v6.0M473.7 322.0l6.0 6.0M473.7 328.0l6.0 -6.0M473.8 325.0h6.0M476.8 322.0v6.0M473.8 322.0l6.0 6.0M473.8 328.0l6.0 -6.0M473.9 325.0h6.0M476.9 322.0v6.0M473.9 322.0l6.0 6.0M473.9 328.0l6.0 -6.0M474.0 325.0h6.0M477.0 322.0v6.0M474.0 322.0l6.0 6.0M474.0 328.0l6.0 -6.0M474.1 325.0h6.0M477.1 322.0v6.0M474.1 322.0l6.0 6.0M474.1 328.0l6.0 -6.0M474.2 325.0h6.0M477.2 322.0v6.0M474.2 322.0l6.0 6.0M474.2 328.0l6.0 -6.0M474.3 325.0h6.0M477.3 322.0v6.0M474.3 322.0l6.0 6.0M474.3 328.0l6.0 -6.0M474.4 325.0h6.0M477.4 322.0v6.0M474.4 322.0l6.0 6.0M474.4 328.0l6.0 -6.0M474.5 325.0h6.0M477.5 322.0v6.0M474.5 322.0l6.0 6.0M474.5 328.0l6.0 -6.0M474.6 325.0h6.0M477.6 322.0v6.0M474.6 322.0l6.0 6.0M474.6 328.0l6.0 -6.0M474.7 325.0h6.0M477.7 322.0v6.0M474.7 322.0l6.0 6.0M474.7 328.0l6.0 -6.0M474.9 325.0h6.0M477.9 322.0v6.0M474.9 322.0l6.0 6.0M474.9 328.0l6.0 -6.0M475.0 325.0h6.0M478.0 322.0v6.0M475.0 322.0l6.0 6.0M475.0 328.0l6.0 -6.0M475.1 325.0h6.0M478.1 322.0v6.0M475.1 322.0l6.0 6.0M475.1 328.0l6.0 -6.0M475.2 325.0h6.0M478.2 322.0v6.0M475.2 322.0l6.0 6.0M475.2 328.0l6.0 -6.0M475.3 325.0h6.0M478.3 322.0v6.0M475.3 322.0l6.0 6.0M475.3 328.0l6.0 -6.0M475.4 325.0h6.0M478.4 322.0v6.0M475.4 322.0l6.0 6.0M475.4 328.0l6.0 -6.0M475.5 325.0h6.0M478.5 322.0v6.0M475.5 322.0l6.0 6.0M475.5 328.0l6.0 -6.0M475.6 325.0h6.0M478.6 322.0v6.0M475.6 322.0l6.0 6.0M475.6 328.0l6.0 -6.0M475.7 325.0h6.0M478.7 322.0v6.0M475.7 322.0l6.0 6.0M475.7 328.0l6.0 -6.0M475.8 325.0h6.0M478.8 322.0v6.0M475.8 322.0l6.0 6.0M475.8 328.0l6.0 -6.0M475.9 325.0h6.0M478.9 322.0v6.0M475.9 322.0l6.0 6.0M475.9 328.0l6.0 -6.0M476.0 325.0h6.0M479.0 322.0v6.0M476.0 322.0l6.0 6.0M476.0 328.0l6.0 -6.0M476.1 325.0h6.0M479.1 322.0v6.0M476.1 322.0l6.0 6.0M476.1 328.0l6.0 -6.0M476.2 325.0h6.0M479.2 322.0v6.0M476.2 322.0l6.0 6.0M476.2 328.0l6.0 -6.0M476.3 325.0h6.0M479.3 322.0v6.0M476.3 322.0l6.0 6.0M476.3 328.0l6.0 -6.0M476.5 325.0h6.0M479.5 322.0v6.0M476.5 322.0l6.0 6.0M476.5 328.0l6.0 -6.0M476.6 325.0h6.0M479.6 322.0v6.0M476.6 322.0l6.0 6.0M476.6 328.0l6.0 -6.0M476.7 325.0h6.0M479.7 322.0v6.0M476.7 322.0l6.0 6.0M476.7 328.0l6.0 -6.0M476.8 325.0h6.0M479.8 322.0v6.0M476.8 322.0l6.0 6.0M476.8 328.0l6.0 -6.0M476.9 325.0h6.0M479.9 322.0v6.0M476.9 322.0l6.0 6.0M476.9 328.0l6.0 -6.0M477.0 325.0h6.0M480.0 322.0v6.0M477.0 322.0l6.0 6.0M477.0 328.0l6.0 -6.0M477.1 325.0h6.0M480.1 322.0v6.0M477.1 322.0l6.0 6.0M477.1 328.0l6.0 -6.0M477.2 324.9h6.0M480.2 321.9v6.0M477.2 321.9l6.0 6.0M477.2 327.9l6.0 -6.0M477.4 324.9h6.0M480.4 321.9v6.0M477.4 321.9l6.0 6.0M477.4 327.9l6.0 -6.0M477.5 324.9h6.0M480.5 321.9v6.0M477.5 321.9l6.0 6.0M477.5 327.9l6.0 -6.0M477.6 324.9h6.0M480.6 321.9v6.0M477.6 321.9l6.0 6.0M477.6 327.9l6.0 -6.0M477.7 324.9h6.0M480.7 321.9v6.0M477.7 321.9l6.0 6.0M477.7 327.9l6.0 -6.0M477.8 324.9h6.0M480.8 321.9v6.0M477.8 321.9l6.0 6.0M477.8 327.9l6.0 -6.0M477.9 324.9h6.0M480.9 321.9v6.0M477.9 321.9l6.0 6.0M477.9 327.9l6.0 -6.0M478.1 324.9h6.0M481.1 321.9v6.0M478.1 321.9l6.0 6.0M478.1 327.9l6.0 -6.0M478.2 324.9h6.0M481.2 321.9v6.0M478.2 321.9l6.0 6.0M478.2 327.9l6.0 -6.0M478.3 324.9h6.0M481.3 321.9v6.0M478.3 321.9l6.0 6.0M478.3 327.9l6.0 -6.0M478.4 324.9h6.0M481.4 321.9v6.0M478.4 321.9l6.0 6.0M478.4 327.9l6.0 -6.0M478.5 324.9h6.0M481.5 321.9v6.0M478.5 321.9l6.0 6.0M478.5 327.9l6.0 -6.0M478.7 324.9h6.0M481.7 321.9v6.0M478.7 321.9l6.0 6.0M478.7 327.9l6.0 -6.0M478.8 324.9h6.0M481.8 321.9v6.0M478.8 321.9l6.0 6.0M478.8 327.9l6.0 -6.0M478.9 324.9h6.0M481.9 321.9v6.0M478.9 321.9l6.0 6.0M478.9 327.9l6.0 -6.0M479.0 324.9h6.0M482.0 321.9v6.0M479.0 321.9l6.0 6.0M479.0 327.9l6.0 -6.0M479.2 324.9h6.0M482.2 321.9v6.0M479.2 321.9l6.0 6.0M479.2 327.9l6.0 -6.0M479.3 324.9h6.0M482.3 321.9v6.0M479.3 321.9l6.0 6.0M479.3 327.9l6.0 -6.0M479.4 324.9h6.0M482.4 321.9v6.0M479.4 321.9l6.0 6.0M479.4 327.9l6.0 -6.0M479.5 324.9h6.0M482.5 321.9v6.0M479.5 321.9l6.0 6.0M479.5 327.9l6.0 -6.0M479.7 324.9h6.0M482.7 321.9v6.0M479.7 321.9l6.0 6.0M479.7 327.9l6.0 -6.0M479.8 324.9h6.0M482.8 321.9v6.0M479.8 321.9l6.0 6.0M479.8 327.9l6.0 -6.0M479.9 324.9h6.0M482.9 321.9v6.0M479.9 321.9l6.0 6.0M479.9 327.9l6.0 -6.0M480.1 324.9h6.0M483.1 321.9v6.0M480.1 321.9l6.0 6.0M480.1 327.9l6.0 -6.0M480.2 324.9h6.0M483.2 321.9v6.0M480.2 321.9l6.0 6.0M480.2 327.9l6.0 -6.0M480.3 324.9h6.0M483.3 321.9v6.0M480.3 321.9l6.0 6.0M480.3 327.9l6.0 -6.0M480.5 324.9h6.0M483.5 321.9v6.0M480.5 321.9l6.0 6.0M480.5 327.9l6.0 -6.0M480.6 324.9h6.0M483.6 321.9v6.0M480.6 321.9l6.0 6.0M480.6 327.9l6.0 -6.0M480.7 324.9h6.0M483.7 321.9v6.0M480.7 321.9l6.0 6.0M480.7 327.9l6.0 -6.0M480.9 324.9h6.0M483.9 321.9v6.0M480.9 321.9l6.0 6.0M480.9 327.9l6.0 -6.0M481.0 324.9h6.0M484.0 321.9v6.0M481.0 321.9l6.0 6.0M481.0 327.9l6.0 -6.0M481.1 324.9h6.0M484.1 321.9v6.0M481.1 321.9l6.0 6.0M481.1 327.9l6.0 -6.0M481.3 324.9h6.0M484.3 321.9v6.0M481.3 321.9l6.0 6.0M481.3 327.9l6.0 -6.0M481.4 324.9h6.0M484.4 321.9v6.0M481.4 321.9l6.0 6.0M481.4 327.9l6.0 -6.0M481.5 324.9h6.0M484.5 321.9v6.0M481.5 321.9l6.0 6.0M481.5 327.9l6.0 -6.0M481.7 324.9h6.0M484.7 321.9v6.0M481.7 321.9l6.0 6.0M481.7 327.9l6.0 -6.0M481.8 324.9h6.0M484.8 321.9v6.0M481.8 321.9l6.0 6.0M481.8 327.9l6.0 -6.0M482.0 324.9h6.0M485.0 321.9v6.0M482.0 321.9l6.0 6.0M482.0 327.9l6.0 -6.0M482.1 324.9h6.0M485.1 321.9v6.0M482.1 321.9l6.0 6.0M482.1 327.9l6.0 -6.0M482.3 324.9h6.0M485.3 321.9v6.0M482.3 321.9l6.0 6.0M482.3 327.9l6.0 -6.0M482.4 324.9h6.0M485.4 321.9v6.0M482.4 321.9l6.0 6.0M482.4 327.9l6.0 -6.0M482.5 324.8h6.0M485.5 321.8v6.0M482.5 321.8l6.0 6.0M482.5 327.8l6.0 -6.0M482.7 324.8h6.0M485.7 321.8v6.0M482.7 321.8l6.0 6.0M482.7 327.8l6.0 -6.0M482.8 324.8h6.0M485.8 321.8v6.0M482.8 321.8l6.0 6.0M482.8 327.8l6.0 -6.0M483.0 324.8h6.0M486.0 321.8v6.0M483.0 321.8l6.0 6.0M483.0 327.8l6.0 -6.0M483.1 324.8h6.0M486.1 321.8v6.0M483.1 321.8l6.0 6.0M483.1 327.8l6.0 -6.0M483.3 324.8h6.0M486.3 321.8v6.0M483.3 321.8l6.0 6.0M483.3 327.8l6.0 -6.0M483.4 324.8h6.0M486.4 321.8v6.0M483.4 321.8l6.0 6.0M483.4 327.8l6.0 -6.0M483.6 324.8h6.0M486.6 321.8v6.0M483.6 321.8l6.0 6.0M483.6 327.8l6.0 -6.0M483.7 324.8h6.0M486.7 321.8v6.0M483.7 321.8l6.0 6.0M483.7 327.8l6.0 -6.0M483.9 324.8h6.0M486.9 321.8v6.0M483.9 321.8l6.0 6.0M483.9 327.8l6.0 -6.0M484.1 324.8h6.0M487.1 321.8v6.0M484.1 321.8l6.0 6.0M484.1 327.8l6.0 -6.0M484.2 324.8h6.0M487.2 321.8v6.0M484.2 321.8l6.0 6.0M484.2 327.8l6.0 -6.0M484.4 324.8h6.0M487.4 321.8v6.0M484.4 321.8l6.0 6.0M484.4 327.8l6.0 -6.0M484.5 324.8h6.0M487.5 321.8v6.0M484.5 321.8l6.0 6.0M484.5 327.8l6.0 -6.0M484.7 324.8h6.0M487.7 321.8v6.0M484.7 321.8l6.0 6.0M484.7 327.8l6.0 -6.0M484.8 324.8h6.0M487.8 321.8v6.0M484.8 321.8l6.0 6.0M484.8 327.8l6.0 -6.0M485.0 324.8h6.0M488.0 321.8v6.0M485.0 321.8l6.0 6.0M485.0 327.8l6.0 -6.0M485.2 324.8h6.0M488.2 321.8v6.0M485.2 321.8l6.0 6.0M485.2 327.8l6.0 -6.0M485.3 324.8h6.0M488.3 321.8v6.0M485.3 321.8l6.0 6.0M485.3 327.8l6.0 -6.0M485.5 324.8h6.0M488.5 321.8v6.0M485.5 321.8l6.0 6.0M485.5 327.8l6.0 -6.0M485.7 324.8h6.0M488.7 321.8v6.0M485.7 321.8l6.0 6.0M485.7 327.8l6.0 -6.0M485.8 324.7h6.0M488.8 321.7v6.0M485.8 321.7l6.0 6.0M485.8 327.7l6.0 -6.0M486.0 324.7h6.0M489.0 321.7v6.0M486.0 321.7l6.0 6.0M486.0 327.7l6.0 -6.0M486.2 324.7h6.0M489.2 321.7v6.0M486.2 321.7l6.0 6.0M486.2 327.7l6.0 -6.0M486.4 324.7h6.0M489.4 321.7v6.0M486.4 321.7l6.0 6.0M486.4 327.7l6.0 -6.0M486.5 324.7h6.0M489.5 321.7v6.0M486.5 321.7l6.0 6.0M486.5 327.7l6.0 -6.0M486.7 324.7h6.0M489.7 321.7v6.0M486.7 321.7l6.0 6.0M486.7 327.7l6.0 -6.0M486.9 324.7h6.0M489.9 321.7v6.0M486.9 321.7l6.0 6.0M486.9 327.7l6.0 -6.0M487.1 324.7h6.0M490.1 321.7v6.0M487.1 321.7l6.0 6.0M487.1 327.7l6.0 -6.0M487.2 324.7h6.0M490.2 321.7v6.0M487.2 321.7l6.0 6.0M487.2 327.7l6.0 -6.0M487.4 324.7h6.0M490.4 321.7v6.0M487.4 321.7l6.0 6.0M487.4 327.7l6.0 -6.0M487.6 324.7h6.0M490.6 321.7v6.0M487.6 321.7l6.0 6.0M487.6 327.7l6.0 -6.0M487.8 324.7h6.0M490.8 321.7v6.0M487.8 321.7l6.0 6.0M487.8 327.7l6.0 -6.0M488.0 324.7h6.0M491.0 321.7v6.0M488.0 321.7l6.0 6.0M488.0 327.7l6.0 -6.0M488.2 324.6h6.0M491.2 321.6v6.0M488.2 321.6l6.0 6.0M488.2 327.6l6.0 -6.0M488.3 324.6h6.0M491.3 321.6v6.0M488.3 321.6l6.0 6.0M488.3 327.6l6.0 -6.0M488.5 324.6h6.0M491.5 321.6v6.0M488.5 321.6l6.0 6.0M488.5 327.6l6.0 -6.0M488.7 324.6h6.0M491.7 321.6v6.0M488.7 321.6l6.0 6.0M488.7 327.6l6.0 -6.0M488.9 324.6h6.0M491.9 321.6v6.0M488.9 321.6l6.0 6.0M488.9 327.6l6.0 -6.0M489.1 324.6h6.0M492.1 321.6v6.0M489.1 321.6l6.0 6.0M489.1 327.6l6.0 -6.0M489.3 324.6h6.0M492.3 321.6v6.0M489.3 321.6l6.0 6.0M489.3 327.6l6.0 -6.0M489.5 324.6h6.0M492.5 321.6v6.0M489.5 321.6l6.0 6.0M489.5 327.6l6.0 -6.0M489.7 324.6h6.0M492.7 321.6v6.0M489.7 321.6l6.0 6.0M489.7 327.6l6.0 -6.0M489.9 324.5h6.0M492.9 321.5v6.0M489.9 321.5l6.0 6.0M489.9 327.5l6.0 -6.0M490.1 324.5h6.0M493.1 321.5v6.0M490.1 321.5l6.0 6.0M490.1 327.5l6.0 -6.0M490.3 324.5h6.0M493.3 321.5v6.0M490.3 321.5l6.0 6.0M490.3 327.5l6.0 -6.0M490.5 324.5h6.0M493.5 321.5v6.0M490.5 321.5l6.0 6.0M490.5 327.5l6.0 -6.0M490.7 324.5h6.0M493.7 321.5v6.0M490.7 321.5l6.0 6.0M490.7 327.5l6.0 -6.0M490.9 324.5h6.0M493.9 321.5v6.0M490.9 321.5l6.0 6.0M490.9 327.5l6.0 -6.0M491.2 324.5h6.0M494.2 321.5v6.0M491.2 321.5l6.0 6.0M491.2 327.5l6.0 -6.0M491.4 324.5h6.0M494.4 321.5v6.0M491.4 321.5l6.0 6.0M491.4 327.5l6.0 -6.0M491.6 324.4h6.0M494.6 321.4v6.0M491.6 321.4l6.0 6.0M491.6 327.4l6.0 -6.0M491.8 324.4h6.0M494.8 321.4v6.0M491.8 321.4l6.0 6.0M491.8 327.4l6.0 -6.0M492.0 324.4h6.0M495.0 321.4v6.0M492.0 321.4l6.0 6.0M492.0 327.4l6.0 -6.0M492.3 324.4h6.0M495.3 321.4v6.0M492.3 321.4l6.0 6.0M492.3 327.4l6.0 -6.0M492.5 324.4h6.0M495.5 321.4v6.0M492.5 321.4l6.0 6.0M492.5 327.4l6.0 -6.0M492.7 324.3h6.0M495.7 321.3v6.0M492.7 321.3l6.0 6.0M492.7 327.3l6.0 -6.0M493.0 324.3h6.0M496.0 321.3v6.0M493.0 321.3l6.0 6.0M493.0 327.3l6.0 -6.0M493.2 324.3h6.0M496.2 321.3v6.0M493.2 321.3l6.0 6.0M493.2 327.3l6.0 -6.0M493.4 324.3h6.0M496.4 321.3v6.0M493.4 321.3l6.0 6.0M493.4 327.3l6.0 -6.0M493.7 324.3h6.0M496.7 321.3v6.0M493.7 321.3l6.0 6.0M493.7 327.3l6.0 -6.0M493.9 324.2h6.0M496.9 321.2v6.0M493.9 321.2l6.0 6.0M493.9 327.2l6.0 -6.0M494.2 324.2h6.0M497.2 321.2v6.0M494.2 321.2l6.0 6.0M494.2 327.2l6.0 -6.0M494.4 324.2h6.0M497.4 321.2v6.0M494.4 321.2l6.0 6.0M494.4 327.2l6.0 -6.0M494.6 324.2h6.0M497.6 321.2v6.0M494.6 321.2l6.0 6.0M494.6 327.2l6.0 -6.0M494.9 324.2h6.0M497.9 321.2v6.0M494.9 321.2l6.0 6.0M494.9 327.2l6.0 -6.0M495.2 324.1h6.0M498.2 321.1v6.0M495.2 321.1l6.0 6.0M495.2 327.1l6.0 -6.0M495.4 324.1h6.0M498.4 321.1v6.0M495.4 321.1l6.0 6.0M495.4 327.1l6.0 -6.0M495.7 324.1h6.0M498.7 321.1v6.0M495.7 321.1l6.0 6.0M495.7 327.1l6.0 -6.0M495.9 324.0h6.0M498.9 321.0v6.0M495.9 321.0l6.0 6.0M495.9 327.0l6.0 -6.0M496.2 324.0h6.0M499.2 321.0v6.0M496.2 321.0l6.0 6.0M496.2 327.0l6.0 -6.0M496.5 324.0h6.0M499.5 321.0v6.0M496.5 321.0l6.0 6.0M496.5 327.0l6.0 -6.0M496.8 324.0h6.0M499.8 321.0v6.0M496.8 321.0l6.0 6.0M496.8 327.0l6.0 -6.0M497.0 323.9h6.0M500.0 320.9v6.0M497.0 320.9l6.0 6.0M497.0 326.9l6.0 -6.0M497.3 323.9h6.0M500.3 320.9v6.0M497.3 320.9l6.0 6.0M497.3 326.9l6.0 -6.0M497.6 323.9h6.0M500.6 320.9v6.0M497.6 320.9l6.0 6.0M497.6 326.9l6.0 -6.0M497.9 323.8h6.0M500.9 320.8v6.0M497.9 320.8l6.0 6.0M497.9 326.8l6.0 -6.0M498.2 323.8h6.0M501.2 320.8v6.0M498.2 320.8l6.0 6.0M498.2 326.8l6.0 -6.0M498.5 323.7h6.0M501.5 320.7v6.0M498.5 320.7l6.0 6.0M498.5 326.7l6.0 -6.0M498.8 323.7h6.0M501.8 320.7v6.0M498.8 320.7l6.0 6.0M498.8 326.7l6.0 -6.0M499.1 323.7h6.0M502.1 320.7v6.0M499.1 320.7l6.0 6.0M499.1 326.7l6.0 -6.0M499.4 323.6h6.0M502.4 320.6v6.0M499.4 320.6l6.0 6.0M499.4 326.6l6.0 -6.0M499.7 323.6h6.0M502.7 320.6v6.0M499.7 320.6l6.0 6.0M499.7 326.6l6.0 -6.0M500.0 323.5h6.0M503.0 320.5v6.0M500.0 320.5l6.0 6.0M500.0 326.5l6.0 -6.0M500.3 323.5h6.0M503.3 320.5v6.0M500.3 320.5l6.0 6.0M500.3 326.5l6.0 -6.0M500.7 323.4h6.0M503.7 320.4v6.0M500.7 320.4l6.0 6.0M500.7 326.4l6.0 -6.0M501.0 323.4h6.0M504.0 320.4v6.0M501.0 320.4l6.0 6.0M501.0 326.4l6.0 -6.0M501.3 323.3h6.0M504.3 320.3v6.0M501.3 320.3l6.0 6.0M501.3 326.3l6.0 -6.0M501.7 323.3h6.0M504.7 320.3v6.0M501.7 320.3l6.0 6.0M501.7 326.3l6.0 -6.0M502.0 323.2h6.0M505.0 320.2v6.0M502.0 320.2l6.0 6.0M502.0 326.2l6.0 -6.0M502.4 323.1h6.0M505.4 320.1v6.0M502.4 320.1l6.0 6.0M502.4 326.1l6.0 -6.0M502.7 323.1h6.0M505.7 320.1v6.0M502.7 320.1l6.0 6.0M502.7 326.1l6.0 -6.0M503.1 323.0h6.0M506.1 320.0v6.0M503.1 320.0l6.0 6.0M503.1 326.0l6.0 -6.0M503.5 322.9h6.0M506.5 319.9v6.0M503.5 319.9l6.0 6.0M503.5 325.9l6.0 -6.0M503.9 322.9h6.0M506.9 319.9v6.0M503.9 319.9l6.0 6.0M503.9 325.9l6.0 -6.0M504.2 322.8h6.0M507.2 319.8v6.0M504.2 319.8l6.0 6.0M504.2 325.8l6.0 -6.0M504.6 322.7h6.0M507.6 319.7v6.0M504.6 319.7l6.0 6.0M504.6 325.7l6.0 -6.0M505.0 322.6h6.0M508.0 319.6v6.0M505.0 319.6l6.0 6.0M505.0 325.6l6.0 -6.0M505.4 322.5h6.0M508.4 319.5v6.0M505.4 319.5l6.0 6.0M505.4 325.5l6.0 -6.0M505.8 322.4h6.0M508.8 319.4v6.0M505.8 319.4l6.0 6.0M505.8 325.4l6.0 -6.0M506.3 322.4h6.0M509.3 319.4v6.0M506.3 319.4l6.0 6.0M506.3 325.4l6.0 -6.0M506.7 322.3h6.0M509.7 319.3v6.0M506.7 319.3l6.0 6.0M506.7 325.3l6.0 -6.0M507.1 322.2h6.0M510.1 319.2v6.0M507.1 319.2l6.0 6.0M507.1 325.2l6.0 -6.0M507.6 322.0h6.0M510.6 319.0v6.0M507.6 319.0l6.0 6.0M507.6 325.0l6.0 -6.0M508.0 321.9h6.0M511.0 318.9v6.0M508.0 318.9l6.0 6.0M508.0 324.9l6.0 -6.0M508.5 321.8h6.0M511.5 318.8v6.0M508.5 318.8l6.0 6.0M508.5 324.8l6.0 -6.0M509.0 321.7h6.0M512.0 318.7v6.0M509.0 318.7l6.0 6.0M509.0 324.7l6.0 -6.0M509.5 321.6h6.0M512.5 318.6v6.0M509.5 318.6l6.0 6.0M509.5 324.6l6.0 -6.0M510.0 321.4h6.0M513.0 318.4v6.0M510.0 318.4l6.0 6.0M510.0 324.4l6.0 -6.0M510.5 321.3h6.0M513.5 318.3v6.0M510.5 318.3l6.0 6.0M510.5 324.3l6.0 -6.0M511.0 321.1h6.0M514.0 318.1v6.0M511.0 318.1l6.0 6.0M511.0 324.1l6.0 -6.0M511.5 321.0h6.0M514.5 318.0v6.0M511.5 318.0l6.0 6.0M511.5 324.0l6.0 -6.0M512.0 320.8h6.0M515.0 317.8v6.0M512.0 317.8l6.0 6.0M512.0 323.8l6.0 -6.0M512.6 320.6h6.0M515.6 317.6v6.0M512.6 317.6l6.0 6.0M512.6 323.6l6.0 -6.0M513.2 320.4h6.0M516.2 317.4v6.0M513.2 317.4l6.0 6.0M513.2 323.4l6.0 -6.0M513.8 320.2h6.0M516.8 317.2v6.0M513.8 317.2l6.0 6.0M513.8 323.2l6.0 -6.0M514.4 320.0h6.0M517.4 317.0v6.0M514.4 317.0l6.0 6.0M514.4 323.0l6.0 -6.0M515.0 319.8h6.0M518.0 316.8v6.0M515.0 316.8l6.0 6.0M515.0 322.8l6.0 -6.0M515.6 319.5h6.0M518.6 316.5v6.0M515.6 316.5l6.0 6.0M515.6 322.5l6.0 -6.0M516.3 319.3h6.0M519.3 316.3v6.0M516.3 316.3l6.0 6.0M516.3 322.3l6.0 -6.0M517.0 319.0h6.0M520.0 316.0v6.0M517.0 316.0l6.0 6.0M517.0 322.0l6.0 -6.0M517.6 318.7h6.0M520.6 315.7v6.0M517.6 315.7l6.0 6.0M517.6 321.7l6.0 -6.0M518.4 318.4h6.0M521.4 315.4v6.0M518.4 315.4l6.0 6.0M518.4 321.4l6.0 -6.0M519.1 318.1h6.0M522.1 315.1v6.0M519.1 315.1l6.0 6.0M519.1 321.1l6.0 -6.0M519.9 317.8h6.0M522.9 314.8v6.0M519.9 314.8l6.0 6.0M519.9 320.8l6.0 -6.0M520.7 317.4h6.0M523.7 314.4v6.0M520.7 314.4l6.0 6.0M520.7 320.4l6.0 -6.0M521.5 317.0h6.0M524.5 314.0v6.0M521.5 314.0l6.0 6.0M521.5 320.0l6.0 -6.0M522.4 316.6h6.0M525.4 313.6v6.0M522.4 313.6l6.0 6.0M522.4 319.6l6.0 -6.0M523.2 316.1h6.0M526.2 313.1v6.0M523.2 313.1l6.0 6.0M523.2 319.1l6.0 -6.0M524.2 315.6h6.0M527.2 312.6v6.0M524.2 312.6l6.0 6.0M524.2 318.6l6.0 -6.0M525.1 315.0h6.0M528.1 312.0v6.0M525.1 312.0l6.0 6.0M525.1 318.0l6.0 -6.0M526.2 314.5h6.0M529.2 311.5v6.0M526.2 311.5l6.0 6.0M526.2 317.5l6.0 -6.0M527.2 313.8h6.0M530.2 310.8v6.0M527.2 310.8l6.0 6.0M527.2 316.8l6.0 -6.0M528.3 313.1h6.0M531.3 310.1v6.0M528.3 310.1l6.0 6.0M528.3 316.1l6.0 -6.0M529.5 312.3h6.0M532.5 309.3v6.0M529.5 309.3l6.0 6.0M529.5 315.3l6.0 -6.0M530.8 311.5h6.0M533.8 308.5v6.0M530.8 308.5l6.0 6.0M530.8 314.5l6.0 -6.0M532.1 310.5h6.0M535.1 307.5v6.0M532.1 307.5l6.0 6.0M532.1 313.5l6.0 -6.0M533.5 309.5h6.0M536.5 306.5v6.0M533.5 306.5l6.0 6.0M533.5 312.5l6.0 -6.0M535.0 308.3h6.0M538.0 305.3v6.0M535.0 305.3l6.0 6.0M535.0 311.3l6.0 -6.0M536.6 306.9h6.0M539.6 303.9v6.0M536.6 303.9l6.0 6.0M536.6 309.9l6.0 -6.0M538.3 305.4h6.0M541.3 302.4v6.0M538.3 302.4l6.0 6.0M538.3 308.4l6.0 -6.0M540.1 303.7h6.0M543.1 300.7v6.0M540.1 300.7l6.0 6.0M540.1 306.7l6.0 -6.0M542.2 301.7h6.0M545.2 298.7v6.0M542.2 298.7l6.0 6.0M542.2 304.7l6.0 -6.0M544.4 299.3h6.0M547.4 296.3v6.0M544.4 296.3l6.0 6.0M544.4 302.3l6.0 -6.0M546.9 296.6h6.0M549.9 293.6v6.0M546.9 293.6l6.0 6.0M546.9 299.6l6.0 -6.0M549.7 293.5h6.0M552.7 290.5v6.0M549.7 290.5l6.0 6.0M549.7 296.5l6.0 -6.0M552.9 289.7h6.0M555.9 286.7v6.0M552.9 286.7l6.0 6.0M552.9 292.7l6.0 -6.0M556.7 285.2h6.0M559.7 282.2v6.0M556.7 282.2l6.0 6.0M556.7 288.2l6.0 -6.0M561.2 280.3h6.0M564.2 277.3v6.0M561.2 277.3l6.0 6.0M561.2 283.3l6.0 -6.0" fill="none" stroke="#0000ff" stroke-width="0.8"/>
<path d="M488.1 330.4h5.6v5.6h-5.6zM490.71 333.2h0.3M488.2 330.4h5.6v5.6h-5.6zM490.83 333.2h0.3M488.3 330.4h5.6v5.6h-5.6zM490.95 333.2h0.3M488.4 330.4h5.6v5.6h-5.6zM491.07 333.2h0.3M488.5 330.4h5.6v5.6h-5.6zM491.20 333.2h0.3M488.7 330.4h5.6v5.6h-5.6zM491.32 333.2h0.3M488.8 330.4h5.6v5.6h-5.6zM491.44 333.2h0.3M488.9 330.3h5.6v5.6h-5.6zM491.56 333.1h0.3M489.0 330.3h5.6v5.6h-5.6zM491.69 333.1h0.3M489.2 330.3h5.6v5.6h-5.6zM491.81 333.1h0.3M489.3 330.3h5.6v5.6h-5.6zM491.94 333.1h0.3M489.4 330.3h5.6v5.6h-5.6zM492.07 333.1h0.3M489.5 330.3h5.6v5.6h-5.6zM492.19 333.1h0.3M489.7 330.2h5.6v5.6h-5.6zM492.32 333.0h0.3M489.8 330.2h5.6v5.6h-5.6zM492.45 333.0h0.3M489.9 330.2h5.6v5.6h-5.6zM492.58 333.0h0.3M490.1 330.2h5.6v5.6h-5.6zM492.71 333.0h0.3M490.2 330.2h5.6v5.6h-5.6zM492.84 333.0h0.3M490.3 330.2h5.6v5.6h-5.6zM492.97 333.0h0.3M490.5 330.1h5.6v5.6h-5.6zM493.11 332.9h0.3M490.6 330.1h5.6v5.6h-5.6zM493.24 332.9h0.3M490.7 330.1h5.6v5.6h-5.6zM493.37 332.9h0.3M490.9 330.1h5.6v5.6h-5.6zM493.51 332.9h0.3M491.0 330.1h5.6v5.6h-5.6zM493.64 332.9h0.3M491.1 330.1h5.6v5.6h-5.6zM493.78 332.9h0.3M491.3 330.0h5.6v5.6h-5.6zM493.92 332.8h0.3M491.4 330.0h5.6v5.6h-5.6zM494.06 332.8h0.3M491.5 330.0h5.6v5.6h-5.6zM494.20 332.8h0.3M491.7 330.0h5.6v5.6h-5.6zM494.34 332.8h0.3M491.8 329.9h5.6v5.6h-5.6zM494.48 332.7h0.3M492.0 329.9h5.6v5.6h-5.6zM494.62 332.7h0.3M492.1 329.9h5.6v5.6h-5.6zM494.76 332.7h0.3M492.3 329.9h5.6v5.6h-5.6zM494.91 332.7h0.3M492.4 329.9h5.6v5.6h-5.6zM495.05 332.7h0.3M492.5 329.8h5.6v5.6h-5.6zM495.20 332.6h0.3M492.7 329.8h5.6v5.6h-5.6zM495.34 332.6h0.3M492.8 329.8h5.6v5.6h-5.6zM495.49 332.6h0.3M493.0 329.8h5.6v5.6h-5.6zM495.64 332.6h0.3M493.1 329.7h5.6v5.6h-5.6zM495.79 332.5h0.3M493.3 329.7h5.6v5.6h-5.6zM495.94 332.5h0.3M493.4 329.7h5.6v5.6h-5.6zM496.09 332.5h0.3M493.6 329.7h5.6v5.6h-5.6zM496.24 332.5h0.3M493.7 329.6h5.6v5.6h-5.6zM496.40 332.4h0.3M493.9 329.6h5.6v5.6h-5.6zM496.55 332.4h0.3M494.1 329.6h5.6v5.6h-5.6zM496.71 332.4h0.3M494.2 329.6h5.6v5.6h-5.6zM496.86 332.4h0.3M494.4 329.5h5.6v5.6h-5.6zM497.02 332.3h0.3M494.5 329.5h5.6v5.6h-5.6zM497.18 332.3h0.3M494.7 329.5h5.6v5.6h-5.6zM497.34 332.3h0.3M494.9 329.4h5.6v5.6h-5.6zM497.50 332.2h0.3M495.0 329.4h5.6v5.6h-5.6zM497.67 332.2h0.3M495.2 329.4h5.6v5.6h-5.6zM497.83 332.2h0.3M495.3 329.3h5.6v5.6h-5.6zM497.99 332.1h0.3M495.5 329.3h5.6v5.6h-5.6zM498.16 332.1h0.3M495.7 329.3h5.6v5.6h-5.6zM498.33 332.1h0.3M495.8 329.2h5.6v5.6h-5.6zM498.50 332.0h0.3M496.0 329.2h5.6v5.6h-5.6zM498.67 332.0h0.3M496.2 329.2h5.6v5.6h-5.6zM498.84 332.0h0.3M496.4 329.1h5.6v5.6h-5.6zM499.01 331.9h0.3M496.5 329.1h5.6v5.6h-5.6zM499.19 331.9h0.3M496.7 329.1h5.6v5.6h-5.6zM499.36 331.9h0.3M496.9 329.0h5.6v5.6h-5.6zM499.54 331.8h0.3M497.1 329.0h5.6v5.6h-5.6zM499.72 331.8h0.3M497.2 329.0h5.6v5.6h-5.6zM499.90 331.8h0.3M497.4 328.9h5.6v5.6h-5.6zM500.08 331.7h0.3M497.6 328.9h5.6v5.6h-5.6zM500.26 331.7h0.3M497.8 328.8h5.6v5.6h-5.6zM500.44 331.6h0.3M498.0 328.8h5.6v5.6h-5.6zM500.63 331.6h0.3M498.2 328.8h5.6v5.6h-5.6zM500.82 331.6h0.3M498.4 328.7h5.6v5.6h-5.6zM501.01 331.5h0.3M498.5 328.7h5.6v5.6h-5.6zM501.20 331.5h0.3M498.7 328.6h5.6v5.6h-5.6zM501.39 331.4h0.3M498.9 328.6h5.6v5.6h-5.6zM501.58 331.4h0.3M499.1 328.5h5.6v5.6h-5.6zM501.78 331.3h0.3M499.3 328.5h5.6v5.6h-5.6zM501.98 331.3h0.3M499.5 328.5h5.6v5.6h-5.6zM502.18 331.3h0.3M499.7 328.4h5.6v5.6h-5.6zM502.38 331.2h0.3M499.9 328.4h5.6v5.6h-5.6zM502.58 331.2h0.3M500.1 328.3h5.6v5.6h-5.6zM502.78 331.1h0.3M500.3 328.3h5.6v5.6h-5.6zM502.99 331.1h0.3M500.5 328.2h5.6v5.6h-5.6zM503.20 331.0h0.3M500.8 328.2h5.6v5.6h-5.6zM503.41 331.0h0.3M501.0 328.1h5.6v5.6h-5.6zM503.62 330.9h0.3M501.2 328.0h5.6v5.6h-5.6zM503.84 330.8h0.3M501.4 328.0h5.6v5.6h-5.6zM504.05 330.8h0.3M501.6 327.9h5.6v5.6h-5.6zM504.27 330.7h0.3M501.8 327.9h5.6v5.6h-5.6zM504.49 330.7h0.3M502.1 327.8h5.6v5.6h-5.6zM504.71 330.6h0.3M502.3 327.8h5.6v5.6h-5.6zM504.94 330.6h0.3M502.5 327.7h5.6v5.6h-5.6zM505.17 330.5h0.3M502.7 327.6h5.6v5.6h-5.6zM505.40 330.4h0.3M503.0 327.6h5.6v5.6h-5.6zM505.63 330.4h0.3M503.2 327.5h5.6v5.6h-5.6zM505.86 330.3h0.3M503.5 327.4h5.6v5.6h-5.6zM506.10 330.2h0.3M503.7 327.4h5.6v5.6h-5.6zM506.34 330.2h0.3M503.9 327.3h5.6v5.6h-5.6zM506.58 330.1h0.3M504.2 327.2h5.6v5.6h-5.6zM506.83 330.0h0.3M504.4 327.2h5.6v5.6h-5.6zM507.08 330.0h0.3M504.7 327.1h5.6v5.6h-5.6zM507.33 329.9h0.3M504.9 327.0h5.6v5.6h-5.6zM507.58 329.8h0.3M505.2 326.9h5.6v5.6h-5.6zM507.84 329.7h0.3M505.4 326.9h5.6v5.6h-5.6zM508.10 329.7h0.3M505.7 326.8h5.6v5.6h-5.6zM508.36 329.6h0.3M506.0 326.7h5.6v5.6h-5.6zM508.63 329.5h0.3M506.2 326.6h5.6v5.6h-5.6zM508.89 329.4h0.3M506.5 326.5h5.6v5.6h-5.6zM509.17 329.3h0.3M506.8 326.5h5.6v5.6h-5.6zM509.44 329.3h0.3M507.1 326.4h5.6v5.6h-5.6zM509.72 329.2h0.3M507.4 326.3h5.6v5.6h-5.6zM510.00 329.1h0.3M507.6 326.2h5.6v5.6h-5.6zM510.29 329.0h0.3M507.9 326.1h5.6v5.6h-5.6zM510.58 328.9h0.3M508.2 326.0h5.6v5.6h-5.6zM510.87 328.8h0.3M508.5 325.9h5.6v5.6h-5.6zM511.17 328.7h0.3M508.8 325.8h5.6v5.6h-5.6zM511.47 328.6h0.3M509.1 325.7h5.6v5.6h-5.6zM511.78 328.5h0.3M509.4 325.6h5.6v5.6h-5.6zM512.09 328.4h0.3M509.8 325.5h5.6v5.6h-5.6zM512.40 328.3h0.3M510.1 325.4h5.6v5.6h-5.6zM512.72 328.2h0.3M510.4 325.3h5.6v5.6h-5.6zM513.05 328.1h0.3M510.7 325.1h5.6v5.6h-5.6zM513.38 327.9h0.3M511.1 325.0h5.6v5.6h-5.6zM513.71 327.8h0.3M511.4 324.9h5.6v5.6h-5.6zM514.05 327.7h0.3M511.7 324.8h5.6v5.6h-5.6zM514.39 327.6h0.3M512.1 324.7h5.6v5.6h-5.6zM514.74 327.5h0.3M512.4 324.5h5.6v5.6h-5.6zM515.09 327.3h0.3M512.8 324.4h5.6v5.6h-5.6zM515.46 327.2h0.3M513.2 324.2h5.6v5.6h-5.6zM515.82 327.0h0.3M513.5 324.1h5.6v5.6h-5.6zM516.19 326.9h0.3M513.9 324.0h5.6v5.6h-5.6zM516.57 326.8h0.3M514.3 323.8h5.6v5.6h-5.6zM516.96 326.6h0.3M514.7 323.7h5.6v5.6h-5.6zM517.35 326.5h0.3M515.1 323.5h5.6v5.6h-5.6zM517.75 326.3h0.3M515.5 323.3h5.6v5.6h-5.6zM518.16 326.1h0.3M515.9 323.2h5.6v5.6h-5.6zM518.57 326.0h0.3M516.3 323.0h5.6v5.6h-5.6zM518.99 325.8h0.3M516.8 322.8h5.6v5.6h-5.6zM519.42 325.6h0.3M517.2 322.6h5.6v5.6h-5.6zM519.86 325.4h0.3M517.7 322.5h5.6v5.6h-5.6zM520.31 325.3h0.3M518.1 322.3h5.6v5.6h-5.6zM520.77 325.1h0.3M518.6 322.1h5.6v5.6h-5.6zM521.23 324.9h0.3M519.1 321.8h5.6v5.6h-5.6zM521.71 324.6h0.3M519.5 321.6h5.6v5.6h-5.6zM522.20 324.4h0.3M520.0 321.4h5.6v5.6h-5.6zM522.69 324.2h0.3M520.6 321.2h5.6v5.6h-5.6zM523.20 324.0h0.3M521.1 321.0h5.6v5.6h-5.6zM523.72 323.8h0.3M521.6 320.7h5.6v5.6h-5.6zM524.26 323.5h0.3M522.2 320.5h5.6v5.6h-5.6zM524.80 323.3h0.3M522.7 320.2h5.6v5.6h-5.6zM525.36 323.0h0.3M523.3 319.9h5.6v5.6h-5.6zM525.94 322.7h0.3M523.9 319.6h5.6v5.6h-5.6zM526.53 322.4h0.3M524.5 319.3h5.6v5.6h-5.6zM527.13 322.1h0.3M525.1 319.0h5.6v5.6h-5.6zM527.76 321.8h0.3M525.7 318.7h5.6v5.6h-5.6zM528.40 321.5h0.3M526.4 318.3h5.6v5.6h-5.6zM529.06 321.1h0.3M527.1 318.0h5.6v5.6h-5.6zM529.74 320.8h0.3M527.8 317.6h5.6v5.6h-5.6zM530.44 320.4h0.3M528.5 317.2h5.6v5.6h-5.6zM531.17 320.0h0.3M529.3 316.7h5.6v5.6h-5.6zM531.91 319.5h0.3M530.0 316.2h5.6v5.6h-5.6zM532.69 319.0h0.3M530.8 315.7h5.6v5.6h-5.6zM533.49 318.5h0.3M531.7 315.2h5.6v5.6h-5.6zM534.33 318.0h0.3M532.5 314.6h5.6v5.6h-5.6zM535.19 317.4h0.3M533.4 314.0h5.6v5.6h-5.6zM536.09 316.8h0.3M534.4 313.3h5.6v5.6h-5.6zM537.03 316.1h0.3M535.4 312.6h5.6v5.6h-5.6zM538.01 315.4h0.3M536.4 311.7h5.6v5.6h-5.6zM539.04 314.5h0.3M537.5 310.8h5.6v5.6h-5.6zM540.11 313.6h0.3M538.6 309.7h5.6v5.6h-5.6zM541.24 312.5h0.3M539.8 308.5h5.6v5.6h-5.6zM542.43 311.3h0.3M541.0 307.0h5.6v5.6h-5.6zM543.69 309.8h0.3M542.4 305.3h5.6v5.6h-5.6zM545.02 308.1h0.3M543.8 303.4h5.6v5.6h-5.6zM546.44 306.2h0.3M545.3 301.1h5.6v5.6h-5.6zM547.96 303.9h0.3M546.9 298.6h5.6v5.6h-5.6zM549.58 301.4h0.3M548.7 295.7h5.6v5.6h-5.6zM551.34 298.5h0.3M550.6 292.4h5.6v5.6h-5.6zM553.24 295.2h0.3M552.7 288.9h5.6v5.6h-5.6zM555.32 291.7h0.3M555.0 285.2h5.6v5.6h-5.6zM557.62 288.0h0.3M557.5 281.5h5.6v5.6h-5.6zM560.19 284.3h0.3M560.4 278.2h5.6v5.6h-5.6zM563.09 281.0h0.3M563.8 276.0h5.6v5.6h-5.6zM566.42 278.8h0.3M567.7 276.2h5.6v5.6h-5.6zM570.34 279.0h0.3" fill="none" stroke="#ff00ff" stroke-width="0.85"/>
<path d="M499.1 335.3h6.0v6.0h-6.0zM499.2 335.2h6.0v6.0h-6.0zM499.4 335.2h6.0v6.0h-6.0zM499.5 335.2h6.0v6.0h-6.0zM499.7 335.1h6.0v6.0h-6.0zM499.8 335.1h6.0v6.0h-6.0zM499.9 335.1h6.0v6.0h-6.0zM500.1 335.0h6.0v6.0h-6.0zM500.2 335.0h6.0v6.0h-6.0zM500.4 334.9h6.0v6.0h-6.0zM500.5 334.9h6.0v6.0h-6.0zM500.7 334.9h6.0v6.0h-6.0zM500.8 334.8h6.0v6.0h-6.0zM500.9 334.8h6.0v6.0h-6.0zM501.1 334.7h6.0v6.0h-6.0zM501.2 334.7h6.0v6.0h-6.0zM501.4 334.7h6.0v6.0h-6.0zM501.5 334.6h6.0v6.0h-6.0zM501.7 334.6h6.0v6.0h-6.0zM501.9 334.5h6.0v6.0h-6.0zM502.0 334.5h6.0v6.0h-6.0zM502.2 334.4h6.0v6.0h-6.0zM502.3 334.4h6.0v6.0h-6.0zM502.5 334.3h6.0v6.0h-6.0zM502.6 334.3h6.0v6.0h-6.0zM502.8 334.2h6.0v6.0h-6.0zM503.0 334.2h6.0v6.0h-6.0zM503.1 334.1h6.0v6.0h-6.0zM503.3 334.1h6.0v6.0h-6.0zM503.5 334.0h6.0v6.0h-6.0zM503.6 334.0h6.0v6.0h-6.0zM503.8 333.9h6.0v6.0h-6.0zM504.0 333.9h6.0v6.0h-6.0zM504.1 333.8h6.0v6.0h-6.0zM504.3 333.8h6.0v6.0h-6.0zM504.5 333.7h6.0v6.0h-6.0zM504.7 333.6h6.0v6.0h-6.0zM504.8 333.6h6.0v6.0h-6.0zM505.0 333.5h6.0v6.0h-6.0zM505.2 333.5h6.0v6.0h-6.0zM505.4 333.4h6.0v6.0h-6.0zM505.5 333.3h6.0v6.0h-6.0zM505.7 333.3h6.0v6.0h-6.0zM505.9 333.2h6.0v6.0h-6.0zM506.1 333.1h6.0v6.0h-6.0zM506.3 333.1h6.0v6.0h-6.0zM506.5 333.0h6.0v6.0h-6.0zM506.7 332.9h6.0v6.0h-6.0zM506.9 332.9h6.0v6.0h-6.0zM507.1 332.8h6.0v6.0h-6.0zM507.3 332.7h6.0v6.0h-6.0zM507.4 332.7h6.0v6.0h-6.0zM507.6 332.6h6.0v6.0h-6.0zM507.9 332.5h6.0v6.0h-6.0zM508.1 332.4h6.0v6.0h-6.0zM508.3 332.3h6.0v6.0h-6.0zM508.5 332.3h6.0v6.0h-6.0zM508.7 332.2h6.0v6.0h-6.0zM508.9 332.1h6.0v6.0h-6.0zM509.1 332.0h6.0v6.0h-6.0zM509.3 331.9h6.0v6.0h-6.0zM509.5 331.9h6.0v6.0h-6.0zM509.8 331.8h6.0v6.0h-6.0zM510.0 331.7h6.0v6.0h-6.0zM510.2 331.6h6.0v6.0h-6.0zM510.4 331.5h6.0v6.0h-6.0zM510.7 331.4h6.0v6.0h-6.0zM510.9 331.3h6.0v6.0h-6.0zM511.1 331.2h6.0v6.0h-6.0zM511.3 331.1h6.0v6.0h-6.0zM511.6 331.0h6.0v6.0h-6.0zM511.8 330.9h6.0v6.0h-6.0zM512.1 330.8h6.0v6.0h-6.0zM512.3 330.7h6.0v6.0h-6.0zM512.6 330.6h6.0v6.0h-6.0zM512.8 330.5h6.0v6.0h-6.0zM513.1 330.4h6.0v6.0h-6.0zM513.3 330.3h6.0v6.0h-6.0zM513.6 330.2h6.0v6.0h-6.0zM513.9 330.1h6.0v6.0h-6.0zM514.1 329.9h6.0v6.0h-6.0zM514.4 329.8h6.0v6.0h-6.0zM514.7 329.7h6.0v6.0h-6.0zM514.9 329.6h6.0v6.0h-6.0zM515.2 329.5h6.0v6.0h-6.0zM515.5 329.3h6.0v6.0h-6.0zM515.8 329.2h6.0v6.0h-6.0zM516.1 329.1h6.0v6.0h-6.0zM516.4 328.9h6.0v6.0h-6.0zM516.7 328.8h6.0v6.0h-6.0zM517.0 328.7h6.0v6.0h-6.0zM517.3 328.5h6.0v6.0h-6.0zM517.6 328.4h6.0v6.0h-6.0zM517.9 328.2h6.0v6.0h-6.0zM518.2 328.1h6.0v6.0h-6.0zM518.6 327.9h6.0v6.0h-6.0zM518.9 327.8h6.0v6.0h-6.0zM519.2 327.6h6.0v6.0h-6.0zM519.6 327.5h6.0v6.0h-6.0zM519.9 327.3h6.0v6.0h-6.0zM520.3 327.1h6.0v6.0h-6.0zM520.6 327.0h6.0v6.0h-6.0zM521.0 326.8h6.0v6.0h-6.0zM521.3 326.6h6.0v6.0h-6.0zM521.7 326.4h6.0v6.0h-6.0zM522.1 326.2h6.0v6.0h-6.0zM522.5 326.0h6.0v6.0h-6.0zM522.9 325.8h6.0v6.0h-6.0zM523.3 325.6h6.0v6.0h-6.0zM523.7 325.4h6.0v6.0h-6.0zM524.1 325.2h6.0v6.0h-6.0zM524.5 325.0h6.0v6.0h-6.0zM525.0 324.8h6.0v6.0h-6.0zM525.4 324.5h6.0v6.0h-6.0zM525.9 324.3h6.0v6.0h-6.0zM526.3 324.0h6.0v6.0h-6.0zM526.8 323.8h6.0v6.0h-6.0zM527.3 323.5h6.0v6.0h-6.0zM527.8 323.2h6.0v6.0h-6.0zM528.3 322.9h6.0v6.0h-6.0zM528.8 322.6h6.0v6.0h-6.0zM529.3 322.2h6.0v6.0h-6.0zM529.8 321.9h6.0v6.0h-6.0zM530.4 321.5h6.0v6.0h-6.0zM531.0 321.1h6.0v6.0h-6.0zM531.5 320.7h6.0v6.0h-6.0zM532.1 320.2h6.0v6.0h-6.0zM532.7 319.8h6.0v6.0h-6.0zM533.4 319.2h6.0v6.0h-6.0zM534.0 318.7h6.0v6.0h-6.0zM534.7 318.1h6.0v6.0h-6.0zM535.4 317.5h6.0v6.0h-6.0zM536.1 316.8h6.0v6.0h-6.0zM536.8 316.1h6.0v6.0h-6.0zM537.6 315.3h6.0v6.0h-6.0zM538.4 314.4h6.0v6.0h-6.0zM539.2 313.4h6.0v6.0h-6.0zM540.0 312.4h6.0v6.0h-6.0zM540.9 311.2h6.0v6.0h-6.0zM541.8 309.9h6.0v6.0h-6.0zM542.7 308.5h6.0v6.0h-6.0zM543.7 306.9h6.0v6.0h-6.0zM544.8 305.2h6.0v6.0h-6.0zM545.9 303.2h6.0v6.0h-6.0zM547.0 301.0h6.0v6.0h-6.0zM548.2 298.7h6.0v6.0h-6.0zM549.5 296.1h6.0v6.0h-6.0zM550.9 293.4h6.0v6.0h-6.0zM552.3 290.6h6.0v6.0h-6.0zM553.9 287.6h6.0v6.0h-6.0zM555.5 284.5h6.0v6.0h-6.0zM557.3 281.5h6.0v6.0h-6.0zM559.3 278.7h6.0v6.0h-6.0zM561.4 276.3h6.0v6.0h-6.0zM563.8 274.7h6.0v6.0h-6.0zM566.5 274.4h6.0v6.0h-6.0zM569.5 276.2h6.0v6.0h-6.0zM573.0 281.2h6.0v6.0h-6.0z" fill="#00ffff" stroke="none"/>
<path d="M509.2 340.8a2.8 2.8 0 1 0 5.6 0a2.8 2.8 0 1 0 -5.6 0M511.81 340.8h0.3M509.3 340.8a2.8 2.8 0 1 0 5.6 0a2.8 2.8 0 1 0 -5.6 0M511.96 340.8h0.3M509.5 340.7a2.8 2.8 0 1 0 5.6 0a2.8 2.8 0 1 0 -5.6 0M512.12 340.7h0.3M509.6 340.7a2.8 2.8 0 1 0 5.6 0a2.8 2.8 0 1 0 -5.6 0M512.28 340.7h0.3M509.8 340.6a2.8 2.8 0 1 0 5.6 0a2.8 2.8 0 1 0 -5.6 0M512.44 340.6h0.3M509.9 340.5a2.8 2.8 0 1 0 5.6 0a2.8 2.8 0 1 0 -5.6 0M512.60 340.5h0.3M510.1 340.5a2.8 2.8 0 1 0 5.6 0a2.8 2.8 0 1 0 -5.6 0M512.76 340.5h0.3M510.3 340.4a2.8 2.8 0 1 0 5.6 0a2.8 2.8 0 1 0 -5.6 0M512.92 340.4h0.3M510.4 340.4a2.8 2.8 0 1 0 5.6 0a2.8 2.8 0 1 0 -5.6 0M513.09 340.4h0.3M510.6 340.3a2.8 2.8 0 1 0 5.6 0a2.8 2.8 0 1 0 -5.6 0M513.26 340.3h0.3M510.8 340.2a2.8 2.8 0 1 0 5.6 0a2.8 2.8 0 1 0 -5.6 0M513.42 340.2h0.3M510.9 340.2a2.8 2.8 0 1 0 5.6 0a2.8 2.8 0 1 0 -5.6 0M513.59 340.2h0.3M511.1 340.1a2.8 2.8 0 1 0 5.6 0a2.8 2.8 0 1 0 -5.6 0M513.76 340.1h0.3M511.3 340.0a2.8 2.8 0 1 0 5.6 0a2.8 2.8 0 1 0 -5.6 0M513.93 340.0h0.3M511.5 340.0a2.8 2.8 0 1 0 5.6 0a2.8 2.8 0 1 0 -5.6 0M514.10 340.0h0.3M511.6 339.9a2.8 2.8 0 1 0 5.6 0a2.8 2.8 0 1 0 -5.6 0M514.28 339.9h0.3M511.8 339.8a2.8 2.8 0 1 0 5.6 0a2.8 2.8 0 1 0 -5.6 0M514.45 339.8h0.3M512.0 339.7a2.8 2.8 0 1 0 5.6 0a2.8 2.8 0 1 0 -5.6 0M514.63 339.7h0.3M512.2 339.7a2.8 2.8 0 1 0 5.6 0a2.8 2.8 0 1 0 -5.6 0M514.81 339.7h0.3M512.3 339.6a2.8 2.8 0 1 0 5.6 0a2.8 2.8 0 1 0 -5.6 0M514.99 339.6h0.3M512.5 339.5a2.8 2.8 0 1 0 5.6 0a2.8 2.8 0 1 0 -5.6 0M515.17 339.5h0.3M512.7 339.4a2.8 2.8 0 1 0 5.6 0a2.8 2.8 0 1 0 -5.6 0M515.35 339.4h0.3M512.9 339.4a2.8 2.8 0 1 0 5.6 0a2.8 2.8 0 1 0 -5.6 0M515.53 339.4h0.3M513.1 339.3a2.8 2.8 0 1 0 5.6 0a2.8 2.8 0 1 0 -5.6 0M515.72 339.3h0.3M513.3 339.2a2.8 2.8 0 1 0 5.6 0a2.8 2.8 0 1 0 -5.6 0M515.90 339.2h0.3M513.4 339.1a2.8 2.8 0 1 0 5.6 0a2.8 2.8 0 1 0 -5.6 0M516.09 339.1h0.3M513.6 339.0a2.8 2.8 0 1 0 5.6 0a2.8 2.8 0 1 0 -5.6 0M516.28 339.0h0.3M513.8 339.0a2.8 2.8 0 1 0 5.6 0a2.8 2.8 0 1 0 -5.6 0M516.47 339.0h0.3M514.0 338.9a2.8 2.8 0 1 0 5.6 0a2.8 2.8 0 1 0 -5.6 0M516.67 338.9h0.3M514.2 338.8a2.8 2.8 0 1 0 5.6 0a2.8 2.8 0 1 0 -5.6 0M516.86 338.8h0.3M514.4 338.7a2.8 2.8 0 1 0 5.6 0a2.8 2.8 0 1 0 -5.6 0M517.06 338.7h0.3M514.6 338.6a2.8 2.8 0 1 0 5.6 0a2.8 2.8 0 1 0 -5.6 0M517.26 338.6h0.3M514.8 338.5a2.8 2.8 0 1 0 5.6 0a2.8 2.8 0 1 0 -5.6 0M517.46 338.5h0.3M515.0 338.4a2.8 2.8 0 1 0 5.6 0a2.8 2.8 0 1 0 -5.6 0M517.66 338.4h0.3M515.2 338.3a2.8 2.8 0 1 0 5.6 0a2.8 2.8 0 1 0 -5.6 0M517.86 338.3h0.3M515.4 338.2a2.8 2.8 0 1 0 5.6 0a2.8 2.8 0 1 0 -5.6 0M518.07 338.2h0.3M515.6 338.1a2.8 2.8 0 1 0 5.6 0a2.8 2.8 0 1 0 -5.6 0M518.28 338.1h0.3M515.8 338.0a2.8 2.8 0 1 0 5.6 0a2.8 2.8 0 1 0 -5.6 0M518.49 338.0h0.3M516.0 337.9a2.8 2.8 0 1 0 5.6 0a2.8 2.8 0 1 0 -5.6 0M518.70 337.9h0.3M516.3 337.8a2.8 2.8 0 1 0 5.6 0a2.8 2.8 0 1 0 -5.6 0M518.91 337.8h0.3M516.5 337.7a2.8 2.8 0 1 0 5.6 0a2.8 2.8 0 1 0 -5.6 0M519.13 337.7h0.3M516.7 337.6a2.8 2.8 0 1 0 5.6 0a2.8 2.8 0 1 0 -5.6 0M519.34 337.6h0.3M516.9 337.5a2.8 2.8 0 1 0 5.6 0a2.8 2.8 0 1 0 -5.6 0M519.56 337.5h0.3M517.1 337.4a2.8 2.8 0 1 0 5.6 0a2.8 2.8 0 1 0 -5.6 0M519.79 337.4h0.3M517.4 337.3a2.8 2.8 0 1 0 5.6 0a2.8 2.8 0 1 0 -5.6 0M520.01 337.3h0.3M517.6 337.2a2.8 2.8 0 1 0 5.6 0a2.8 2.8 0 1 0 -5.6 0M520.24 337.2h0.3M517.8 337.1a2.8 2.8 0 1 0 5.6 0a2.8 2.8 0 1 0 -5.6 0M520.47 337.1h0.3M518.0 337.0a2.8 2.8 0 1 0 5.6 0a2.8 2.8 0 1 0 -5.6 0M520.70 337.0h0.3M518.3 336.8a2.8 2.8 0 1 0 5.6 0a2.8 2.8 0 1 0 -5.6 0M520.93 336.8h0.3M518.5 336.7a2.8 2.8 0 1 0 5.6 0a2.8 2.8 0 1 0 -5.6 0M521.17 336.7h0.3M518.8 336.6a2.8 2.8 0 1 0 5.6 0a2.8 2.8 0 1 0 -5.6 0M521.41 336.6h0.3M519.0 336.5a2.8 2.8 0 1 0 5.6 0a2.8 2.8 0 1 0 -5.6 0M521.65 336.5h0.3M519.2 336.3a2.8 2.8 0 1 0 5.6 0a2.8 2.8 0 1 0 -5.6 0M521.89 336.3h0.3M519.5 336.2a2.8 2.8 0 1 0 5.6 0a2.8 2.8 0 1 0 -5.6 0M522.14 336.2h0.3M519.7 336.1a2.8 2.8 0 1 0 5.6 0a2.8 2.8 0 1 0 -5.6 0M522.39 336.1h0.3M520.0 335.9a2.8 2.8 0 1 0 5.6 0a2.8 2.8 0 1 0 -5.6 0M522.64 335.9h0.3M520.2 335.8a2.8 2.8 0 1 0 5.6 0a2.8 2.8 0 1 0 -5.6 0M522.90 335.8h0.3M520.5 335.7a2.8 2.8 0 1 0 5.6 0a2.8 2.8 0 1 0 -5.6 0M523.16 335.7h0.3M520.8 335.5a2.8 2.8 0 1 0 5.6 0a2.8 2.8 0 1 0 -5.6 0M523.42 335.5h0.3M521.0 335.4a2.8 2.8 0 1 0 5.6 0a2.8 2.8 0 1 0 -5.6 0M523.68 335.4h0.3M521.3 335.2a2.8 2.8 0 1 0 5.6 0a2.8 2.8 0 1 0 -5.6 0M523.95 335.2h0.3M521.6 335.1a2.8 2.8 0 1 0 5.6 0a2.8 2.8 0 1 0 -5.6 0M524.22 335.1h0.3M521.8 334.9a2.8 2.8 0 1 0 5.6 0a2.8 2.8 0 1 0 -5.6 0M524.50 334.9h0.3M522.1 334.8a2.8 2.8 0 1 0 5.6 0a2.8 2.8 0 1 0 -5.6 0M524.77 334.8h0.3M522.4 334.6a2.8 2.8 0 1 0 5.6 0a2.8 2.8 0 1 0 -5.6 0M525.05 334.6h0.3M522.7 334.4a2.8 2.8 0 1 0 5.6 0a2.8 2.8 0 1 0 -5.6 0M525.34 334.4h0.3M523.0 334.3a2.8 2.8 0 1 0 5.6 0a2.8 2.8 0 1 0 -5.6 0M525.63 334.3h0.3M523.3 334.1a2.8 2.8 0 1 0 5.6 0a2.8 2.8 0 1 0 -5.6 0M525.92 334.1h0.3M523.6 333.9a2.8 2.8 0 1 0 5.6 0a2.8 2.8 0 1 0 -5.6 0M526.22 333.9h0.3M523.9 333.8a2.8 2.8 0 1 0 5.6 0a2.8 2.8 0 1 0 -5.6 0M526.52 333.8h0.3M524.2 333.6a2.8 2.8 0 1 0 5.6 0a2.8 2.8 0 1 0 -5.6 0M526.82 333.6h0.3M524.5 333.4a2.8 2.8 0 1 0 5.6 0a2.8 2.8 0 1 0 -5.6 0M527.13 333.4h0.3M524.8 333.2a2.8 2.8 0 1 0 5.6 0a2.8 2.8 0 1 0 -5.6 0M527.44 333.2h0.3M525.1 333.0a2.8 2.8 0 1 0 5.6 0a2.8 2.8 0 1 0 -5.6 0M527.76 333.0h0.3M525.4 332.8a2.8 2.8 0 1 0 5.6 0a2.8 2.8 0 1 0 -5.6 0M528.08 332.8h0.3M525.8 332.6a2.8 2.8 0 1 0 5.6 0a2.8 2.8 0 1 0 -5.6 0M528.41 332.6h0.3M526.1 332.4a2.8 2.8 0 1 0 5.6 0a2.8 2.8 0 1 0 -5.6 0M528.74 332.4h0.3M526.4 332.2a2.8 2.8 0 1 0 5.6 0a2.8 2.8 0 1 0 -5.6 0M529.08 332.2h0.3M526.8 332.0a2.8 2.8 0 1 0 5.6 0a2.8 2.8 0 1 0 -5.6 0M529.42 332.0h0.3M527.1 331.8a2.8 2.8 0 1 0 5.6 0a2.8 2.8 0 1 0 -5.6 0M529.77 331.8h0.3M527.5 331.6a2.8 2.8 0 1 0 5.6 0a2.8 2.8 0 1 0 -5.6 0M530.12 331.6h0.3M527.8 331.3a2.8 2.8 0 1 0 5.6 0a2.8 2.8 0 1 0 -5.6 0M530.48 331.3h0.3M528.2 331.1a2.8 2.8 0 1 0 5.6 0a2.8 2.8 0 1 0 -5.6 0M530.84 331.1h0.3M528.6 330.8a2.8 2.8 0 1 0 5.6 0a2.8 2.8 0 1 0 -5.6 0M531.21 330.8h0.3M528.9 330.6a2.8 2.8 0 1 0 5.6 0a2.8 2.8 0 1 0 -5.6 0M531.59 330.6h0.3M529.3 330.3a2.8 2.8 0 1 0 5.6 0a2.8 2.8 0 1 0 -5.6 0M531.97 330.3h0.3M529.7 330.1a2.8 2.8 0 1 0 5.6 0a2.8 2.8 0 1 0 -5.6 0M532.36 330.1h0.3M530.1 329.8a2.8 2.8 0 1 0 5.6 0a2.8 2.8 0 1 0 -5.6 0M532.76 329.8h0.3M530.5 329.5a2.8 2.8 0 1 0 5.6 0a2.8 2.8 0 1 0 -5.6 0M533.16 329.5h0.3M530.9 329.2a2.8 2.8 0 1 0 5.6 0a2.8 2.8 0 1 0 -5.6 0M533.57 329.2h0.3M531.3 328.9a2.8 2.8 0 1 0 5.6 0a2.8 2.8 0 1 0 -5.6 0M533.99 328.9h0.3M531.8 328.5a2.8 2.8 0 1 0 5.6 0a2.8 2.8 0 1 0 -5.6 0M534.42 328.5h0.3M532.2 328.2a2.8 2.8 0 1 0 5.6 0a2.8 2.8 0 1 0 -5.6 0M534.85 328.2h0.3M532.6 327.8a2.8 2.8 0 1 0 5.6 0a2.8 2.8 0 1 0 -5.6 0M535.30 327.8h0.3M533.1 327.4a2.8 2.8 0 1 0 5.6 0a2.8 2.8 0 1 0 -5.6 0M535.75 327.4h0.3M533.6 327.0a2.8 2.8 0 1 0 5.6 0a2.8 2.8 0 1 0 -5.6 0M536.21 327.0h0.3M534.0 326.6a2.8 2.8 0 1 0 5.6 0a2.8 2.8 0 1 0 -5.6 0M536.69 326.6h0.3M534.5 326.1a2.8 2.8 0 1 0 5.6 0a2.8 2.8 0 1 0 -5.6 0M537.17 326.1h0.3M535.0 325.6a2.8 2.8 0 1 0 5.6 0a2.8 2.8 0 1 0 -5.6 0M537.66 325.6h0.3M535.5 325.1a2.8 2.8 0 1 0 5.6 0a2.8 2.8 0 1 0 -5.6 0M538.17 325.1h0.3M536.0 324.5a2.8 2.8 0 1 0 5.6 0a2.8 2.8 0 1 0 -5.6 0M538.68 324.5h0.3M536.6 323.9a2.8 2.8 0 1 0 5.6 0a2.8 2.8 0 1 0 -5.6 0M539.21 323.9h0.3M537.1 323.3a2.8 2.8 0 1 0 5.6 0a2.8 2.8 0 1 0 -5.6 0M539.75 323.3h0.3M537.7 322.6a2.8 2.8 0 1 0 5.6 0a2.8 2.8 0 1 0 -5.6 0M540.31 322.6h0.3M538.2 321.9a2.8 2.8 0 1 0 5.6 0a2.8 2.8 0 1 0 -5.6 0M540.88 321.9h0.3M538.8 321.1a2.8 2.8 0 1 0 5.6 0a2.8 2.8 0 1 0 -5.6 0M541.46 321.1h0.3M539.4 320.2a2.8 2.8 0 1 0 5.6 0a2.8 2.8 0 1 0 -5.6 0M542.06 320.2h0.3M540.0 319.3a2.8 2.8 0 1 0 5.6 0a2.8 2.8 0 1 0 -5.6 0M542.68 319.3h0.3M540.7 318.3a2.8 2.8 0 1 0 5.6 0a2.8 2.8 0 1 0 -5.6 0M543.31 318.3h0.3M541.3 317.2a2.8 2.8 0 1 0 5.6 0a2.8 2.8 0 1 0 -5.6 0M543.97 317.2h0.3M542.0 316.1a2.8 2.8 0 1 0 5.6 0a2.8 2.8 0 1 0 -5.6 0M544.64 316.1h0.3M542.7 314.9a2.8 2.8 0 1 0 5.6 0a2.8 2.8 0 1 0 -5.6 0M545.33 314.9h0.3M543.4 313.6a2.8 2.8 0 1 0 5.6 0a2.8 2.8 0 1 0 -5.6 0M546.05 313.6h0.3M544.1 312.2a2.8 2.8 0 1 0 5.6 0a2.8 2.8 0 1 0 -5.6 0M546.79 312.2h0.3M544.9 310.7a2.8 2.8 0 1 0 5.6 0a2.8 2.8 0 1 0 -5.6 0M547.55 310.7h0.3M545.7 309.2a2.8 2.8 0 1 0 5.6 0a2.8 2.8 0 1 0 -5.6 0M548.35 309.2h0.3M546.5 307.5a2.8 2.8 0 1 0 5.6 0a2.8 2.8 0 1 0 -5.6 0M549.17 307.5h0.3M547.4 305.7a2.8 2.8 0 1 0 5.6 0a2.8 2.8 0 1 0 -5.6 0M550.02 305.7h0.3M548.3 303.9a2.8 2.8 0 1 0 5.6 0a2.8 2.8 0 1 0 -5.6 0M550.91 303.9h0.3M549.2 301.9a2.8 2.8 0 1 0 5.6 0a2.8 2.8 0 1 0 -5.6 0M551.83 301.9h0.3M550.1 299.8a2.8 2.8 0 1 0 5.6 0a2.8 2.8 0 1 0 -5.6 0M552.80 299.8h0.3M551.2 297.6a2.8 2.8 0 1 0 5.6 0a2.8 2.8 0 1 0 -5.6 0M553.80 297.6h0.3M552.2 295.3a2.8 2.8 0 1 0 5.6 0a2.8 2.8 0 1 0 -5.6 0M554.86 295.3h0.3M553.3 292.9a2.8 2.8 0 1 0 5.6 0a2.8 2.8 0 1 0 -5.6 0M555.97 292.9h0.3M554.5 290.5a2.8 2.8 0 1 0 5.6 0a2.8 2.8 0 1 0 -5.6 0M557.14 290.5h0.3M555.7 288.0a2.8 2.8 0 1 0 5.6 0a2.8 2.8 0 1 0 -5.6 0M558.37 288.0h0.3M557.0 285.6a2.8 2.8 0 1 0 5.6 0a2.8 2.8 0 1 0 -5.6 0M559.67 285.6h0.3M558.4 283.2a2.8 2.8 0 1 0 5.6 0a2.8 2.8 0 1 0 -5.6 0M561.06 283.2h0.3M559.9 281.0a2.8 2.8 0 1 0 5.6 0a2.8 2.8 0 1 0 -5.6 0M562.53 281.0h0.3M561.5 279.1a2.8 2.8 0 1 0 5.6 0a2.8 2.8 0 1 0 -5.6 0M564.12 279.1h0.3M563.2 277.7a2.8 2.8 0 1 0 5.6 0a2.8 2.8 0 1 0 -5.6 0M565.82 277.7h0.3M565.0 277.0a2.8 2.8 0 1 0 5.6 0a2.8 2.8 0 1 0 -5.6 0M567.67 277.0h0.3M567.0 277.2a2.8 2.8 0 1 0 5.6 0a2.8 2.8 0 1 0 -5.6 0M569.68 277.2h0.3M569.2 278.8a2.8 2.8 0 1 0 5.6 0a2.8 2.8 0 1 0 -5.6 0M571.89 278.8h0.3M571.7 282.1a2.8 2.8 0 1 0 5.6 0a2.8 2.8 0 1 0 -5.6 0M574.35 282.1h0.3M574.5 287.7a2.8 2.8 0 1 0 5.6 0a2.8 2.8 0 1 0 -5.6 0M577.11 287.7h0.3M577.6 296.4a2.8 2.8 0 1 0 5.6 0a2.8 2.8 0 1 0 -5.6 0M580.27 296.4h0.3" fill="none" stroke="#000000" stroke-width="1.1"/>
</g>
<path d="M120.0 26.0H347.0V366.0H120.0ZM151.4 366.0v-3.0M151.4 26.0v3.0M169.8 366.0v-3.0M169.8 26.0v3.0M182.8 366.0v-3.0M182.8 26.0v3.0M192.9 366.0v-3.0M192.9 26.0v3.0M201.2 366.0v-3.0M201.2 26.0v3.0M208.2 366.0v-3.0M208.2 26.0v3.0M214.2 366.0v-3.0M214.2 26.0v3.0M219.5 366.0v-3.0M219.5 26.0v3.0M224.3 366.0v-6.0M224.3 26.0v6.0M255.7 366.0v-3.0M255.7 26.0v3.0M274.1 366.0v-3.0M274.1 26.0v3.0M287.1 366.0v-3.0M287.1 26.0v3.0M297.2 366.0v-3.0M297.2 26.0v3.0M305.5 366.0v-3.0M305.5 26.0v3.0M312.5 366.0v-3.0M312.5 26.0v3.0M318.5 366.0v-3.0M318.5 26.0v3.0M323.9 366.0v-3.0M323.9 26.0v3.0M328.6 366.0v-6.0M328.6 26.0v6.0M120.0 339.1h6.0M347.0 339.1h-6.0M120.0 316.3h6.0M347.0 316.3h-6.0M120.0 296.6h6.0M347.0 296.6h-6.0M120.0 279.2h6.0M347.0 279.2h-6.0M120.0 263.6h6.0M347.0 263.6h-6.0M120.0 161.3h6.0M347.0 161.3h-6.0M120.0 101.4h6.0M347.0 101.4h-6.0M120.0 58.9h6.0M347.0 58.9h-6.0" fill="none" stroke="#000" stroke-width="1.35"/>
<path d="M399.2 26.0H622.0V366.0H399.2ZM430.0 366.0v-3.0M430.0 26.0v3.0M448.1 366.0v-3.0M448.1 26.0v3.0M460.8 366.0v-3.0M460.8 26.0v3.0M470.8 366.0v-3.0M470.8 26.0v3.0M478.9 366.0v-3.0M478.9 26.0v3.0M485.7 366.0v-3.0M485.7 26.0v3.0M491.7 366.0v-3.0M491.7 26.0v3.0M496.9 366.0v-3.0M496.9 26.0v3.0M501.6 366.0v-6.0M501.6 26.0v6.0M532.4 366.0v-3.0M532.4 26.0v3.0M550.4 366.0v-3.0M550.4 26.0v3.0M563.2 366.0v-3.0M563.2 26.0v3.0M573.1 366.0v-3.0M573.1 26.0v3.0M581.3 366.0v-3.0M581.3 26.0v3.0M588.1 366.0v-3.0M588.1 26.0v3.0M594.0 366.0v-3.0M594.0 26.0v3.0M599.3 366.0v-3.0M599.3 26.0v3.0M604.0 366.0v-6.0M604.0 26.0v6.0M399.2 339.1h3.0M622.0 339.1h-3.0M399.2 316.3h3.0M622.0 316.3h-3.0M399.2 296.6h3.0M622.0 296.6h-3.0M399.2 279.2h3.0M622.0 279.2h-3.0M399.2 263.6h6.0M622.0 263.6h-6.0M399.2 161.3h3.0M622.0 161.3h-3.0M399.2 101.4h3.0M622.0 101.4h-3.0M399.2 58.9h3.0M622.0 58.9h-3.0" fill="none" stroke="#000" stroke-width="1.35"/>
<text transform="translate(106.85,66.70) scale(1,1.03)" text-anchor="end">0.4</text>
<text transform="translate(106.85,109.18) scale(1,1.03)" text-anchor="end">0.3</text>
<text transform="translate(106.85,169.05) scale(1,1.03)" text-anchor="end">0.2</text>
<text transform="translate(106.85,373.75) scale(1,1.03)" text-anchor="end">0.05</text>
<text transform="translate(76.35,271.35) scale(1,1.03)">0.</text>
<path d="M100.32 271.35V259.91H96.87V258.48C99.31 258.39 100.43 257.64 101.02 255.28H102.30V271.35Z" fill="#000"/>
<text transform="translate(107.21,395.60) scale(1,1.03)">0.</text>
<path d="M131.82 395.60V384.16H128.37V382.73C130.81 382.64 131.93 381.89 132.52 379.53H133.80V395.60Z" fill="#000"/>
<path d="M226.89 395.60V384.16H223.43V382.73C225.87 382.64 227.00 381.89 227.59 379.53H228.87V395.60Z" fill="#000"/>
<path d="M324.90 395.60V384.16H321.45V382.73C323.89 382.64 325.01 381.89 325.60 379.53H326.88V395.60Z" fill="#000"/>
<text transform="translate(331.37,395.60) scale(1,1.03)">0</text>
<text transform="translate(386.41,395.60) scale(1,1.03)">0.</text>
<path d="M411.02 395.60V384.16H407.57V382.73C410.01 382.64 411.13 381.89 411.72 379.53H413.00V395.60Z" fill="#000"/>
<path d="M504.16 395.60V384.16H500.70V382.73C503.14 382.64 504.27 381.89 504.86 379.53H506.14V395.60Z" fill="#000"/>
<path d="M600.24 395.60V384.16H596.79V382.73C599.23 382.64 600.35 381.89 600.94 379.53H602.22V395.60Z" fill="#000"/>
<text transform="translate(606.71,395.60) scale(1,1.03)">0</text>
<text transform="translate(208.50,426.00) scale(1,1.03)">d / <tspan font-family="Liberation Serif, serif" font-style="italic">l</tspan><tspan font-size="17.6" dy="5.7">B</tspan></text>
<text transform="translate(485.70,426.00) scale(1,1.03)">d / <tspan font-family="Liberation Serif, serif" font-style="italic">l</tspan><tspan font-size="17.6" dy="5.7">B</tspan></text>
<text transform="translate(137.85,66.60) scale(1,1.03)">(a)</text>
<text transform="translate(170.51,66.60) scale(1.114,1)" font-family="Liberation Serif, serif" font-size="25.76">α</text>
<text transform="translate(190.50,66.60) scale(1,1.03)">= 0.5</text>
<text transform="translate(416.60,66.60) scale(1,1.03)">(b)</text>
<text transform="translate(449.66,66.60) scale(1.114,1)" font-family="Liberation Serif, serif" font-size="25.76">α</text>
<text transform="translate(469.50,66.60) scale(1,1.03)">= 0.75</text>
<text transform="translate(593.70,49.80) scale(1,1.03)">N</text>
<text transform="translate(596.25,71.70) scale(1,1.03)">4</text>
<path d="M563.4 64.6h6.0M566.4 61.6v6.0" fill="none" stroke="#ff0000" stroke-width="0.8"/>
<text transform="translate(596.25,93.52) scale(1,1.03)">6</text>
<path d="M563.4 83.4l6.0 6.0M563.4 89.4l6.0 -6.0" fill="none" stroke="#00ff00" stroke-width="0.8"/>
<text transform="translate(596.25,115.34) scale(1,1.03)">8</text>
<path d="M563.4 108.2h6.0M566.4 105.2v6.0M563.4 105.2l6.0 6.0M563.4 111.2l6.0 -6.0" fill="none" stroke="#0000ff" stroke-width="0.8"/>
<text transform="translate(596.25,137.16) scale(1,1.03)">0</text>
<path d="M589.62 137.16V125.72H586.17V124.29C588.61 124.20 589.73 123.45 590.32 121.09H591.60V137.16Z" fill="#000"/>
<path d="M563.6 127.3h5.6v5.6h-5.6zM566.25 130.1h0.3" fill="none" stroke="#ff00ff" stroke-width="0.85"/>
<text transform="translate(596.25,158.98) scale(1,1.03)">2</text>
<path d="M589.62 158.98V147.54H586.17V146.11C588.61 146.02 589.73 145.27 590.32 142.91H591.60V158.98Z" fill="#000"/>
<path d="M563.4 148.9h6.0v6.0h-6.0z" fill="#00ffff" stroke="none"/>
<text transform="translate(596.25,180.80) scale(1,1.03)">4</text>
<path d="M589.62 180.80V169.36H586.17V167.93C588.61 167.84 589.73 167.09 590.32 164.73H591.60V180.80Z" fill="#000"/>
<path d="M563.6 173.7a2.8 2.8 0 1 0 5.6 0a2.8 2.8 0 1 0 -5.6 0M566.25 173.7h0.3" fill="none" stroke="#000000" stroke-width="0.85"/>
<g transform="translate(54.7,279.8) rotate(-90) scale(1,1.03)"><text x="0" y="0">N<tspan font-size="17.6" dy="-10.3">-<tspan font-family="Liberation Serif, serif" font-size="23">α</tspan></tspan><tspan dy="10.3"> e</tspan><tspan font-size="17.6" dy="-10.3">(d/4<tspan font-family="Liberation Serif, serif" font-style="italic" dx="-0.3">l</tspan></tspan><tspan font-size="14.1" dy="4.6" dx="-1.2">B</tspan><tspan font-size="17.6" dy="-4.6">)</tspan><tspan font-size="14.1" dy="-9.2">2</tspan><tspan font-size="17.6" dy="9.2">/4</tspan><tspan dy="10.3"> </tspan><tspan font-family="Liberation Serif, serif">Γ</tspan><tspan font-size="17.6" dy="-10.3">e/2</tspan></text></g>
</g></svg>
</body></html>
